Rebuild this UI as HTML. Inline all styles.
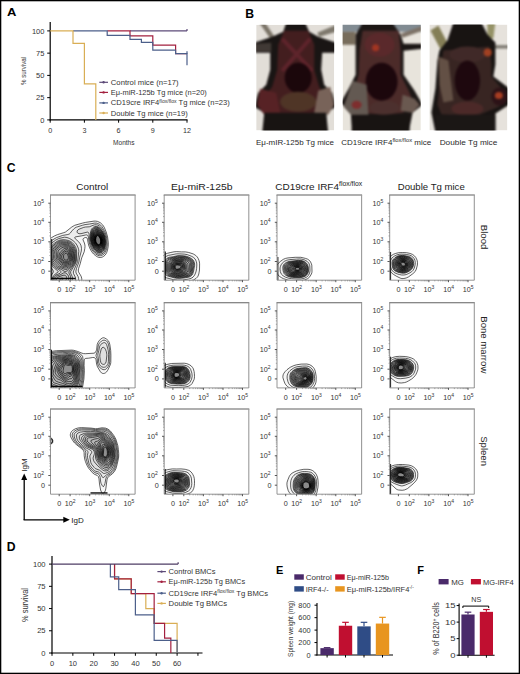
<!DOCTYPE html>
<html><head><meta charset="utf-8"><style>
html,body{margin:0;padding:0;background:#fff;overflow:hidden;}
svg{display:block;}
text{font-family:"Liberation Sans", sans-serif;}
</style></head><body>
<svg width="520" height="674" viewBox="0 0 520 674">
<rect x="0" y="0" width="520" height="674" fill="#fff"/>
<text x="6.90" y="16.00" font-size="11.4" text-anchor="start" fill="#000" font-weight="bold" textLength="9.4" lengthAdjust="spacingAndGlyphs" >A</text>
<line x1="50.20" y1="22.00" x2="50.20" y2="120.50" stroke="#000" stroke-width="1.2"/>
<line x1="49.60" y1="119.90" x2="187.50" y2="119.90" stroke="#000" stroke-width="1.2"/>
<line x1="47.20" y1="119.90" x2="50.20" y2="119.90" stroke="#000" stroke-width="1"/>
<text x="44.40" y="122.60" font-size="7.5" text-anchor="end" fill="#333" >0</text>
<line x1="47.20" y1="97.65" x2="50.20" y2="97.65" stroke="#000" stroke-width="1"/>
<text x="44.40" y="100.35" font-size="7.5" text-anchor="end" fill="#333" >25</text>
<line x1="47.20" y1="75.40" x2="50.20" y2="75.40" stroke="#000" stroke-width="1"/>
<text x="44.40" y="78.10" font-size="7.5" text-anchor="end" fill="#333" >50</text>
<line x1="47.20" y1="53.15" x2="50.20" y2="53.15" stroke="#000" stroke-width="1"/>
<text x="44.40" y="55.85" font-size="7.5" text-anchor="end" fill="#333" >75</text>
<line x1="47.20" y1="30.90" x2="50.20" y2="30.90" stroke="#000" stroke-width="1"/>
<text x="44.40" y="33.60" font-size="7.5" text-anchor="end" fill="#333" >100</text>
<line x1="50.20" y1="119.90" x2="50.20" y2="122.70" stroke="#000" stroke-width="1"/>
<text x="50.20" y="132.60" font-size="7.2" text-anchor="middle" fill="#333" >0</text>
<line x1="84.40" y1="119.90" x2="84.40" y2="122.70" stroke="#000" stroke-width="1"/>
<text x="84.40" y="132.60" font-size="7.2" text-anchor="middle" fill="#333" >3</text>
<line x1="118.60" y1="119.90" x2="118.60" y2="122.70" stroke="#000" stroke-width="1"/>
<text x="118.60" y="132.60" font-size="7.2" text-anchor="middle" fill="#333" >6</text>
<line x1="152.80" y1="119.90" x2="152.80" y2="122.70" stroke="#000" stroke-width="1"/>
<text x="152.80" y="132.60" font-size="7.2" text-anchor="middle" fill="#333" >9</text>
<line x1="187.00" y1="119.90" x2="187.00" y2="122.70" stroke="#000" stroke-width="1"/>
<text x="187.00" y="132.60" font-size="7.2" text-anchor="middle" fill="#333" >12</text>
<text x="123.80" y="145.00" font-size="6.6" text-anchor="middle" fill="#333" textLength="21.5" lengthAdjust="spacingAndGlyphs" >Months</text>
<text x="26.00" y="71.00" font-size="6.8" text-anchor="middle" fill="#333" textLength="28" lengthAdjust="spacingAndGlyphs" transform="rotate(-90 26.00 71.00)" >% survival</text>
<polyline points="130.00,30.90 187.00,30.90 187.00,30.90" stroke="#5d4a78" stroke-width="1.2" fill="none" />
<polyline points="107.20,30.90 130.00,30.90 130.00,35.88 152.80,35.88 152.80,45.14 175.60,45.14 175.60,53.68 187.00,53.68 187.00,53.68" stroke="#a3203f" stroke-width="1.2" fill="none" />
<polyline points="73.00,30.90 107.20,30.90 107.20,35.35 130.00,35.35 130.00,39.36 141.40,39.36 141.40,42.47 152.80,42.47 152.80,50.04 175.60,50.04 175.60,53.68 187.00,53.68 187.00,53.68 187.00,53.68 187.00,65.17" stroke="#4c5f8a" stroke-width="1.2" fill="none" />
<polyline points="50.20,30.90 73.00,30.90 73.00,43.36 84.40,43.36 84.40,83.86 95.80,83.86 95.80,83.86 95.80,83.86 95.80,119.90" stroke="#d9ae55" stroke-width="1.2" fill="none" />
<line x1="187.00" y1="30.90" x2="187.00" y2="29.12" stroke="#5d4a78" stroke-width="1.2"/>
<line x1="187.00" y1="53.68" x2="187.00" y2="51.37" stroke="#4c5f8a" stroke-width="1.2"/>
<line x1="99.30" y1="82.30" x2="108.00" y2="82.30" stroke="#5d4a78" stroke-width="1.2"/>
<circle cx="103.6" cy="82.3" r="1.2" fill="#5d4a78"/>
<text x="110.80" y="84.80" font-size="7.2" text-anchor="start" fill="#333" textLength="67.8" lengthAdjust="spacingAndGlyphs" >Control mice (n=17)</text>
<line x1="99.30" y1="92.40" x2="108.00" y2="92.40" stroke="#a3203f" stroke-width="1.2"/>
<circle cx="103.6" cy="92.4" r="1.2" fill="#a3203f"/>
<text x="110.80" y="94.90" font-size="7.2" text-anchor="start" fill="#333" textLength="96" lengthAdjust="spacingAndGlyphs" >E&#956;-miR-125b Tg mice (n=20)</text>
<line x1="99.30" y1="102.90" x2="108.00" y2="102.90" stroke="#4c5f8a" stroke-width="1.2"/>
<circle cx="103.6" cy="102.9" r="1.2" fill="#4c5f8a"/>
<text x="110.80" y="105.40" font-size="7.2" text-anchor="start" fill="#333" textLength="119" lengthAdjust="spacingAndGlyphs" >CD19cre IRF4<tspan font-size="4.8" dy="-2.8">flox/flox</tspan><tspan dy="2.8"> Tg mice (n=23)</tspan></text>
<line x1="99.30" y1="113.00" x2="108.00" y2="113.00" stroke="#d9ae55" stroke-width="1.2"/>
<circle cx="103.6" cy="113.0" r="1.2" fill="#d9ae55"/>
<text x="110.80" y="115.50" font-size="7.2" text-anchor="start" fill="#333" textLength="77" lengthAdjust="spacingAndGlyphs" >Double Tg mice (n=19)</text>
<text x="245.20" y="18.30" font-size="12.2" text-anchor="start" fill="#000" font-weight="bold" >B</text>
<defs><filter id="bl" x="-10%" y="-10%" width="120%" height="120%" color-interpolation-filters="sRGB"><feGaussianBlur stdDeviation="0.9"/><feComponentTransfer><feFuncR type="linear" slope="0.72"/><feFuncG type="linear" slope="0.72"/><feFuncB type="linear" slope="0.72"/></feComponentTransfer></filter><filter id="bl2" x="-20%" y="-20%" width="140%" height="140%"><feGaussianBlur stdDeviation="2.2"/></filter><clipPath id="ph1"><rect x="256.2" y="24.8" width="78" height="105.6"/></clipPath><clipPath id="ph2"><rect x="342.6" y="24.8" width="78.2" height="105.6"/></clipPath><clipPath id="ph3"><rect x="429.4" y="24.6" width="78" height="105.8"/></clipPath></defs>
<g clip-path="url(#ph1)">
<rect x="256.20" y="24.80" width="78.00" height="105.60" fill="#e2ded8" stroke="none" stroke-width="0" />
<g filter="url(#bl)" transform="translate(256.2 24.8)">
<polygon points="3,-2 9,-2 19,13 15,15" fill="#aaa090"/>
<polygon points="80,0 80,7 63,12 61,8" fill="#b0a898"/>
<polygon points="30,-2 49,-2 53,7 62,12 80,18 80,28 66,28 65,45 68,60 76,68 80,82 70,88 72,108 6,108 8,88 -2,82 2,68 10,60 14,45 14,28 -2,28 -2,18 16,12 27,7" fill="#241e1c"/>
<polygon points="-2,19 15,18 15,27 -2,27" fill="#5a504a"/>
<polygon points="28,6 52,6 58,20 58,45 63,62 70,72 70,86 50,89 28,89 8,86 8,72 16,62 21,45 22,20" fill="#5e2a2c"/>
<path d="M26 14 L56 46 M54 14 L26 46" stroke="#8a3440" stroke-width="4" stroke-opacity="0.85" fill="none"/>
<ellipse cx="42" cy="53" rx="13.5" ry="15" fill="#260a10"/>
<ellipse cx="42" cy="77" rx="18" ry="10" fill="#6e4a36"/>
<polygon points="4,64 20,68 24,88 8,90 1,80" fill="#7a3034"/>
<polygon points="74,62 62,66 58,88 72,90 78,80" fill="#a88a7c"/>
<rect x="8" y="88" width="62" height="20" fill="#221c1a"/>
</g></g>
<g clip-path="url(#ph2)">
<rect x="342.60" y="24.80" width="78.20" height="105.60" fill="#e8e4dc" stroke="none" stroke-width="0" />
<g filter="url(#bl)" transform="translate(342.6 24.8)">
<rect x="-2" y="-2" width="82" height="9" fill="#b4c2cc"/>
<rect x="-2" y="7" width="15" height="13" fill="#a89880"/>
<polygon points="80,1 80,6 60,13 58,9" fill="#b0a090"/>
<polygon points="20,-2 50,-2 58,10 61,19 80,19 80,24 61,26 61,50 72,66 80,80 70,88 66,108 10,108 8,88 -2,78 6,64 13,50 13,26 13,10" fill="#28201e"/>
<polygon points="20,6 56,6 58,25 58,50 66,66 72,80 60,88 40,90 20,88 6,78 12,64 16,50 17,25" fill="#6a3c3a"/>
<ellipse cx="37" cy="20" rx="15" ry="12" fill="#7e3a3c"/>
<ellipse cx="33" cy="23" rx="3.5" ry="3.5" fill="#e04a30"/>
<ellipse cx="39" cy="57" rx="16" ry="19" fill="#280a12"/>
<polygon points="1,82 10,56 24,60 26,92 10,92" fill="#8a7c72"/>
<ellipse cx="14" cy="80" rx="5" ry="4" fill="#b04040"/>
<polygon points="60,70 72,74 77,80 70,88 58,86" fill="#947c70"/>
<ellipse cx="42" cy="83" rx="15" ry="7" fill="#6a4440"/>
<rect x="9" y="90" width="58" height="18" fill="#221c1a"/>
</g></g>
<g clip-path="url(#ph3)">
<rect x="429.40" y="24.60" width="78.00" height="105.80" fill="#e6e2dc" stroke="none" stroke-width="0" />
<g filter="url(#bl)" transform="translate(429.4 24.6)">
<polygon points="1,6 9,1 20,22 15,32" fill="#b8b078"/>
<polygon points="58,-2 66,-2 64,14 58,14" fill="#d0cc90"/>
<rect x="64" y="20.5" width="16" height="3.5" fill="#b2aea2"/>
<polygon points="24,-2 52,-2 58,10 66,18 66,40 64,52 80,64 80,80 66,89 66,108 6,108 2,88 6,64 8,36 10,26 18,16" fill="#221c1a"/>
<polygon points="14,26 60,22 62,40 62,52 74,66 70,82 46,92 12,90 8,80 10,60 12,40" fill="#4e3430"/>
<ellipse cx="38" cy="30" rx="18" ry="8" fill="#5a3a38"/>
<polygon points="9,32 19,36 24,76 14,78 10,60" fill="#8a7060"/>
<ellipse cx="38" cy="56" rx="12.7" ry="20" fill="#2a0c14"/>
<ellipse cx="38" cy="84" rx="16" ry="7" fill="#6a3a38"/>
<ellipse cx="58.3" cy="27.8" rx="4" ry="4" fill="#e05a30"/>
<ellipse cx="70" cy="72" rx="8" ry="9" fill="#3e1a20"/>
<ellipse cx="69.4" cy="71" rx="4" ry="3.5" fill="#e85530"/>
<rect x="6" y="90" width="60" height="18" fill="#26201e"/>
</g></g>
<text x="295.00" y="145.20" font-size="8.0" text-anchor="middle" fill="#2a2a2a" textLength="78" lengthAdjust="spacingAndGlyphs" >E&#956;-mIR-125b Tg mice</text>
<text x="341.20" y="145.20" font-size="8.0" text-anchor="start" fill="#2a2a2a" textLength="90" lengthAdjust="spacingAndGlyphs" >CD19cre IRF4<tspan font-size="5.8" dy="-3.3">flox/flox</tspan><tspan dy="3.3"> mice</tspan></text>
<text x="468.50" y="145.20" font-size="8.0" text-anchor="middle" fill="#2a2a2a" textLength="57.7" lengthAdjust="spacingAndGlyphs" >Double Tg mice</text>
<text x="6.80" y="172.00" font-size="12.2" text-anchor="start" fill="#000" font-weight="bold" >C</text>
<text x="92.25" y="189.60" font-size="9.6" text-anchor="middle" fill="#222" textLength="32" lengthAdjust="spacingAndGlyphs" >Control</text>
<text x="201.75" y="189.60" font-size="9.6" text-anchor="middle" fill="#222" textLength="61.5" lengthAdjust="spacingAndGlyphs" >E&#956;-miR-125b</text>
<text x="318.75" y="189.60" font-size="9.6" text-anchor="middle" fill="#222" textLength="87" lengthAdjust="spacingAndGlyphs" >CD19cre IRF4<tspan font-size="6.6" dy="-3.6">flox/flox</tspan></text>
<text x="431.25" y="189.60" font-size="9.6" text-anchor="middle" fill="#222" textLength="67" lengthAdjust="spacingAndGlyphs" >Double Tg mice</text>
<clipPath id="cp00"><rect x="50.5" y="195.0" width="84.6" height="85.2"/></clipPath>
<g clip-path="url(#cp00)"><g transform="translate(50.5 195.0)" fill="#000" fill-opacity="0.035" stroke="#000" stroke-width="0.65" stroke-opacity="0.95">
<path d="M48.8 49.6 47.8 49.6 46.8 49.0 45.9 48.0 45.4 46.5 45.2 44.8 45.4 42.8 46.0 41.3 46.8 40.7 47.5 40.7 48.5 41.5 49.5 43.1 50.1 44.8 50.2 46.2 50.0 47.8 49.5 48.9 48.8 49.6Z"/>
<path d="M48.8 49.8 47.8 49.8 46.5 49.0 45.7 47.8 45.2 46.2 45.0 44.5 45.3 42.5 45.9 41.0 46.8 40.4 47.8 40.6 48.8 41.5 49.7 43.2 50.2 44.8 50.4 46.2 50.1 48.0 49.5 49.2 48.8 49.8Z"/>
<path d="M49.0 50.0 48.0 50.2 46.8 49.5 45.7 48.2 45.0 46.5 44.8 44.5 45.1 42.2 45.8 40.7 46.2 40.2 46.8 40.0 47.8 40.2 48.8 41.1 49.7 42.8 50.4 44.5 50.5 46.0 50.3 47.8 49.8 49.2 49.0 50.0Z"/>
<path d="M48.8 50.5 47.5 50.4 46.3 49.5 45.3 48.0 44.7 46.2 44.6 44.0 45.0 41.8 45.8 40.1 46.8 39.6 48.0 40.0 49.0 41.0 50.0 42.8 50.6 44.8 50.7 46.5 50.4 48.5 49.8 49.8 48.8 50.5Z"/>
<path d="M49.0 50.9 47.8 50.8 46.2 49.8 45.2 48.2 44.5 46.2 44.3 44.0 44.7 41.5 45.5 39.8 46.5 39.1 47.8 39.3 49.0 40.5 50.1 42.2 50.8 44.5 51.0 46.5 50.6 48.8 50.0 50.1 49.0 50.9Z"/>
<path d="M49.0 51.3 47.8 51.3 46.2 50.2 45.0 48.5 44.2 46.2 44.0 43.8 44.4 41.2 45.2 39.5 46.2 38.6 47.5 38.8 49.0 39.9 50.2 41.8 51.1 44.2 51.3 46.5 50.9 49.0 50.2 50.5 49.0 51.3Z"/>
<path d="M16.2 65.0 15.0 65.0 14.0 64.5 13.3 63.5 13.0 62.0 13.0 60.8 13.5 59.5 14.5 58.5 15.8 58.0 16.4 58.2 16.9 59.0 17.7 61.0 17.9 62.2 17.8 63.2 17.5 64.0 17.0 64.6 16.2 65.0Z"/>
<path d="M49.0 51.8 48.2 51.8 47.5 51.6 46.0 50.5 44.6 48.5 43.9 46.2 43.7 43.5 44.2 40.8 45.0 38.9 45.5 38.4 46.2 38.1 47.0 38.1 47.8 38.4 49.2 39.6 50.5 41.8 51.3 44.2 51.5 46.8 51.1 49.5 50.2 51.0 49.0 51.8Z"/>
<path d="M16.5 66.3 15.8 66.4 14.8 66.3 13.8 66.0 13.0 65.5 11.6 63.8 11.1 62.0 11.4 60.2 12.5 58.5 14.2 56.9 16.0 56.1 16.8 56.3 17.5 57.2 18.6 60.5 18.9 62.2 18.8 63.5 18.4 64.8 17.5 65.7 16.5 66.3Z"/>
<path d="M49.2 52.3 47.8 52.2 46.8 51.7 46.0 51.0 44.5 49.0 43.6 46.5 43.3 43.5 43.8 40.5 44.8 38.4 45.2 37.9 46.0 37.6 46.8 37.5 47.5 37.7 49.2 39.1 50.7 41.2 51.6 44.0 51.8 46.8 51.5 49.5 50.5 51.4 49.2 52.3Z"/>
<path d="M16.5 67.3 15.5 67.4 14.2 67.3 13.2 66.9 12.3 66.2 10.4 64.0 9.8 62.8 9.6 61.8 10.0 59.8 11.2 57.9 14.0 55.5 15.0 54.8 16.0 54.5 17.2 54.9 18.3 56.2 19.4 60.2 19.8 62.5 19.6 64.2 19.0 65.5 18.0 66.6 16.5 67.3Z"/>
<path d="M49.2 52.8 48.5 52.9 47.5 52.6 45.8 51.3 44.2 49.0 43.2 46.2 43.0 43.2 43.5 40.0 44.5 37.9 45.2 37.2 46.0 37.0 46.8 36.9 47.8 37.3 49.5 38.8 51.0 41.0 51.9 43.8 52.2 46.8 51.7 50.0 50.8 51.9 50.0 52.5 49.2 52.8Z"/>
<path d="M16.2 68.3 15.0 68.4 13.8 68.1 11.8 67.0 10.2 65.5 9.1 64.0 8.6 63.0 8.4 61.8 8.5 60.5 8.9 59.0 9.4 57.8 10.1 56.8 13.2 54.0 14.5 53.4 15.8 53.1 16.8 53.3 17.5 53.7 18.2 54.4 19.0 55.5 19.8 58.0 20.6 62.5 20.3 64.8 19.6 66.2 18.2 67.5 16.2 68.3Z"/>
<path d="M49.5 53.3 48.5 53.4 47.5 53.2 45.8 51.8 43.9 49.2 42.9 46.5 42.6 43.2 43.1 39.8 43.7 38.2 44.2 37.4 45.0 36.7 45.8 36.4 46.5 36.3 47.5 36.6 48.5 37.2 49.5 38.1 51.1 40.5 52.2 43.5 52.5 46.8 52.1 50.0 51.7 51.2 51.0 52.2 50.2 53.0 49.5 53.3Z"/>
<path d="M16.2 69.3 15.0 69.4 13.8 69.2 12.5 68.7 11.5 68.0 8.1 64.5 7.3 63.2 7.1 62.0 7.5 56.8 7.6 56.0 8.1 55.2 9.9 53.8 11.5 52.7 13.0 52.2 15.5 51.9 16.8 52.1 17.8 52.6 18.8 53.6 19.7 55.0 20.7 57.8 21.3 62.5 21.1 65.0 20.3 66.8 18.5 68.3 16.2 69.3Z"/>
<path d="M49.0 54.0 48.0 53.9 47.2 53.6 46.2 52.9 45.2 51.9 43.4 49.0 42.4 46.0 42.2 42.5 42.9 39.0 43.4 37.8 44.0 36.8 44.8 36.1 45.8 35.8 46.8 35.8 47.8 36.1 48.8 36.8 50.0 38.1 51.7 40.8 52.6 44.0 52.8 47.8 52.2 51.0 51.6 52.2 51.0 53.1 50.0 53.8 49.0 54.0Z"/>
<path d="M15.5 70.5 13.2 70.2 11.2 69.2 6.8 65.0 6.1 64.0 5.7 63.0 5.9 59.2 5.6 56.8 5.8 55.5 6.8 54.2 9.0 52.3 10.2 51.5 11.5 51.0 15.8 50.8 16.8 51.0 17.8 51.4 18.9 52.5 20.0 54.0 20.9 55.8 21.5 57.8 22.0 63.5 21.9 65.0 21.5 66.3 20.5 67.7 19.0 69.0 17.0 70.1 15.5 70.5Z"/>
<path d="M49.8 54.5 48.8 54.7 47.5 54.4 46.5 53.8 45.5 52.9 43.4 49.8 42.1 46.5 41.9 44.8 41.8 42.8 42.5 38.8 43.0 37.2 43.7 36.2 44.5 35.6 45.5 35.1 46.5 35.1 47.5 35.4 48.8 36.2 49.8 37.1 50.8 38.5 51.7 40.0 52.8 43.2 53.2 47.0 53.1 49.0 52.7 50.8 52.2 52.2 51.5 53.3 50.8 54.0 49.8 54.5Z"/>
<path d="M16.5 71.5 15.5 71.7 14.0 71.6 12.2 71.1 10.8 70.3 5.7 65.8 4.9 64.8 4.4 63.5 4.2 62.2 4.4 59.5 4.1 56.8 4.5 55.2 5.6 53.8 8.2 51.4 9.5 50.4 10.8 49.9 12.2 49.7 15.8 49.8 17.0 50.1 18.0 50.5 19.2 51.6 20.4 53.0 21.5 55.0 22.2 57.0 22.5 59.0 22.7 63.8 22.6 65.2 22.2 66.5 21.5 67.7 20.5 68.8 18.0 70.7 16.5 71.5Z"/>
<path d="M49.5 55.3 48.5 55.3 47.2 54.9 46.2 54.3 45.2 53.2 44.1 51.8 42.9 49.8 42.2 48.0 41.7 46.2 41.5 44.2 41.4 42.2 42.1 38.2 42.7 36.8 43.4 35.8 44.2 35.0 45.2 34.5 46.2 34.5 47.5 34.8 48.5 35.3 49.8 36.5 51.0 38.0 51.9 39.5 52.7 41.2 53.1 43.0 53.5 45.0 53.5 47.5 53.4 49.5 52.9 51.5 52.3 53.0 51.5 54.1 50.5 54.9 49.5 55.3Z"/>
<path d="M16.0 73.0 14.5 73.0 12.5 72.4 10.5 71.7 9.0 70.8 4.5 66.4 3.5 65.0 2.9 63.5 2.9 59.8 2.7 56.8 3.2 55.0 4.5 53.3 7.8 50.4 9.2 49.3 10.5 48.8 12.2 48.7 16.0 49.0 17.2 49.2 18.5 49.8 19.8 50.8 21.0 52.5 22.3 55.0 23.0 57.0 23.2 59.0 23.3 64.5 23.2 65.8 22.8 67.0 22.0 68.3 20.5 69.8 17.5 72.3 16.0 73.0Z"/>
<path d="M11.2 85.1 10.5 85.2 9.8 85.1 9.4 84.8 9.4 84.2 9.9 83.8 11.0 83.2 11.8 83.1 12.4 83.2 12.6 83.8 12.5 84.2 11.9 84.8 11.2 85.1Z"/>
<path d="M49.5 56.0 48.5 56.0 47.2 55.6 46.0 54.8 44.8 53.5 42.6 50.0 41.9 48.2 41.3 46.2 41.1 44.2 41.1 41.8 41.3 39.5 41.8 37.5 42.5 36.0 43.2 35.0 44.2 34.2 45.2 33.8 46.5 33.8 47.8 34.2 48.8 34.8 50.0 36.0 51.3 37.8 52.4 39.5 53.1 41.2 53.6 43.2 53.9 45.5 53.9 48.0 53.7 50.2 53.2 52.0 52.6 53.5 51.8 54.7 50.8 55.6 49.5 56.0Z"/>
<path d="M16.5 74.3 15.2 74.5 13.5 74.1 9.8 72.6 7.5 71.4 5.6 69.8 3.8 67.6 2.3 65.5 1.6 63.8 1.3 57.2 1.5 56.0 2.0 54.8 3.3 53.0 6.9 49.8 8.5 48.5 10.0 47.9 12.2 47.7 16.0 48.0 17.8 48.4 19.0 49.0 20.4 50.2 21.6 51.8 22.9 54.2 23.6 56.2 23.9 58.5 24.0 64.5 23.9 65.8 23.5 67.0 22.7 68.5 21.2 70.2 18.2 73.1 16.5 74.3Z"/>
<path d="M10.5 87.3 8.5 87.1 7.0 86.2 6.4 85.5 5.9 84.5 5.9 83.8 6.2 83.0 7.2 82.2 12.5 80.3 13.8 80.2 15.0 80.6 15.8 81.4 16.1 82.5 16.0 84.0 15.5 85.2 14.8 86.0 13.9 86.5 10.5 87.3Z"/>
<path d="M49.2 56.8 48.0 56.6 46.8 56.0 45.5 55.1 44.3 53.8 42.2 50.0 41.4 48.0 40.9 46.0 40.6 43.8 40.7 41.2 40.9 39.0 41.4 37.0 42.0 35.5 43.0 34.2 44.0 33.5 45.2 33.1 46.5 33.1 47.8 33.5 49.0 34.3 50.2 35.6 51.7 37.5 52.7 39.2 53.4 41.0 53.9 43.2 54.3 46.0 54.3 48.5 54.0 50.5 53.4 52.8 52.6 54.5 51.8 55.6 50.5 56.4 49.2 56.8Z"/>
<path d="M15.2 76.5 14.0 76.4 10.9 74.5 7.0 72.5 5.2 71.2 3.7 69.8 2.3 67.8 0.9 65.2 0.3 63.5 0.1 61.2 0.1 57.2 0.5 55.5 1.1 54.0 3.0 51.8 6.5 48.7 8.5 47.4 10.2 46.9 12.8 46.8 16.2 47.2 18.2 47.7 19.8 48.4 21.2 49.8 22.5 51.5 23.8 54.2 24.5 56.5 24.6 58.5 24.6 65.0 24.5 66.2 24.0 67.5 22.5 69.9 19.0 73.9 17.0 75.7 15.2 76.5Z"/>
<path d="M13.5 88.0 7.4 88.0 6.8 87.7 5.4 86.5 4.5 85.0 4.3 83.5 4.8 82.2 5.4 81.5 6.1 81.0 9.5 79.9 13.2 77.9 14.5 77.7 15.5 78.2 17.0 79.5 18.0 81.0 18.3 82.5 18.1 84.2 17.6 85.8 16.8 86.8 15.5 87.5 13.5 88.0Z"/>
<path d="M50.2 57.3 49.0 57.4 47.5 57.1 46.2 56.4 44.8 55.1 43.6 53.5 42.4 51.5 41.3 49.0 40.6 46.8 40.3 44.5 40.2 41.5 40.4 39.0 40.8 36.8 41.4 35.2 42.2 34.0 43.5 32.9 44.8 32.4 46.2 32.3 47.5 32.6 48.8 33.3 49.8 34.2 51.4 36.2 52.6 38.2 53.6 40.5 54.2 42.5 54.6 45.0 54.7 47.8 54.6 49.8 54.1 52.0 53.5 54.0 52.6 55.5 51.5 56.6 50.2 57.3Z"/>
<path d="M17.2 88.0 5.5 88.0 3.7 86.2 3.2 85.2 3.0 84.0 3.2 82.8 3.8 81.5 4.7 80.5 5.5 79.9 8.5 78.8 9.5 78.2 10.2 77.5 10.3 76.5 9.3 75.2 5.2 72.8 3.0 70.8 2.0 69.4 -0.0 66.0 -0.9 63.5 -1.1 60.2 -0.9 57.0 -0.5 55.0 0.4 53.2 2.5 50.8 6.0 47.8 8.0 46.6 10.2 45.9 13.0 45.8 16.0 46.1 18.5 46.8 20.2 47.6 21.8 49.0 23.1 50.8 24.6 53.8 25.2 56.0 25.4 58.8 25.3 65.0 25.1 66.5 24.6 67.8 23.8 69.2 19.0 75.8 18.5 76.8 18.4 78.0 20.0 81.2 20.2 83.2 19.9 84.8 19.2 86.2 18.4 87.2 17.2 88.0Z"/>
<path d="M50.0 58.0 48.5 58.1 47.0 57.6 45.5 56.6 44.2 55.3 43.1 53.8 41.9 51.5 40.9 49.0 40.2 46.5 39.9 44.0 39.8 40.8 39.9 38.0 40.4 35.8 41.0 34.2 42.0 33.0 43.2 32.1 44.5 31.6 46.0 31.5 47.5 31.8 48.8 32.5 50.0 33.6 51.6 35.8 52.9 37.8 53.9 40.0 54.6 42.5 54.9 45.0 55.1 48.2 54.9 50.5 54.3 53.0 53.6 55.0 52.6 56.5 51.5 57.4 50.0 58.0Z"/>
<path d="M19.2 88.0 9.8 88.1 3.9 88.0 2.5 86.5 1.8 85.0 1.8 84.0 1.9 83.0 3.1 80.8 4.8 78.9 7.4 77.2 7.7 76.5 7.2 75.8 4.0 73.3 2.0 71.3 1.1 70.0 -1.3 65.8 -1.9 64.2 -2.1 62.0 -2.1 59.0 -1.8 56.2 -1.4 54.8 -0.7 53.2 0.5 51.5 1.8 50.0 3.8 48.3 6.5 46.4 8.0 45.6 9.5 45.1 12.5 44.7 14.8 44.8 18.0 45.5 20.2 46.5 22.0 47.8 23.5 49.5 25.1 52.2 26.0 54.8 26.2 58.0 25.8 66.2 24.9 68.8 20.2 76.5 20.1 78.0 21.7 81.5 22.0 82.8 22.0 83.8 21.7 85.0 21.2 86.0 20.2 87.2 19.2 88.0Z"/>
<path d="M50.2 59.3 48.2 59.3 46.0 58.3 43.9 56.5 42.1 54.0 40.8 51.2 39.6 47.5 39.2 45.0 38.6 39.5 38.3 38.2 37.9 37.5 37.5 37.2 36.8 37.1 30.5 38.7 28.5 38.7 27.2 38.1 26.6 37.2 26.6 36.0 27.3 35.0 28.5 34.2 33.2 32.4 35.0 32.0 38.8 31.8 42.5 30.3 44.2 29.8 45.8 29.8 47.2 30.1 48.8 30.9 50.1 32.0 52.6 35.5 54.4 39.2 55.4 43.0 55.9 48.2 55.4 52.2 54.9 54.2 54.2 56.0 53.4 57.2 52.5 58.2 51.5 58.8 50.2 59.3Z"/>
<path d="M22.8 88.0 9.5 88.2 0.8 88.0 -0.2 87.0 -0.8 86.0 -0.9 84.2 -0.5 82.2 0.2 81.0 2.3 78.0 2.8 77.0 2.8 76.2 2.3 75.0 -0.4 71.5 -3.0 66.8 -3.0 53.5 -0.9 50.2 0.9 48.2 5.2 45.1 8.2 43.6 12.5 42.5 14.2 42.2 16.5 42.5 19.2 43.5 22.5 45.6 24.9 47.8 26.4 50.0 27.8 53.2 28.2 54.8 28.3 56.5 27.1 66.5 26.5 68.2 23.3 75.5 22.8 77.0 23.0 78.5 25.0 82.5 25.1 84.8 24.8 85.8 24.3 86.8 23.3 87.8 22.8 88.0Z"/>
<path d="M26.5 88.0 19.0 88.2 5.2 88.2 -2.2 88.0 -2.7 88.0 -2.9 87.8 -3.0 86.2 -3.0 80.8 -2.4 79.8 -0.7 77.5 -0.4 76.2 -0.8 75.0 -3.0 71.4 -3.2 60.5 -3.0 49.7 -1.5 47.9 0.2 46.3 3.5 44.0 6.0 42.6 12.2 40.4 17.4 39.5 18.8 39.0 19.7 38.2 21.3 36.0 23.2 34.0 24.5 32.9 25.8 32.2 32.2 30.2 34.5 29.6 39.2 29.0 44.0 28.1 45.8 28.1 47.2 28.5 48.8 29.2 50.2 30.2 51.4 31.5 52.4 33.0 53.9 35.8 54.9 38.0 55.8 41.0 56.3 43.5 56.7 49.0 56.6 51.0 56.1 53.8 55.4 56.0 54.6 57.5 53.5 59.0 52.2 59.9 50.0 60.7 48.8 60.7 47.5 60.4 45.0 58.9 42.6 56.5 41.1 54.2 39.8 51.2 38.6 47.0 37.8 41.8 37.5 40.8 37.0 40.2 36.2 39.9 35.0 40.0 30.8 40.9 25.0 41.9 24.5 42.1 24.2 42.5 24.3 43.0 24.8 43.8 27.9 46.5 29.7 48.8 30.6 50.8 31.0 53.5 30.8 56.0 29.2 62.2 28.4 67.0 26.0 73.5 25.4 76.0 25.4 77.0 25.6 78.0 27.6 81.5 28.1 83.5 28.1 84.8 27.8 86.0 27.2 87.2 26.5 88.0Z"/>
<path d="M30.0 88.0 24.5 88.2 8.8 88.2 -2.2 88.2 -3.0 88.2 -3.2 88.0 -3.2 54.8 -3.0 45.9 0.8 42.8 4.0 40.9 7.0 39.6 13.2 37.7 15.0 37.0 21.3 32.0 24.2 30.3 32.0 28.1 35.0 27.4 43.5 26.1 45.2 26.1 47.0 26.4 49.8 27.7 52.1 29.8 53.7 32.2 55.7 37.0 57.1 42.0 57.8 47.8 57.7 51.5 57.0 55.2 56.2 57.5 55.4 59.0 54.5 60.2 53.2 61.3 51.8 62.1 50.0 62.5 48.5 62.4 47.0 61.9 45.0 60.6 43.1 59.0 41.6 57.2 40.2 55.0 39.1 52.8 38.1 50.0 37.6 47.8 37.0 44.3 36.5 43.0 35.8 42.5 35.0 42.5 34.0 42.8 32.9 43.5 32.5 44.2 32.6 45.0 33.9 48.0 34.4 50.0 34.5 51.5 34.3 53.5 33.7 56.8 31.2 62.9 29.7 68.8 28.2 73.2 27.8 75.0 27.9 76.2 28.2 77.2 30.6 81.2 31.2 83.2 31.3 84.5 31.1 86.0 30.5 87.5 30.0 88.0Z"/>
<line x1="1.2" y1="44" x2="1.2" y2="85" stroke-width="1.0"/>
<line x1="0" y1="83.5" x2="25" y2="83.5" stroke-width="1.3"/>
</g></g>
<line x1="50.00" y1="195.00" x2="135.60" y2="195.00" stroke="#606060" stroke-width="1.1"/>
<line x1="135.10" y1="195.00" x2="135.10" y2="280.20" stroke="#9a9a9a" stroke-width="1.1"/>
<line x1="50.50" y1="195.00" x2="50.50" y2="280.20" stroke="#8a8a8a" stroke-width="0.9"/>
<line x1="50.50" y1="280.20" x2="135.10" y2="280.20" stroke="#8a8a8a" stroke-width="0.9"/>
<line x1="49.30" y1="216.55" x2="50.50" y2="216.55" stroke="#777" stroke-width="0.6"/>
<line x1="49.30" y1="213.19" x2="50.50" y2="213.19" stroke="#777" stroke-width="0.6"/>
<line x1="49.30" y1="210.80" x2="50.50" y2="210.80" stroke="#777" stroke-width="0.6"/>
<line x1="49.30" y1="208.95" x2="50.50" y2="208.95" stroke="#777" stroke-width="0.6"/>
<line x1="49.30" y1="207.44" x2="50.50" y2="207.44" stroke="#777" stroke-width="0.6"/>
<line x1="49.30" y1="206.16" x2="50.50" y2="206.16" stroke="#777" stroke-width="0.6"/>
<line x1="49.30" y1="205.05" x2="50.50" y2="205.05" stroke="#777" stroke-width="0.6"/>
<line x1="49.30" y1="204.07" x2="50.50" y2="204.07" stroke="#777" stroke-width="0.6"/>
<line x1="49.30" y1="235.93" x2="50.50" y2="235.93" stroke="#777" stroke-width="0.6"/>
<line x1="49.30" y1="232.50" x2="50.50" y2="232.50" stroke="#777" stroke-width="0.6"/>
<line x1="49.30" y1="230.06" x2="50.50" y2="230.06" stroke="#777" stroke-width="0.6"/>
<line x1="49.30" y1="228.17" x2="50.50" y2="228.17" stroke="#777" stroke-width="0.6"/>
<line x1="49.30" y1="226.63" x2="50.50" y2="226.63" stroke="#777" stroke-width="0.6"/>
<line x1="49.30" y1="225.32" x2="50.50" y2="225.32" stroke="#777" stroke-width="0.6"/>
<line x1="49.30" y1="224.19" x2="50.50" y2="224.19" stroke="#777" stroke-width="0.6"/>
<line x1="49.30" y1="223.19" x2="50.50" y2="223.19" stroke="#777" stroke-width="0.6"/>
<line x1="49.30" y1="255.57" x2="50.50" y2="255.57" stroke="#777" stroke-width="0.6"/>
<line x1="49.30" y1="252.10" x2="50.50" y2="252.10" stroke="#777" stroke-width="0.6"/>
<line x1="49.30" y1="249.64" x2="50.50" y2="249.64" stroke="#777" stroke-width="0.6"/>
<line x1="49.30" y1="247.73" x2="50.50" y2="247.73" stroke="#777" stroke-width="0.6"/>
<line x1="49.30" y1="246.17" x2="50.50" y2="246.17" stroke="#777" stroke-width="0.6"/>
<line x1="49.30" y1="244.85" x2="50.50" y2="244.85" stroke="#777" stroke-width="0.6"/>
<line x1="49.30" y1="243.71" x2="50.50" y2="243.71" stroke="#777" stroke-width="0.6"/>
<line x1="49.30" y1="242.70" x2="50.50" y2="242.70" stroke="#777" stroke-width="0.6"/>
<line x1="76.00" y1="280.20" x2="76.00" y2="281.40" stroke="#777" stroke-width="0.6"/>
<line x1="79.45" y1="280.20" x2="79.45" y2="281.40" stroke="#777" stroke-width="0.6"/>
<line x1="81.90" y1="280.20" x2="81.90" y2="281.40" stroke="#777" stroke-width="0.6"/>
<line x1="83.80" y1="280.20" x2="83.80" y2="281.40" stroke="#777" stroke-width="0.6"/>
<line x1="85.35" y1="280.20" x2="85.35" y2="281.40" stroke="#777" stroke-width="0.6"/>
<line x1="86.66" y1="280.20" x2="86.66" y2="281.40" stroke="#777" stroke-width="0.6"/>
<line x1="87.80" y1="280.20" x2="87.80" y2="281.40" stroke="#777" stroke-width="0.6"/>
<line x1="88.80" y1="280.20" x2="88.80" y2="281.40" stroke="#777" stroke-width="0.6"/>
<line x1="95.60" y1="280.20" x2="95.60" y2="281.40" stroke="#777" stroke-width="0.6"/>
<line x1="99.05" y1="280.20" x2="99.05" y2="281.40" stroke="#777" stroke-width="0.6"/>
<line x1="101.50" y1="280.20" x2="101.50" y2="281.40" stroke="#777" stroke-width="0.6"/>
<line x1="103.40" y1="280.20" x2="103.40" y2="281.40" stroke="#777" stroke-width="0.6"/>
<line x1="104.95" y1="280.20" x2="104.95" y2="281.40" stroke="#777" stroke-width="0.6"/>
<line x1="106.26" y1="280.20" x2="106.26" y2="281.40" stroke="#777" stroke-width="0.6"/>
<line x1="107.40" y1="280.20" x2="107.40" y2="281.40" stroke="#777" stroke-width="0.6"/>
<line x1="108.40" y1="280.20" x2="108.40" y2="281.40" stroke="#777" stroke-width="0.6"/>
<line x1="115.17" y1="280.20" x2="115.17" y2="281.40" stroke="#777" stroke-width="0.6"/>
<line x1="118.60" y1="280.20" x2="118.60" y2="281.40" stroke="#777" stroke-width="0.6"/>
<line x1="121.04" y1="280.20" x2="121.04" y2="281.40" stroke="#777" stroke-width="0.6"/>
<line x1="122.93" y1="280.20" x2="122.93" y2="281.40" stroke="#777" stroke-width="0.6"/>
<line x1="124.47" y1="280.20" x2="124.47" y2="281.40" stroke="#777" stroke-width="0.6"/>
<line x1="125.78" y1="280.20" x2="125.78" y2="281.40" stroke="#777" stroke-width="0.6"/>
<line x1="126.91" y1="280.20" x2="126.91" y2="281.40" stroke="#777" stroke-width="0.6"/>
<line x1="127.91" y1="280.20" x2="127.91" y2="281.40" stroke="#777" stroke-width="0.6"/>
<line x1="48.30" y1="203.20" x2="50.50" y2="203.20" stroke="#444" stroke-width="0.9"/>
<text x="33.30" y="205.70" font-size="7.2" fill="#333">10<tspan font-size="5" dy="-3.2">5</tspan></text>
<line x1="48.30" y1="222.30" x2="50.50" y2="222.30" stroke="#444" stroke-width="0.9"/>
<text x="33.30" y="224.80" font-size="7.2" fill="#333">10<tspan font-size="5" dy="-3.2">4</tspan></text>
<line x1="48.30" y1="241.80" x2="50.50" y2="241.80" stroke="#444" stroke-width="0.9"/>
<text x="33.30" y="244.30" font-size="7.2" fill="#333">10<tspan font-size="5" dy="-3.2">3</tspan></text>
<line x1="48.30" y1="261.50" x2="50.50" y2="261.50" stroke="#444" stroke-width="0.9"/>
<text x="33.30" y="264.00" font-size="7.2" fill="#333">10<tspan font-size="5" dy="-3.2">2</tspan></text>
<line x1="48.30" y1="271.20" x2="50.50" y2="271.20" stroke="#444" stroke-width="0.9"/>
<text x="43.00" y="273.70" font-size="7.2" text-anchor="middle" fill="#333" >0</text>
<line x1="59.20" y1="280.20" x2="59.20" y2="282.20" stroke="#444" stroke-width="0.9"/>
<text x="59.20" y="292.40" font-size="7.2" text-anchor="middle" fill="#333" >0</text>
<line x1="70.10" y1="280.20" x2="70.10" y2="282.20" stroke="#444" stroke-width="0.9"/>
<text x="64.80" y="292.40" font-size="7.2" fill="#333">10<tspan font-size="5" dy="-3.2">2</tspan></text>
<line x1="89.70" y1="280.20" x2="89.70" y2="282.20" stroke="#444" stroke-width="0.9"/>
<text x="84.40" y="292.40" font-size="7.2" fill="#333">10<tspan font-size="5" dy="-3.2">3</tspan></text>
<line x1="109.30" y1="280.20" x2="109.30" y2="282.20" stroke="#444" stroke-width="0.9"/>
<text x="104.00" y="292.40" font-size="7.2" fill="#333">10<tspan font-size="5" dy="-3.2">4</tspan></text>
<line x1="128.80" y1="280.20" x2="128.80" y2="282.20" stroke="#444" stroke-width="0.9"/>
<text x="123.50" y="292.40" font-size="7.2" fill="#333">10<tspan font-size="5" dy="-3.2">5</tspan></text>
<clipPath id="cp01"><rect x="164.2" y="195.0" width="84.6" height="85.2"/></clipPath>
<g clip-path="url(#cp01)"><g transform="translate(164.2 195.0)" fill="#000" fill-opacity="0.03" stroke="#000" stroke-width="0.65" stroke-opacity="0.95">
<path d="M14.0 74.0 13.0 74.2 12.2 74.1 11.6 73.8 11.2 73.3 11.0 72.5 11.0 71.5 11.3 70.8 11.8 70.2 12.5 70.0 13.4 70.0 16.2 70.5 16.8 70.9 16.7 71.8 16.2 73.0 15.4 73.5 14.0 74.0Z"/>
<path d="M13.8 74.5 12.0 74.5 11.0 73.8 10.7 73.0 10.6 72.0 10.7 71.0 11.0 70.2 11.5 69.8 12.5 69.5 16.5 69.7 17.2 70.0 17.6 70.5 17.6 71.0 17.3 72.5 17.0 73.2 16.0 73.9 13.8 74.5Z"/>
<path d="M13.8 75.0 11.8 75.0 11.0 74.6 10.5 74.0 10.2 73.2 10.1 72.0 10.2 70.8 10.5 70.0 11.2 69.3 12.2 69.0 14.8 69.1 16.8 69.0 17.6 69.2 18.1 69.8 18.3 70.8 18.1 72.8 17.8 73.6 16.8 74.3 13.8 75.0Z"/>
<path d="M14.2 75.5 12.8 75.7 11.8 75.6 11.0 75.4 10.2 74.7 9.8 73.8 9.6 72.8 9.6 71.0 10.0 69.8 10.8 68.9 11.8 68.5 14.8 68.5 16.8 68.3 17.8 68.5 18.6 69.2 18.9 70.2 18.8 73.0 18.5 74.1 18.2 74.5 17.5 74.9 14.2 75.5Z"/>
<path d="M13.8 76.3 12.2 76.4 11.2 76.2 10.4 75.8 9.6 75.0 9.2 74.0 9.1 72.5 9.2 70.5 9.6 69.2 10.5 68.3 11.8 67.9 14.5 67.9 17.0 67.7 18.2 68.0 19.0 68.8 19.6 70.0 19.5 73.8 19.2 74.8 18.8 75.3 18.0 75.7 13.8 76.3Z"/>
<path d="M13.8 77.0 12.2 77.1 11.0 76.8 9.8 76.1 9.0 75.2 8.6 74.2 8.5 72.8 8.6 70.5 9.0 69.0 10.0 67.9 11.5 67.3 17.0 67.0 18.5 67.4 19.7 68.5 20.2 69.8 20.4 74.2 20.2 75.2 19.5 76.0 18.5 76.5 13.8 77.0Z"/>
<path d="M14.2 77.8 12.5 77.9 11.0 77.6 9.4 76.8 8.4 75.8 8.0 75.0 7.9 73.8 8.0 70.5 8.4 69.0 9.5 67.5 11.0 66.8 16.8 66.4 18.5 66.6 20.0 67.7 20.9 69.2 21.4 74.5 21.3 75.5 20.5 76.5 19.2 77.1 14.2 77.8Z"/>
<path d="M14.8 78.5 13.0 78.6 11.2 78.3 9.2 77.4 7.8 76.2 7.3 75.5 7.2 74.5 7.6 69.2 8.0 68.2 8.8 67.3 10.5 66.3 11.8 66.0 16.8 65.7 18.5 65.9 19.5 66.3 20.4 67.0 21.3 68.0 21.9 69.0 22.1 70.0 22.2 72.2 22.6 74.2 22.5 75.5 21.7 76.8 20.2 77.6 18.5 78.0 14.8 78.5Z"/>
<path d="M14.8 79.3 12.8 79.3 11.0 78.9 8.2 77.6 6.9 76.5 6.5 75.8 6.3 74.8 6.9 69.0 7.4 68.0 8.2 66.9 9.2 66.2 10.5 65.7 16.8 65.1 19.2 65.4 20.5 66.0 21.6 66.8 22.9 68.0 23.5 68.8 23.7 69.8 23.7 72.0 23.9 74.2 23.7 75.8 23.0 77.0 21.2 78.0 19.0 78.7 14.8 79.3Z"/>
<path d="M16.2 79.8 13.5 80.0 11.2 79.6 7.2 77.8 6.5 77.2 5.9 76.5 5.6 75.8 5.5 74.8 6.1 69.0 7.0 67.2 8.8 65.8 10.2 65.2 12.0 64.8 16.5 64.4 18.8 64.5 20.2 64.9 21.8 65.6 24.0 67.0 24.9 68.0 25.2 69.2 25.0 72.0 24.9 75.0 24.7 76.2 24.2 77.2 23.2 78.1 21.8 78.7 16.2 79.8Z"/>
<path d="M15.0 80.5 13.0 80.5 11.0 80.1 6.5 78.2 5.2 77.2 4.8 76.0 4.7 74.5 5.1 69.2 5.4 68.2 5.9 67.2 7.2 65.9 9.2 64.9 12.0 64.2 15.2 63.8 18.2 63.8 20.2 64.1 22.2 64.8 24.8 66.2 26.0 67.5 26.3 69.0 25.9 72.0 25.8 75.5 25.5 76.8 25.0 77.7 24.0 78.7 22.2 79.3 19.2 80.0 15.0 80.5Z"/>
<path d="M16.0 81.0 13.2 81.1 11.2 80.8 5.8 78.7 5.0 78.2 4.4 77.5 4.1 76.8 3.9 75.5 4.1 68.8 4.4 67.8 5.0 66.8 6.5 65.4 9.0 64.3 12.8 63.4 15.2 63.2 19.0 63.2 21.2 63.6 23.2 64.4 25.5 65.8 26.7 67.0 27.2 68.2 27.2 69.8 26.5 76.0 26.1 77.2 25.5 78.4 24.5 79.3 23.0 79.9 16.0 81.0Z"/>
<path d="M16.8 81.5 13.5 81.7 11.2 81.4 5.2 79.3 4.4 78.8 3.8 78.1 3.3 77.2 3.1 76.0 3.2 68.5 3.7 66.5 5.0 65.1 7.0 64.2 13.0 62.7 15.0 62.5 18.8 62.6 21.2 62.9 23.2 63.6 25.8 65.0 27.2 66.4 28.0 68.0 28.0 69.8 27.2 76.2 26.7 77.8 26.2 78.8 25.2 79.7 23.8 80.4 21.2 80.9 16.8 81.5Z"/>
<path d="M17.5 82.0 13.8 82.2 11.2 82.0 4.8 79.9 3.8 79.4 3.1 78.8 2.5 77.8 2.3 76.8 2.2 68.2 2.6 66.2 3.8 64.8 5.8 63.7 13.0 62.0 14.8 61.9 18.5 62.0 21.0 62.2 23.2 62.9 26.0 64.3 27.7 65.8 28.6 67.5 28.9 69.8 28.0 76.0 27.5 77.8 26.9 79.0 25.8 80.2 24.2 80.9 21.8 81.5 17.5 82.0Z"/>
<path d="M15.2 82.8 12.2 82.7 10.2 82.3 4.0 80.4 2.8 79.7 1.9 78.8 1.5 77.8 1.4 76.8 1.4 67.0 2.0 65.2 2.8 64.4 3.8 63.7 5.5 63.0 9.2 62.3 13.2 61.3 15.0 61.2 19.8 61.4 22.2 61.9 25.2 63.2 27.4 64.5 28.7 66.0 29.5 68.0 29.6 70.5 28.6 76.2 27.9 78.5 27.2 79.8 26.0 80.8 24.0 81.6 19.8 82.4 15.2 82.8Z"/>
<path d="M17.2 83.3 13.0 83.3 10.2 82.9 3.5 81.0 2.2 80.4 1.2 79.4 0.6 78.2 0.4 77.0 0.6 72.2 0.5 67.0 0.7 66.0 1.1 65.0 2.5 63.5 3.8 62.8 5.0 62.3 9.0 61.7 13.0 60.7 14.8 60.6 19.5 60.8 22.0 61.2 24.8 62.2 27.5 63.7 29.1 65.2 30.2 67.5 30.4 69.0 30.4 70.5 29.4 76.2 28.7 78.5 27.9 80.0 26.5 81.3 24.8 82.1 21.0 82.8 17.2 83.3Z"/>
<path d="M18.5 85.0 13.5 85.0 9.0 84.6 2.0 82.8 0.2 81.9 -0.9 80.8 -1.9 79.0 -2.3 76.8 -2.3 74.5 -1.9 70.5 -2.0 66.5 -1.9 65.5 -1.4 64.5 -0.6 63.5 0.8 62.3 2.5 61.1 4.2 60.4 11.8 58.9 13.8 58.8 20.0 59.1 23.0 59.6 27.0 61.1 29.2 62.3 30.8 63.8 31.5 65.0 32.1 66.5 32.5 68.0 32.6 70.0 32.4 73.5 32.0 76.0 31.3 78.2 30.4 80.2 28.8 82.2 26.8 83.4 24.2 84.1 18.5 85.0Z"/>
<path d="M18.8 87.3 11.8 87.1 4.2 86.1 0.2 84.9 -1.5 83.9 -3.0 82.7 -3.2 75.5 -3.0 62.3 -0.5 60.1 1.2 59.1 3.2 58.3 6.0 57.6 9.8 56.8 12.5 56.6 17.2 56.9 21.2 56.9 24.2 57.4 29.0 58.9 31.5 60.4 33.1 62.0 34.0 63.5 34.8 65.5 35.2 67.0 35.4 68.8 35.3 75.0 34.6 79.0 33.8 81.2 33.1 82.2 32.0 83.3 29.5 84.9 25.2 86.1 18.8 87.3Z"/>
<line x1="0.9" y1="56.5" x2="0.9" y2="85" stroke-width="1.4"/>
</g></g>
<line x1="163.70" y1="195.00" x2="249.30" y2="195.00" stroke="#606060" stroke-width="1.1"/>
<line x1="248.80" y1="195.00" x2="248.80" y2="280.20" stroke="#9a9a9a" stroke-width="1.1"/>
<line x1="164.20" y1="195.00" x2="164.20" y2="280.20" stroke="#8a8a8a" stroke-width="0.9"/>
<line x1="164.20" y1="280.20" x2="248.80" y2="280.20" stroke="#8a8a8a" stroke-width="0.9"/>
<line x1="163.00" y1="216.55" x2="164.20" y2="216.55" stroke="#777" stroke-width="0.6"/>
<line x1="163.00" y1="213.19" x2="164.20" y2="213.19" stroke="#777" stroke-width="0.6"/>
<line x1="163.00" y1="210.80" x2="164.20" y2="210.80" stroke="#777" stroke-width="0.6"/>
<line x1="163.00" y1="208.95" x2="164.20" y2="208.95" stroke="#777" stroke-width="0.6"/>
<line x1="163.00" y1="207.44" x2="164.20" y2="207.44" stroke="#777" stroke-width="0.6"/>
<line x1="163.00" y1="206.16" x2="164.20" y2="206.16" stroke="#777" stroke-width="0.6"/>
<line x1="163.00" y1="205.05" x2="164.20" y2="205.05" stroke="#777" stroke-width="0.6"/>
<line x1="163.00" y1="204.07" x2="164.20" y2="204.07" stroke="#777" stroke-width="0.6"/>
<line x1="163.00" y1="235.93" x2="164.20" y2="235.93" stroke="#777" stroke-width="0.6"/>
<line x1="163.00" y1="232.50" x2="164.20" y2="232.50" stroke="#777" stroke-width="0.6"/>
<line x1="163.00" y1="230.06" x2="164.20" y2="230.06" stroke="#777" stroke-width="0.6"/>
<line x1="163.00" y1="228.17" x2="164.20" y2="228.17" stroke="#777" stroke-width="0.6"/>
<line x1="163.00" y1="226.63" x2="164.20" y2="226.63" stroke="#777" stroke-width="0.6"/>
<line x1="163.00" y1="225.32" x2="164.20" y2="225.32" stroke="#777" stroke-width="0.6"/>
<line x1="163.00" y1="224.19" x2="164.20" y2="224.19" stroke="#777" stroke-width="0.6"/>
<line x1="163.00" y1="223.19" x2="164.20" y2="223.19" stroke="#777" stroke-width="0.6"/>
<line x1="163.00" y1="255.57" x2="164.20" y2="255.57" stroke="#777" stroke-width="0.6"/>
<line x1="163.00" y1="252.10" x2="164.20" y2="252.10" stroke="#777" stroke-width="0.6"/>
<line x1="163.00" y1="249.64" x2="164.20" y2="249.64" stroke="#777" stroke-width="0.6"/>
<line x1="163.00" y1="247.73" x2="164.20" y2="247.73" stroke="#777" stroke-width="0.6"/>
<line x1="163.00" y1="246.17" x2="164.20" y2="246.17" stroke="#777" stroke-width="0.6"/>
<line x1="163.00" y1="244.85" x2="164.20" y2="244.85" stroke="#777" stroke-width="0.6"/>
<line x1="163.00" y1="243.71" x2="164.20" y2="243.71" stroke="#777" stroke-width="0.6"/>
<line x1="163.00" y1="242.70" x2="164.20" y2="242.70" stroke="#777" stroke-width="0.6"/>
<line x1="189.70" y1="280.20" x2="189.70" y2="281.40" stroke="#777" stroke-width="0.6"/>
<line x1="193.15" y1="280.20" x2="193.15" y2="281.40" stroke="#777" stroke-width="0.6"/>
<line x1="195.60" y1="280.20" x2="195.60" y2="281.40" stroke="#777" stroke-width="0.6"/>
<line x1="197.50" y1="280.20" x2="197.50" y2="281.40" stroke="#777" stroke-width="0.6"/>
<line x1="199.05" y1="280.20" x2="199.05" y2="281.40" stroke="#777" stroke-width="0.6"/>
<line x1="200.36" y1="280.20" x2="200.36" y2="281.40" stroke="#777" stroke-width="0.6"/>
<line x1="201.50" y1="280.20" x2="201.50" y2="281.40" stroke="#777" stroke-width="0.6"/>
<line x1="202.50" y1="280.20" x2="202.50" y2="281.40" stroke="#777" stroke-width="0.6"/>
<line x1="209.30" y1="280.20" x2="209.30" y2="281.40" stroke="#777" stroke-width="0.6"/>
<line x1="212.75" y1="280.20" x2="212.75" y2="281.40" stroke="#777" stroke-width="0.6"/>
<line x1="215.20" y1="280.20" x2="215.20" y2="281.40" stroke="#777" stroke-width="0.6"/>
<line x1="217.10" y1="280.20" x2="217.10" y2="281.40" stroke="#777" stroke-width="0.6"/>
<line x1="218.65" y1="280.20" x2="218.65" y2="281.40" stroke="#777" stroke-width="0.6"/>
<line x1="219.96" y1="280.20" x2="219.96" y2="281.40" stroke="#777" stroke-width="0.6"/>
<line x1="221.10" y1="280.20" x2="221.10" y2="281.40" stroke="#777" stroke-width="0.6"/>
<line x1="222.10" y1="280.20" x2="222.10" y2="281.40" stroke="#777" stroke-width="0.6"/>
<line x1="228.87" y1="280.20" x2="228.87" y2="281.40" stroke="#777" stroke-width="0.6"/>
<line x1="232.30" y1="280.20" x2="232.30" y2="281.40" stroke="#777" stroke-width="0.6"/>
<line x1="234.74" y1="280.20" x2="234.74" y2="281.40" stroke="#777" stroke-width="0.6"/>
<line x1="236.63" y1="280.20" x2="236.63" y2="281.40" stroke="#777" stroke-width="0.6"/>
<line x1="238.17" y1="280.20" x2="238.17" y2="281.40" stroke="#777" stroke-width="0.6"/>
<line x1="239.48" y1="280.20" x2="239.48" y2="281.40" stroke="#777" stroke-width="0.6"/>
<line x1="240.61" y1="280.20" x2="240.61" y2="281.40" stroke="#777" stroke-width="0.6"/>
<line x1="241.61" y1="280.20" x2="241.61" y2="281.40" stroke="#777" stroke-width="0.6"/>
<line x1="162.00" y1="203.20" x2="164.20" y2="203.20" stroke="#444" stroke-width="0.9"/>
<text x="147.00" y="205.70" font-size="7.2" fill="#333">10<tspan font-size="5" dy="-3.2">5</tspan></text>
<line x1="162.00" y1="222.30" x2="164.20" y2="222.30" stroke="#444" stroke-width="0.9"/>
<text x="147.00" y="224.80" font-size="7.2" fill="#333">10<tspan font-size="5" dy="-3.2">4</tspan></text>
<line x1="162.00" y1="241.80" x2="164.20" y2="241.80" stroke="#444" stroke-width="0.9"/>
<text x="147.00" y="244.30" font-size="7.2" fill="#333">10<tspan font-size="5" dy="-3.2">3</tspan></text>
<line x1="162.00" y1="261.50" x2="164.20" y2="261.50" stroke="#444" stroke-width="0.9"/>
<text x="147.00" y="264.00" font-size="7.2" fill="#333">10<tspan font-size="5" dy="-3.2">2</tspan></text>
<line x1="162.00" y1="271.20" x2="164.20" y2="271.20" stroke="#444" stroke-width="0.9"/>
<text x="156.70" y="273.70" font-size="7.2" text-anchor="middle" fill="#333" >0</text>
<line x1="172.90" y1="280.20" x2="172.90" y2="282.20" stroke="#444" stroke-width="0.9"/>
<text x="172.90" y="292.40" font-size="7.2" text-anchor="middle" fill="#333" >0</text>
<line x1="183.80" y1="280.20" x2="183.80" y2="282.20" stroke="#444" stroke-width="0.9"/>
<text x="178.50" y="292.40" font-size="7.2" fill="#333">10<tspan font-size="5" dy="-3.2">2</tspan></text>
<line x1="203.40" y1="280.20" x2="203.40" y2="282.20" stroke="#444" stroke-width="0.9"/>
<text x="198.10" y="292.40" font-size="7.2" fill="#333">10<tspan font-size="5" dy="-3.2">3</tspan></text>
<line x1="223.00" y1="280.20" x2="223.00" y2="282.20" stroke="#444" stroke-width="0.9"/>
<text x="217.70" y="292.40" font-size="7.2" fill="#333">10<tspan font-size="5" dy="-3.2">4</tspan></text>
<line x1="242.50" y1="280.20" x2="242.50" y2="282.20" stroke="#444" stroke-width="0.9"/>
<text x="237.20" y="292.40" font-size="7.2" fill="#333">10<tspan font-size="5" dy="-3.2">5</tspan></text>
<clipPath id="cp02"><rect x="277.0" y="195.0" width="84.6" height="85.2"/></clipPath>
<g clip-path="url(#cp02)"><g transform="translate(277.0 195.0)" fill="#000" fill-opacity="0.03" stroke="#000" stroke-width="0.65" stroke-opacity="0.95">
<path d="M21.5 75.0 20.0 75.1 18.8 74.8 18.4 74.0 18.6 73.2 19.1 72.8 19.8 72.5 21.0 72.4 21.8 72.5 22.3 73.0 22.4 73.8 22.2 74.5 21.5 75.0Z"/>
<path d="M21.2 75.5 19.2 75.5 18.0 75.0 17.6 74.2 17.8 73.5 18.1 73.0 18.8 72.5 20.0 72.1 21.4 72.0 22.2 72.3 22.8 73.2 22.7 74.5 22.2 75.2 21.2 75.5Z"/>
<path d="M22.2 75.8 20.0 76.0 17.5 75.6 16.7 75.0 16.7 74.5 17.0 73.5 17.8 72.5 18.8 72.0 20.8 71.6 22.2 71.7 23.1 72.5 23.4 73.8 23.1 75.0 22.2 75.8Z"/>
<path d="M22.2 76.3 19.5 76.4 16.8 76.2 15.8 75.7 15.6 75.2 15.6 74.5 16.3 73.0 17.5 72.0 19.8 71.3 22.2 71.2 23.0 71.5 23.6 72.2 23.8 73.0 23.9 74.2 23.8 75.0 23.5 75.6 23.0 76.0 22.2 76.3Z"/>
<path d="M22.5 76.8 17.2 76.9 15.8 76.8 14.7 76.0 14.5 75.2 14.6 74.5 15.5 72.8 17.0 71.7 20.0 70.8 21.8 70.7 22.8 70.8 23.5 71.2 24.1 72.0 24.4 73.0 24.5 74.8 24.4 75.5 24.0 76.0 23.3 76.5 22.5 76.8Z"/>
<path d="M17.2 77.5 16.0 77.5 15.0 77.2 14.3 76.8 13.8 76.0 13.6 75.2 13.7 74.2 14.2 73.0 14.8 72.2 16.8 71.1 20.2 70.4 22.5 70.2 23.2 70.4 24.0 70.9 24.8 72.2 25.2 74.2 25.2 75.5 24.8 76.3 23.8 77.0 22.5 77.3 17.2 77.5Z"/>
<path d="M18.0 78.0 16.2 78.0 15.0 77.8 14.0 77.3 13.4 76.8 12.9 75.8 12.8 74.8 13.1 73.2 13.6 72.2 14.5 71.5 15.4 71.0 18.5 70.2 22.2 69.7 23.2 69.8 24.2 70.3 25.1 71.5 25.8 73.8 26.0 75.5 25.6 76.5 24.6 77.2 23.0 77.8 18.0 78.0Z"/>
<path d="M18.5 78.5 16.2 78.6 15.0 78.4 13.9 78.0 13.0 77.2 12.3 76.0 12.1 74.8 12.3 73.2 12.8 72.0 13.5 71.3 14.3 70.8 16.8 70.0 22.2 69.2 23.5 69.3 24.4 69.8 25.5 71.0 26.4 73.2 26.8 75.2 26.7 76.0 26.4 76.8 25.2 77.6 23.5 78.2 22.0 78.4 18.5 78.5Z"/>
<path d="M21.8 79.0 15.5 79.0 14.0 78.6 13.0 78.0 11.9 76.8 11.4 75.0 11.5 73.0 12.3 71.5 13.0 70.8 14.0 70.2 17.0 69.4 22.5 68.7 24.0 68.9 25.1 69.5 26.1 70.8 26.9 72.5 27.5 74.8 27.4 76.2 26.9 77.2 25.8 78.1 23.8 78.7 21.8 79.0Z"/>
<path d="M22.5 79.5 15.5 79.5 14.0 79.2 12.7 78.5 11.4 77.0 10.8 75.2 10.7 73.0 11.5 71.2 12.2 70.5 13.2 69.8 15.8 69.1 22.5 68.2 24.0 68.4 25.5 69.1 26.7 70.5 27.6 72.5 28.1 74.8 28.0 76.5 27.5 77.5 26.5 78.4 24.8 79.1 22.5 79.5Z"/>
<path d="M23.0 80.0 20.8 80.2 15.5 80.0 13.8 79.6 12.2 78.9 10.9 77.5 10.1 75.5 10.0 73.0 10.6 71.2 11.5 70.2 12.5 69.5 13.8 68.9 15.0 68.7 22.5 67.7 24.2 67.9 25.8 68.6 27.1 70.0 28.1 72.0 28.8 74.8 28.7 76.5 28.1 77.8 27.0 78.8 25.5 79.4 23.0 80.0Z"/>
<path d="M23.2 80.5 20.8 80.7 15.2 80.4 13.2 80.0 11.8 79.2 10.2 77.5 9.4 75.5 9.2 72.8 9.4 71.8 9.8 71.0 10.7 70.0 12.0 69.0 13.2 68.5 14.5 68.2 22.8 67.2 24.5 67.5 26.2 68.3 27.7 69.8 28.7 71.8 29.3 74.5 29.3 76.5 28.6 78.0 27.5 79.2 26.0 79.9 23.2 80.5Z"/>
<path d="M21.5 81.3 16.5 81.0 14.0 80.7 12.2 80.1 10.5 79.0 9.6 78.0 9.1 77.0 8.4 74.2 8.4 72.0 8.8 71.0 9.3 70.2 11.2 68.8 13.2 67.9 21.5 66.8 23.2 66.8 24.8 67.0 26.2 67.7 27.4 68.5 28.9 70.5 29.7 72.8 29.9 75.5 29.4 77.8 28.5 79.1 27.0 80.1 24.0 81.0 21.5 81.3Z"/>
<path d="M22.0 81.8 18.0 81.6 13.8 81.2 11.5 80.4 9.8 79.2 8.9 78.2 8.3 77.2 7.6 74.2 7.6 71.8 7.9 70.8 8.5 70.0 10.5 68.4 12.8 67.4 21.2 66.3 23.2 66.3 24.8 66.5 26.2 67.1 27.8 68.1 29.3 70.0 30.2 72.2 30.5 75.5 30.0 77.8 29.0 79.3 27.5 80.5 24.8 81.3 22.0 81.8Z"/>
<path d="M22.2 82.3 18.5 82.1 13.5 81.6 11.0 80.8 9.0 79.5 8.1 78.5 7.5 77.5 7.1 76.0 6.7 73.8 6.7 72.5 6.9 71.2 7.8 69.5 9.8 68.0 12.2 67.0 21.2 65.8 23.2 65.8 25.0 66.1 27.0 66.9 28.3 67.8 29.9 69.8 30.7 72.0 31.0 75.5 30.9 76.8 30.5 78.0 29.3 79.8 27.8 80.9 25.0 81.8 22.2 82.3Z"/>
<path d="M22.0 82.8 15.5 82.4 13.0 82.1 10.2 81.1 8.0 79.7 7.2 78.8 6.6 77.5 6.1 75.8 5.8 73.5 5.8 72.2 6.1 71.0 6.5 70.0 7.2 69.0 9.2 67.5 12.0 66.4 21.5 65.3 23.5 65.4 25.5 65.8 27.5 66.6 29.0 67.6 30.6 69.8 31.3 72.0 31.5 76.0 30.8 78.5 29.6 80.2 28.0 81.4 25.0 82.4 22.0 82.8Z"/>
<path d="M24.0 84.0 21.2 84.1 14.5 83.7 12.2 83.4 8.5 82.2 5.8 80.6 4.7 79.5 3.8 78.0 3.3 76.5 3.0 74.2 3.1 72.8 3.4 71.5 4.1 69.8 5.2 68.2 7.2 66.4 9.8 65.2 12.8 64.6 19.5 64.1 22.8 63.9 25.0 64.2 28.0 65.1 30.2 66.4 31.8 68.2 32.8 70.8 33.0 75.8 32.6 78.2 31.4 80.5 29.8 82.0 27.5 83.2 24.0 84.0Z"/>
<path d="M23.2 85.8 14.5 85.5 11.2 85.2 6.5 83.7 4.5 82.7 2.8 81.6 1.5 80.5 0.6 79.2 0.1 78.0 -0.4 76.0 -0.6 73.8 -0.5 72.0 -0.1 70.2 0.7 69.0 3.3 66.5 6.2 64.4 8.5 63.4 11.0 62.9 18.2 62.3 23.8 62.3 28.5 63.4 30.5 64.1 31.8 64.9 32.7 65.8 33.6 67.0 34.4 68.8 34.8 70.2 35.0 76.2 34.9 77.5 34.4 79.0 32.8 81.8 30.8 83.6 27.8 84.9 23.2 85.8Z"/>
<line x1="0.9" y1="62" x2="0.9" y2="85" stroke-width="1.0"/>
</g></g>
<line x1="276.50" y1="195.00" x2="362.10" y2="195.00" stroke="#606060" stroke-width="1.1"/>
<line x1="361.60" y1="195.00" x2="361.60" y2="280.20" stroke="#9a9a9a" stroke-width="1.1"/>
<line x1="277.00" y1="195.00" x2="277.00" y2="280.20" stroke="#8a8a8a" stroke-width="0.9"/>
<line x1="277.00" y1="280.20" x2="361.60" y2="280.20" stroke="#8a8a8a" stroke-width="0.9"/>
<line x1="275.80" y1="216.55" x2="277.00" y2="216.55" stroke="#777" stroke-width="0.6"/>
<line x1="275.80" y1="213.19" x2="277.00" y2="213.19" stroke="#777" stroke-width="0.6"/>
<line x1="275.80" y1="210.80" x2="277.00" y2="210.80" stroke="#777" stroke-width="0.6"/>
<line x1="275.80" y1="208.95" x2="277.00" y2="208.95" stroke="#777" stroke-width="0.6"/>
<line x1="275.80" y1="207.44" x2="277.00" y2="207.44" stroke="#777" stroke-width="0.6"/>
<line x1="275.80" y1="206.16" x2="277.00" y2="206.16" stroke="#777" stroke-width="0.6"/>
<line x1="275.80" y1="205.05" x2="277.00" y2="205.05" stroke="#777" stroke-width="0.6"/>
<line x1="275.80" y1="204.07" x2="277.00" y2="204.07" stroke="#777" stroke-width="0.6"/>
<line x1="275.80" y1="235.93" x2="277.00" y2="235.93" stroke="#777" stroke-width="0.6"/>
<line x1="275.80" y1="232.50" x2="277.00" y2="232.50" stroke="#777" stroke-width="0.6"/>
<line x1="275.80" y1="230.06" x2="277.00" y2="230.06" stroke="#777" stroke-width="0.6"/>
<line x1="275.80" y1="228.17" x2="277.00" y2="228.17" stroke="#777" stroke-width="0.6"/>
<line x1="275.80" y1="226.63" x2="277.00" y2="226.63" stroke="#777" stroke-width="0.6"/>
<line x1="275.80" y1="225.32" x2="277.00" y2="225.32" stroke="#777" stroke-width="0.6"/>
<line x1="275.80" y1="224.19" x2="277.00" y2="224.19" stroke="#777" stroke-width="0.6"/>
<line x1="275.80" y1="223.19" x2="277.00" y2="223.19" stroke="#777" stroke-width="0.6"/>
<line x1="275.80" y1="255.57" x2="277.00" y2="255.57" stroke="#777" stroke-width="0.6"/>
<line x1="275.80" y1="252.10" x2="277.00" y2="252.10" stroke="#777" stroke-width="0.6"/>
<line x1="275.80" y1="249.64" x2="277.00" y2="249.64" stroke="#777" stroke-width="0.6"/>
<line x1="275.80" y1="247.73" x2="277.00" y2="247.73" stroke="#777" stroke-width="0.6"/>
<line x1="275.80" y1="246.17" x2="277.00" y2="246.17" stroke="#777" stroke-width="0.6"/>
<line x1="275.80" y1="244.85" x2="277.00" y2="244.85" stroke="#777" stroke-width="0.6"/>
<line x1="275.80" y1="243.71" x2="277.00" y2="243.71" stroke="#777" stroke-width="0.6"/>
<line x1="275.80" y1="242.70" x2="277.00" y2="242.70" stroke="#777" stroke-width="0.6"/>
<line x1="302.50" y1="280.20" x2="302.50" y2="281.40" stroke="#777" stroke-width="0.6"/>
<line x1="305.95" y1="280.20" x2="305.95" y2="281.40" stroke="#777" stroke-width="0.6"/>
<line x1="308.40" y1="280.20" x2="308.40" y2="281.40" stroke="#777" stroke-width="0.6"/>
<line x1="310.30" y1="280.20" x2="310.30" y2="281.40" stroke="#777" stroke-width="0.6"/>
<line x1="311.85" y1="280.20" x2="311.85" y2="281.40" stroke="#777" stroke-width="0.6"/>
<line x1="313.16" y1="280.20" x2="313.16" y2="281.40" stroke="#777" stroke-width="0.6"/>
<line x1="314.30" y1="280.20" x2="314.30" y2="281.40" stroke="#777" stroke-width="0.6"/>
<line x1="315.30" y1="280.20" x2="315.30" y2="281.40" stroke="#777" stroke-width="0.6"/>
<line x1="322.10" y1="280.20" x2="322.10" y2="281.40" stroke="#777" stroke-width="0.6"/>
<line x1="325.55" y1="280.20" x2="325.55" y2="281.40" stroke="#777" stroke-width="0.6"/>
<line x1="328.00" y1="280.20" x2="328.00" y2="281.40" stroke="#777" stroke-width="0.6"/>
<line x1="329.90" y1="280.20" x2="329.90" y2="281.40" stroke="#777" stroke-width="0.6"/>
<line x1="331.45" y1="280.20" x2="331.45" y2="281.40" stroke="#777" stroke-width="0.6"/>
<line x1="332.76" y1="280.20" x2="332.76" y2="281.40" stroke="#777" stroke-width="0.6"/>
<line x1="333.90" y1="280.20" x2="333.90" y2="281.40" stroke="#777" stroke-width="0.6"/>
<line x1="334.90" y1="280.20" x2="334.90" y2="281.40" stroke="#777" stroke-width="0.6"/>
<line x1="341.67" y1="280.20" x2="341.67" y2="281.40" stroke="#777" stroke-width="0.6"/>
<line x1="345.10" y1="280.20" x2="345.10" y2="281.40" stroke="#777" stroke-width="0.6"/>
<line x1="347.54" y1="280.20" x2="347.54" y2="281.40" stroke="#777" stroke-width="0.6"/>
<line x1="349.43" y1="280.20" x2="349.43" y2="281.40" stroke="#777" stroke-width="0.6"/>
<line x1="350.97" y1="280.20" x2="350.97" y2="281.40" stroke="#777" stroke-width="0.6"/>
<line x1="352.28" y1="280.20" x2="352.28" y2="281.40" stroke="#777" stroke-width="0.6"/>
<line x1="353.41" y1="280.20" x2="353.41" y2="281.40" stroke="#777" stroke-width="0.6"/>
<line x1="354.41" y1="280.20" x2="354.41" y2="281.40" stroke="#777" stroke-width="0.6"/>
<line x1="274.80" y1="203.20" x2="277.00" y2="203.20" stroke="#444" stroke-width="0.9"/>
<text x="259.80" y="205.70" font-size="7.2" fill="#333">10<tspan font-size="5" dy="-3.2">5</tspan></text>
<line x1="274.80" y1="222.30" x2="277.00" y2="222.30" stroke="#444" stroke-width="0.9"/>
<text x="259.80" y="224.80" font-size="7.2" fill="#333">10<tspan font-size="5" dy="-3.2">4</tspan></text>
<line x1="274.80" y1="241.80" x2="277.00" y2="241.80" stroke="#444" stroke-width="0.9"/>
<text x="259.80" y="244.30" font-size="7.2" fill="#333">10<tspan font-size="5" dy="-3.2">3</tspan></text>
<line x1="274.80" y1="261.50" x2="277.00" y2="261.50" stroke="#444" stroke-width="0.9"/>
<text x="259.80" y="264.00" font-size="7.2" fill="#333">10<tspan font-size="5" dy="-3.2">2</tspan></text>
<line x1="274.80" y1="271.20" x2="277.00" y2="271.20" stroke="#444" stroke-width="0.9"/>
<text x="269.50" y="273.70" font-size="7.2" text-anchor="middle" fill="#333" >0</text>
<line x1="285.70" y1="280.20" x2="285.70" y2="282.20" stroke="#444" stroke-width="0.9"/>
<text x="285.70" y="292.40" font-size="7.2" text-anchor="middle" fill="#333" >0</text>
<line x1="296.60" y1="280.20" x2="296.60" y2="282.20" stroke="#444" stroke-width="0.9"/>
<text x="291.30" y="292.40" font-size="7.2" fill="#333">10<tspan font-size="5" dy="-3.2">2</tspan></text>
<line x1="316.20" y1="280.20" x2="316.20" y2="282.20" stroke="#444" stroke-width="0.9"/>
<text x="310.90" y="292.40" font-size="7.2" fill="#333">10<tspan font-size="5" dy="-3.2">3</tspan></text>
<line x1="335.80" y1="280.20" x2="335.80" y2="282.20" stroke="#444" stroke-width="0.9"/>
<text x="330.50" y="292.40" font-size="7.2" fill="#333">10<tspan font-size="5" dy="-3.2">4</tspan></text>
<line x1="355.30" y1="280.20" x2="355.30" y2="282.20" stroke="#444" stroke-width="0.9"/>
<text x="350.00" y="292.40" font-size="7.2" fill="#333">10<tspan font-size="5" dy="-3.2">5</tspan></text>
<clipPath id="cp03"><rect x="389.7" y="195.0" width="84.6" height="85.2"/></clipPath>
<g clip-path="url(#cp03)"><g transform="translate(389.7 195.0)" fill="#000" fill-opacity="0.03" stroke="#000" stroke-width="0.65" stroke-opacity="0.95">
<path d="M14.5 71.0 13.0 70.9 11.8 70.1 11.3 68.8 11.4 68.2 11.8 67.7 12.5 67.4 13.8 67.4 14.7 67.8 15.2 68.2 15.6 69.2 15.6 70.0 15.2 70.6 14.5 71.0Z"/>
<path d="M15.0 71.3 14.2 71.5 13.2 71.4 12.2 71.1 11.5 70.5 11.0 69.8 10.9 68.8 10.9 68.0 11.2 67.5 12.0 67.0 13.2 66.9 14.5 67.2 15.3 67.8 15.8 68.5 16.1 69.8 15.8 70.7 15.0 71.3Z"/>
<path d="M14.8 71.8 13.8 71.9 12.7 71.8 11.8 71.3 11.0 70.7 10.5 69.8 10.3 68.5 10.5 67.6 11.0 67.0 12.0 66.6 13.5 66.6 15.0 67.0 15.9 67.8 16.5 69.0 16.4 70.2 15.8 71.2 14.8 71.8Z"/>
<path d="M14.8 72.3 13.5 72.4 12.2 72.1 11.2 71.6 10.4 70.8 9.9 69.5 9.8 68.0 10.0 67.2 10.7 66.5 12.0 66.1 14.0 66.2 15.5 66.8 16.5 67.8 17.0 69.2 16.8 70.5 16.0 71.6 14.8 72.3Z"/>
<path d="M14.5 72.8 13.2 72.8 11.8 72.5 10.6 71.8 9.8 70.8 9.4 69.5 9.3 67.8 9.7 66.8 10.5 66.0 12.0 65.6 14.2 65.8 15.9 66.5 17.0 67.6 17.5 69.2 17.2 70.8 16.2 72.0 14.5 72.8Z"/>
<path d="M14.5 73.3 13.0 73.3 11.5 72.9 10.2 72.2 9.3 71.0 8.8 69.5 8.8 67.5 9.2 66.4 10.2 65.5 12.0 65.1 14.5 65.4 16.4 66.2 17.6 67.5 18.0 69.2 17.6 71.0 17.1 71.8 16.3 72.5 14.5 73.3Z"/>
<path d="M14.2 73.8 12.5 73.8 11.0 73.3 9.5 72.2 8.6 71.0 8.2 69.2 8.2 67.2 8.9 66.0 10.0 65.1 12.0 64.6 14.8 65.0 16.9 66.0 17.7 66.8 18.2 67.5 18.5 68.5 18.5 69.8 17.9 71.5 16.3 73.0 14.2 73.8Z"/>
<path d="M14.2 74.3 12.5 74.3 10.8 73.7 9.0 72.5 8.1 71.2 7.6 69.2 7.7 67.0 8.6 65.5 10.0 64.5 11.0 64.2 12.2 64.1 15.2 64.6 17.5 65.8 18.3 66.5 18.7 67.2 19.0 68.2 19.1 69.5 18.9 70.5 18.5 71.5 17.7 72.5 16.8 73.3 15.5 73.9 14.2 74.3Z"/>
<path d="M14.2 74.8 12.2 74.7 10.5 74.1 8.5 72.8 7.5 71.5 7.0 69.0 7.2 66.8 8.2 65.1 9.8 64.1 11.0 63.7 12.2 63.6 15.5 64.2 18.0 65.4 18.8 66.1 19.3 67.0 19.7 68.2 19.7 69.5 19.4 70.8 18.9 71.8 18.1 72.8 17.0 73.6 15.5 74.4 14.2 74.8Z"/>
<path d="M14.0 75.3 12.0 75.2 9.8 74.3 7.7 73.0 6.8 71.5 6.4 68.5 6.7 66.5 7.2 65.5 8.0 64.6 9.0 63.9 10.0 63.4 11.2 63.2 12.8 63.2 16.2 63.9 17.8 64.6 18.8 65.2 19.5 66.0 20.0 67.0 20.3 68.2 20.3 69.8 20.0 71.0 19.4 72.0 18.3 73.2 17.0 74.2 15.5 74.9 14.0 75.3Z"/>
<path d="M13.8 75.8 11.5 75.5 9.0 74.5 7.1 73.2 6.1 71.8 5.9 70.5 5.8 68.2 6.2 66.2 6.9 65.0 7.8 64.1 8.8 63.4 10.0 62.9 11.5 62.7 13.2 62.8 15.2 63.1 17.2 63.7 19.5 65.0 20.2 65.9 20.7 67.0 21.0 68.5 20.9 70.0 20.5 71.2 19.7 72.5 18.4 73.8 16.8 74.8 15.2 75.5 13.8 75.8Z"/>
<path d="M15.0 76.0 12.5 76.2 10.0 75.6 7.0 74.1 6.2 73.4 5.7 72.5 5.3 71.5 5.2 70.0 5.1 68.0 5.3 66.8 5.9 65.5 6.6 64.5 7.5 63.6 8.8 62.9 10.2 62.4 11.8 62.2 13.8 62.3 16.0 62.8 18.0 63.4 19.5 64.2 20.4 65.0 21.1 66.0 21.5 67.5 21.6 69.2 21.4 70.5 20.9 71.8 20.0 73.0 18.5 74.3 16.8 75.4 15.0 76.0Z"/>
<path d="M15.0 76.5 13.8 76.7 12.2 76.7 9.2 75.9 6.5 74.5 5.7 73.8 5.0 72.8 4.7 71.5 4.5 69.8 4.4 67.8 4.7 66.5 5.3 65.2 6.1 64.2 7.2 63.2 8.5 62.4 10.0 61.9 11.8 61.7 13.8 61.9 16.0 62.3 18.2 63.0 19.8 63.6 20.8 64.4 21.6 65.5 22.1 67.2 22.2 69.0 22.0 70.5 21.4 72.0 20.5 73.3 19.0 74.6 16.8 75.9 15.0 76.5Z"/>
<path d="M15.0 77.1 13.8 77.2 12.0 77.1 8.5 76.2 5.8 74.8 5.0 74.0 4.4 73.0 4.0 71.8 3.8 70.0 3.7 68.0 3.9 66.5 4.5 65.2 5.5 64.0 6.8 62.9 8.2 62.0 10.0 61.5 11.8 61.3 14.0 61.4 16.5 61.9 18.8 62.5 20.2 63.2 21.3 64.0 22.1 65.2 22.7 67.0 22.8 69.0 22.5 70.8 21.8 72.5 20.8 73.8 19.2 75.1 17.0 76.3 15.0 77.1Z"/>
<path d="M15.2 77.5 13.8 77.7 12.0 77.6 8.5 76.8 5.5 75.3 4.6 74.5 4.0 73.5 3.4 72.0 3.1 70.2 3.0 68.0 3.2 66.5 3.8 65.2 4.7 64.0 6.0 62.8 7.5 61.8 9.2 61.2 11.2 60.9 13.5 60.9 16.5 61.4 19.0 62.0 20.6 62.8 21.9 63.8 22.7 65.0 23.3 66.8 23.4 68.8 23.1 70.8 22.3 72.8 21.2 74.1 19.8 75.4 17.2 76.8 15.2 77.5Z"/>
<path d="M15.5 78.0 14.0 78.2 12.0 78.1 8.2 77.3 5.2 75.9 4.2 75.0 3.4 73.8 2.8 72.2 2.5 70.2 2.3 67.8 2.6 66.2 3.1 65.0 4.1 63.8 5.2 62.7 6.8 61.7 8.8 60.8 10.8 60.5 13.0 60.4 16.2 60.8 18.8 61.4 20.8 62.2 22.0 63.1 23.1 64.5 23.8 66.5 24.0 68.5 23.7 70.8 22.8 73.0 21.7 74.5 20.2 75.7 17.8 77.2 15.5 78.0Z"/>
<path d="M14.2 80.0 12.0 80.0 10.0 79.6 7.5 78.9 5.2 77.9 4.0 77.1 2.9 76.0 1.8 74.5 1.2 73.0 0.6 70.8 0.5 68.0 0.6 66.2 1.2 64.8 2.1 63.2 3.5 61.9 5.0 60.9 7.2 59.9 9.5 59.3 12.2 59.1 16.5 59.4 19.8 60.1 21.8 60.9 23.2 62.0 24.4 63.5 25.2 65.2 25.6 67.5 25.4 70.0 24.6 73.0 23.5 75.2 22.0 76.7 19.2 78.4 16.5 79.6 14.2 80.0Z"/>
<path d="M14.2 83.5 12.2 83.6 10.5 83.1 6.5 81.1 3.8 79.4 2.0 78.0 0.7 76.5 -0.4 74.8 -1.1 73.0 -1.6 70.5 -1.8 67.5 -1.6 65.8 -0.9 64.0 0.2 62.2 1.8 60.6 3.5 59.4 6.0 58.4 9.0 57.7 12.8 57.5 17.0 57.7 20.2 58.4 22.8 59.4 24.7 60.8 26.1 62.5 27.4 65.2 27.8 67.5 27.7 70.0 26.6 74.2 25.5 76.5 23.2 78.7 18.8 81.9 16.5 83.0 14.2 83.5Z"/>
<line x1="0.9" y1="57" x2="0.9" y2="85" stroke-width="1.0"/>
</g></g>
<line x1="389.20" y1="195.00" x2="474.80" y2="195.00" stroke="#606060" stroke-width="1.1"/>
<line x1="474.30" y1="195.00" x2="474.30" y2="280.20" stroke="#9a9a9a" stroke-width="1.1"/>
<line x1="389.70" y1="195.00" x2="389.70" y2="280.20" stroke="#8a8a8a" stroke-width="0.9"/>
<line x1="389.70" y1="280.20" x2="474.30" y2="280.20" stroke="#8a8a8a" stroke-width="0.9"/>
<line x1="388.50" y1="216.55" x2="389.70" y2="216.55" stroke="#777" stroke-width="0.6"/>
<line x1="388.50" y1="213.19" x2="389.70" y2="213.19" stroke="#777" stroke-width="0.6"/>
<line x1="388.50" y1="210.80" x2="389.70" y2="210.80" stroke="#777" stroke-width="0.6"/>
<line x1="388.50" y1="208.95" x2="389.70" y2="208.95" stroke="#777" stroke-width="0.6"/>
<line x1="388.50" y1="207.44" x2="389.70" y2="207.44" stroke="#777" stroke-width="0.6"/>
<line x1="388.50" y1="206.16" x2="389.70" y2="206.16" stroke="#777" stroke-width="0.6"/>
<line x1="388.50" y1="205.05" x2="389.70" y2="205.05" stroke="#777" stroke-width="0.6"/>
<line x1="388.50" y1="204.07" x2="389.70" y2="204.07" stroke="#777" stroke-width="0.6"/>
<line x1="388.50" y1="235.93" x2="389.70" y2="235.93" stroke="#777" stroke-width="0.6"/>
<line x1="388.50" y1="232.50" x2="389.70" y2="232.50" stroke="#777" stroke-width="0.6"/>
<line x1="388.50" y1="230.06" x2="389.70" y2="230.06" stroke="#777" stroke-width="0.6"/>
<line x1="388.50" y1="228.17" x2="389.70" y2="228.17" stroke="#777" stroke-width="0.6"/>
<line x1="388.50" y1="226.63" x2="389.70" y2="226.63" stroke="#777" stroke-width="0.6"/>
<line x1="388.50" y1="225.32" x2="389.70" y2="225.32" stroke="#777" stroke-width="0.6"/>
<line x1="388.50" y1="224.19" x2="389.70" y2="224.19" stroke="#777" stroke-width="0.6"/>
<line x1="388.50" y1="223.19" x2="389.70" y2="223.19" stroke="#777" stroke-width="0.6"/>
<line x1="388.50" y1="255.57" x2="389.70" y2="255.57" stroke="#777" stroke-width="0.6"/>
<line x1="388.50" y1="252.10" x2="389.70" y2="252.10" stroke="#777" stroke-width="0.6"/>
<line x1="388.50" y1="249.64" x2="389.70" y2="249.64" stroke="#777" stroke-width="0.6"/>
<line x1="388.50" y1="247.73" x2="389.70" y2="247.73" stroke="#777" stroke-width="0.6"/>
<line x1="388.50" y1="246.17" x2="389.70" y2="246.17" stroke="#777" stroke-width="0.6"/>
<line x1="388.50" y1="244.85" x2="389.70" y2="244.85" stroke="#777" stroke-width="0.6"/>
<line x1="388.50" y1="243.71" x2="389.70" y2="243.71" stroke="#777" stroke-width="0.6"/>
<line x1="388.50" y1="242.70" x2="389.70" y2="242.70" stroke="#777" stroke-width="0.6"/>
<line x1="415.20" y1="280.20" x2="415.20" y2="281.40" stroke="#777" stroke-width="0.6"/>
<line x1="418.65" y1="280.20" x2="418.65" y2="281.40" stroke="#777" stroke-width="0.6"/>
<line x1="421.10" y1="280.20" x2="421.10" y2="281.40" stroke="#777" stroke-width="0.6"/>
<line x1="423.00" y1="280.20" x2="423.00" y2="281.40" stroke="#777" stroke-width="0.6"/>
<line x1="424.55" y1="280.20" x2="424.55" y2="281.40" stroke="#777" stroke-width="0.6"/>
<line x1="425.86" y1="280.20" x2="425.86" y2="281.40" stroke="#777" stroke-width="0.6"/>
<line x1="427.00" y1="280.20" x2="427.00" y2="281.40" stroke="#777" stroke-width="0.6"/>
<line x1="428.00" y1="280.20" x2="428.00" y2="281.40" stroke="#777" stroke-width="0.6"/>
<line x1="434.80" y1="280.20" x2="434.80" y2="281.40" stroke="#777" stroke-width="0.6"/>
<line x1="438.25" y1="280.20" x2="438.25" y2="281.40" stroke="#777" stroke-width="0.6"/>
<line x1="440.70" y1="280.20" x2="440.70" y2="281.40" stroke="#777" stroke-width="0.6"/>
<line x1="442.60" y1="280.20" x2="442.60" y2="281.40" stroke="#777" stroke-width="0.6"/>
<line x1="444.15" y1="280.20" x2="444.15" y2="281.40" stroke="#777" stroke-width="0.6"/>
<line x1="445.46" y1="280.20" x2="445.46" y2="281.40" stroke="#777" stroke-width="0.6"/>
<line x1="446.60" y1="280.20" x2="446.60" y2="281.40" stroke="#777" stroke-width="0.6"/>
<line x1="447.60" y1="280.20" x2="447.60" y2="281.40" stroke="#777" stroke-width="0.6"/>
<line x1="454.37" y1="280.20" x2="454.37" y2="281.40" stroke="#777" stroke-width="0.6"/>
<line x1="457.80" y1="280.20" x2="457.80" y2="281.40" stroke="#777" stroke-width="0.6"/>
<line x1="460.24" y1="280.20" x2="460.24" y2="281.40" stroke="#777" stroke-width="0.6"/>
<line x1="462.13" y1="280.20" x2="462.13" y2="281.40" stroke="#777" stroke-width="0.6"/>
<line x1="463.67" y1="280.20" x2="463.67" y2="281.40" stroke="#777" stroke-width="0.6"/>
<line x1="464.98" y1="280.20" x2="464.98" y2="281.40" stroke="#777" stroke-width="0.6"/>
<line x1="466.11" y1="280.20" x2="466.11" y2="281.40" stroke="#777" stroke-width="0.6"/>
<line x1="467.11" y1="280.20" x2="467.11" y2="281.40" stroke="#777" stroke-width="0.6"/>
<line x1="387.50" y1="203.20" x2="389.70" y2="203.20" stroke="#444" stroke-width="0.9"/>
<text x="372.50" y="205.70" font-size="7.2" fill="#333">10<tspan font-size="5" dy="-3.2">5</tspan></text>
<line x1="387.50" y1="222.30" x2="389.70" y2="222.30" stroke="#444" stroke-width="0.9"/>
<text x="372.50" y="224.80" font-size="7.2" fill="#333">10<tspan font-size="5" dy="-3.2">4</tspan></text>
<line x1="387.50" y1="241.80" x2="389.70" y2="241.80" stroke="#444" stroke-width="0.9"/>
<text x="372.50" y="244.30" font-size="7.2" fill="#333">10<tspan font-size="5" dy="-3.2">3</tspan></text>
<line x1="387.50" y1="261.50" x2="389.70" y2="261.50" stroke="#444" stroke-width="0.9"/>
<text x="372.50" y="264.00" font-size="7.2" fill="#333">10<tspan font-size="5" dy="-3.2">2</tspan></text>
<line x1="387.50" y1="271.20" x2="389.70" y2="271.20" stroke="#444" stroke-width="0.9"/>
<text x="382.20" y="273.70" font-size="7.2" text-anchor="middle" fill="#333" >0</text>
<line x1="398.40" y1="280.20" x2="398.40" y2="282.20" stroke="#444" stroke-width="0.9"/>
<text x="398.40" y="292.40" font-size="7.2" text-anchor="middle" fill="#333" >0</text>
<line x1="409.30" y1="280.20" x2="409.30" y2="282.20" stroke="#444" stroke-width="0.9"/>
<text x="404.00" y="292.40" font-size="7.2" fill="#333">10<tspan font-size="5" dy="-3.2">2</tspan></text>
<line x1="428.90" y1="280.20" x2="428.90" y2="282.20" stroke="#444" stroke-width="0.9"/>
<text x="423.60" y="292.40" font-size="7.2" fill="#333">10<tspan font-size="5" dy="-3.2">3</tspan></text>
<line x1="448.50" y1="280.20" x2="448.50" y2="282.20" stroke="#444" stroke-width="0.9"/>
<text x="443.20" y="292.40" font-size="7.2" fill="#333">10<tspan font-size="5" dy="-3.2">4</tspan></text>
<line x1="468.00" y1="280.20" x2="468.00" y2="282.20" stroke="#444" stroke-width="0.9"/>
<text x="462.70" y="292.40" font-size="7.2" fill="#333">10<tspan font-size="5" dy="-3.2">5</tspan></text>
<clipPath id="cp10"><rect x="50.5" y="302.7" width="84.6" height="85.2"/></clipPath>
<g clip-path="url(#cp10)"><g transform="translate(50.5 302.7)" fill="#000" fill-opacity="0.03" stroke="#000" stroke-width="0.65" stroke-opacity="0.95">
<path d="M14.8 71.0 14.0 71.0 13.5 70.6 13.0 69.8 12.6 68.5 12.6 67.8 13.3 64.0 13.9 62.8 14.5 62.2 15.2 62.0 17.5 62.7 20.0 62.5 21.0 62.8 21.6 63.8 21.9 66.2 21.7 68.0 21.2 69.2 20.6 69.8 20.0 70.0 17.8 69.8 16.6 70.0 14.8 71.0Z"/>
<path d="M15.0 73.3 14.5 73.3 13.8 73.0 12.5 71.5 10.5 67.9 10.3 67.0 10.6 66.2 13.0 62.2 13.8 61.3 14.5 60.8 15.8 60.7 18.0 61.7 20.2 61.7 21.2 61.9 22.1 62.8 22.4 64.2 22.4 67.5 21.8 69.6 21.2 70.3 20.5 70.8 18.0 70.8 17.0 71.1 15.0 73.3Z"/>
<path d="M15.8 74.8 15.0 75.0 14.2 74.8 12.2 73.0 9.3 68.5 8.9 67.0 9.0 66.2 9.5 65.2 12.6 61.2 14.0 60.0 15.5 59.7 16.5 59.8 18.5 60.7 20.8 60.9 21.8 61.3 22.3 61.8 22.8 62.4 23.1 64.2 22.9 68.2 22.5 69.7 22.0 70.8 21.5 71.3 20.8 71.8 18.5 72.1 17.8 72.4 15.8 74.8Z"/>
<path d="M15.8 76.3 15.0 76.3 14.0 75.9 10.7 73.0 8.2 68.8 7.7 67.0 7.9 66.0 8.5 64.6 10.5 62.0 13.4 59.5 14.5 59.0 15.8 58.8 17.0 59.0 19.0 59.8 21.2 60.3 22.5 60.9 23.1 61.5 23.5 62.2 23.8 64.2 23.4 68.8 23.0 70.5 22.2 72.0 21.0 73.2 18.5 74.0 16.8 75.8 15.8 76.3Z"/>
<path d="M16.2 77.6 15.2 77.6 14.0 77.1 9.1 73.2 8.4 72.2 7.0 69.5 6.6 68.5 6.5 67.5 6.6 66.2 7.3 64.5 8.4 62.2 9.2 61.2 13.2 58.7 14.5 58.2 16.0 58.0 17.8 58.3 22.0 59.8 23.0 60.3 23.7 61.0 24.1 61.8 24.5 64.2 24.3 67.2 23.8 70.2 23.2 72.2 21.9 75.0 21.0 75.9 19.0 76.2 16.2 77.6Z"/>
<path d="M17.5 79.0 15.8 79.1 14.2 78.6 11.0 76.1 8.0 74.4 6.8 73.2 5.6 71.8 5.0 70.8 4.7 69.8 4.8 68.2 5.1 66.8 7.2 61.2 7.8 60.3 8.5 59.7 11.0 58.9 13.5 57.8 15.8 57.3 18.0 57.6 23.2 59.6 24.0 60.2 24.5 61.0 25.2 63.5 25.1 66.0 24.6 69.8 22.8 77.0 22.0 78.1 21.0 78.8 17.5 79.0Z"/>
<path d="M20.5 80.8 19.0 81.0 17.0 80.9 14.0 79.9 10.2 77.5 7.8 76.6 6.8 76.1 4.5 73.9 3.2 72.2 2.8 71.2 2.6 70.2 3.3 67.2 5.9 60.2 6.5 59.4 7.2 58.7 8.2 58.4 11.0 57.9 14.5 56.8 17.2 56.6 18.8 57.0 23.0 58.6 24.1 59.2 25.0 60.2 25.7 62.5 25.9 65.2 25.2 70.5 24.1 76.5 23.7 77.8 22.8 79.2 21.8 80.2 20.5 80.8Z"/>
<path d="M19.5 82.5 18.0 82.7 16.5 82.4 12.2 80.7 8.0 79.5 5.8 78.6 4.7 77.8 1.8 73.0 1.3 71.8 1.2 70.2 2.2 63.0 2.9 61.8 4.8 59.2 5.7 58.2 6.5 57.7 7.8 57.3 10.8 57.0 14.8 56.1 17.8 55.9 19.8 56.4 23.5 57.9 24.8 58.8 25.6 60.0 26.4 62.5 26.6 65.0 25.9 71.0 24.9 77.2 24.0 79.0 22.5 81.0 21.2 82.0 19.5 82.5Z"/>
<path d="M19.5 84.0 17.0 84.0 13.0 82.7 9.5 82.1 6.8 81.1 3.8 80.2 3.0 79.8 2.5 79.0 1.7 76.2 0.1 72.8 -0.1 71.2 -0.0 67.5 -0.3 66.2 -1.1 64.0 -1.2 62.8 -0.9 62.0 -0.2 61.2 5.8 56.8 7.2 56.3 10.8 56.1 15.2 55.3 18.2 55.2 20.8 55.8 23.5 56.9 25.1 58.0 26.2 59.5 26.9 62.0 27.2 65.0 25.7 77.5 24.7 79.5 22.8 82.3 21.2 83.4 19.5 84.0Z"/>
<path d="M19.8 85.5 17.5 85.4 13.2 84.6 10.5 84.8 9.5 84.7 6.2 82.9 2.8 81.8 1.2 80.6 0.4 79.2 -0.2 76.8 -1.3 74.0 -1.5 72.5 -1.3 69.5 -1.4 68.2 -1.8 67.2 -3.0 64.7 -3.0 61.5 -2.2 60.5 3.8 56.6 5.5 55.8 7.2 55.4 10.8 55.2 15.8 54.5 18.8 54.4 22.0 55.1 24.0 56.0 25.9 57.8 26.6 58.8 27.2 60.0 27.9 64.2 26.6 77.2 25.9 79.2 23.2 83.5 21.5 84.9 19.8 85.5Z"/>
<path d="M20.5 87.0 19.0 87.0 14.2 86.3 10.5 86.8 9.0 86.6 2.2 83.1 1.0 82.2 -0.2 81.0 -1.3 79.2 -3.0 75.1 -2.9 69.5 -3.1 65.0 -3.0 59.4 2.8 55.9 5.0 54.9 7.0 54.5 11.0 54.4 16.2 53.6 19.5 53.6 22.5 54.1 24.2 55.0 26.4 57.0 27.2 58.2 27.8 59.8 28.6 64.2 27.5 77.0 26.8 79.2 24.0 84.5 22.5 86.1 21.5 86.7 20.5 87.0Z"/>
<path d="M22.2 88.0 16.3 88.0 14.5 87.8 12.9 88.0 8.2 88.0 1.5 84.0 -0.3 82.5 -2.7 80.0 -3.0 79.7 -3.1 76.0 -3.0 58.1 2.0 55.1 4.2 54.2 7.0 53.7 11.0 53.5 17.0 52.8 20.5 52.8 23.0 53.2 24.8 54.1 26.8 56.1 27.7 57.5 28.4 59.0 29.2 63.5 29.2 65.8 28.5 75.8 27.8 79.0 25.0 85.2 23.9 86.8 22.2 88.0Z"/>
<path d="M24.5 88.0 5.1 88.0 1.0 85.1 -3.0 81.7 -3.2 63.0 -3.0 56.9 1.5 54.2 3.8 53.4 7.0 52.9 11.2 52.6 17.2 51.9 20.8 51.9 23.2 52.3 25.2 53.2 26.8 54.7 28.7 57.5 29.5 60.2 29.9 65.2 29.6 70.0 29.5 74.5 28.8 78.2 26.4 85.2 25.5 87.0 24.5 88.0Z"/>
<path d="M53.8 61.6 53.0 61.7 52.0 61.5 51.2 61.0 50.5 60.1 49.9 58.2 49.3 53.8 49.4 51.5 50.7 46.5 51.5 45.1 52.5 44.6 53.2 44.7 53.8 45.0 55.0 46.7 55.8 48.8 56.3 51.5 56.3 53.2 55.6 59.2 54.8 60.8 53.8 61.6Z"/>
<path d="M27.0 88.0 19.8 88.2 1.6 88.0 -3.0 84.2 -3.2 63.0 -3.0 55.1 0.8 53.0 3.2 52.1 7.5 51.5 12.2 51.3 18.2 50.6 21.2 50.6 23.8 51.1 26.0 52.1 27.8 53.5 29.3 55.8 30.3 58.2 30.6 60.5 31.0 66.2 30.7 70.2 30.7 74.2 30.4 76.5 28.0 85.8 27.0 88.0Z"/>
<path d="M54.2 64.5 52.8 64.6 51.2 64.1 50.0 63.2 49.0 62.1 48.3 60.0 47.9 56.2 47.3 52.8 47.4 51.2 48.3 48.0 49.0 44.2 49.5 43.0 50.2 41.9 51.5 40.8 52.8 40.1 53.8 39.9 54.5 40.0 55.2 40.4 56.2 42.0 57.7 47.5 58.1 51.5 57.9 59.0 57.6 60.8 57.1 62.0 56.2 63.2 55.2 64.1 54.2 64.5Z"/>
<path d="M28.8 88.0 22.2 88.2 2.2 88.1 -2.0 88.0 -3.0 87.3 -3.2 80.5 -3.2 63.0 -3.0 53.0 0.2 51.4 3.5 50.6 7.8 50.1 12.2 50.0 20.2 49.4 22.8 49.6 25.5 50.3 27.8 51.4 29.4 52.8 30.6 54.8 31.5 58.0 32.0 66.8 31.6 76.2 29.6 85.2 28.8 88.0Z"/>
<path d="M53.8 67.0 52.5 66.9 51.0 66.1 49.2 64.8 48.0 63.2 47.1 60.8 46.7 56.2 45.6 53.5 45.5 52.5 47.0 48.2 47.7 43.2 48.4 41.2 49.5 39.8 51.0 38.3 52.2 37.7 53.5 37.4 54.8 37.7 56.0 38.3 56.9 39.2 57.6 40.5 58.1 42.2 59.0 46.8 59.3 51.5 59.2 59.2 58.7 61.8 57.7 63.8 56.2 65.7 55.0 66.7 53.8 67.0Z"/>
<path d="M29.8 88.0 25.2 88.2 9.5 88.2 -3.1 88.0 -3.2 60.2 -3.0 51.1 0.2 50.1 6.0 49.1 21.5 48.4 24.0 48.8 27.2 49.9 29.4 51.0 31.3 52.5 32.2 54.0 32.7 58.8 32.9 67.0 32.7 74.0 32.3 77.5 30.9 84.5 30.1 87.5 30.0 88.0 29.8 88.0Z"/>
<path d="M31.0 88.0 26.8 88.2 9.5 88.2 -3.0 88.2 -3.2 88.0 -3.2 57.8 -3.0 49.5 -0.2 48.9 6.0 48.0 21.2 47.4 23.2 47.6 25.2 48.1 28.2 49.1 31.5 50.5 33.0 50.9 34.8 51.0 43.5 50.5 44.8 49.8 45.7 48.2 46.2 46.5 46.7 41.8 47.4 40.0 48.5 38.2 50.0 36.5 51.8 35.3 53.0 35.0 54.2 35.3 56.2 36.5 57.8 38.0 58.8 39.8 59.4 42.2 60.2 47.8 60.4 52.5 60.3 59.8 60.0 61.5 59.3 63.2 57.2 67.6 56.1 69.2 55.2 70.0 54.0 70.6 53.0 70.8 52.0 70.7 51.0 70.2 50.0 69.2 47.0 64.2 46.1 61.5 45.5 57.0 45.1 56.0 44.5 55.3 43.5 54.8 42.2 54.8 38.2 55.5 35.2 55.7 34.2 56.2 33.9 57.0 33.7 58.2 33.6 62.8 33.9 67.8 33.4 76.5 32.1 84.2 31.0 88.0Z"/>
<line x1="0.8" y1="47" x2="0.8" y2="85" stroke-width="1.3"/>
<line x1="0" y1="83.6" x2="32" y2="83.6" stroke-width="1.2"/>
</g></g>
<line x1="50.00" y1="302.70" x2="135.60" y2="302.70" stroke="#606060" stroke-width="1.1"/>
<line x1="135.10" y1="302.70" x2="135.10" y2="387.90" stroke="#9a9a9a" stroke-width="1.1"/>
<line x1="50.50" y1="302.70" x2="50.50" y2="387.90" stroke="#8a8a8a" stroke-width="0.9"/>
<line x1="50.50" y1="387.90" x2="135.10" y2="387.90" stroke="#8a8a8a" stroke-width="0.9"/>
<line x1="49.30" y1="324.25" x2="50.50" y2="324.25" stroke="#777" stroke-width="0.6"/>
<line x1="49.30" y1="320.89" x2="50.50" y2="320.89" stroke="#777" stroke-width="0.6"/>
<line x1="49.30" y1="318.50" x2="50.50" y2="318.50" stroke="#777" stroke-width="0.6"/>
<line x1="49.30" y1="316.65" x2="50.50" y2="316.65" stroke="#777" stroke-width="0.6"/>
<line x1="49.30" y1="315.14" x2="50.50" y2="315.14" stroke="#777" stroke-width="0.6"/>
<line x1="49.30" y1="313.86" x2="50.50" y2="313.86" stroke="#777" stroke-width="0.6"/>
<line x1="49.30" y1="312.75" x2="50.50" y2="312.75" stroke="#777" stroke-width="0.6"/>
<line x1="49.30" y1="311.77" x2="50.50" y2="311.77" stroke="#777" stroke-width="0.6"/>
<line x1="49.30" y1="343.63" x2="50.50" y2="343.63" stroke="#777" stroke-width="0.6"/>
<line x1="49.30" y1="340.20" x2="50.50" y2="340.20" stroke="#777" stroke-width="0.6"/>
<line x1="49.30" y1="337.76" x2="50.50" y2="337.76" stroke="#777" stroke-width="0.6"/>
<line x1="49.30" y1="335.87" x2="50.50" y2="335.87" stroke="#777" stroke-width="0.6"/>
<line x1="49.30" y1="334.33" x2="50.50" y2="334.33" stroke="#777" stroke-width="0.6"/>
<line x1="49.30" y1="333.02" x2="50.50" y2="333.02" stroke="#777" stroke-width="0.6"/>
<line x1="49.30" y1="331.89" x2="50.50" y2="331.89" stroke="#777" stroke-width="0.6"/>
<line x1="49.30" y1="330.89" x2="50.50" y2="330.89" stroke="#777" stroke-width="0.6"/>
<line x1="49.30" y1="363.27" x2="50.50" y2="363.27" stroke="#777" stroke-width="0.6"/>
<line x1="49.30" y1="359.80" x2="50.50" y2="359.80" stroke="#777" stroke-width="0.6"/>
<line x1="49.30" y1="357.34" x2="50.50" y2="357.34" stroke="#777" stroke-width="0.6"/>
<line x1="49.30" y1="355.43" x2="50.50" y2="355.43" stroke="#777" stroke-width="0.6"/>
<line x1="49.30" y1="353.87" x2="50.50" y2="353.87" stroke="#777" stroke-width="0.6"/>
<line x1="49.30" y1="352.55" x2="50.50" y2="352.55" stroke="#777" stroke-width="0.6"/>
<line x1="49.30" y1="351.41" x2="50.50" y2="351.41" stroke="#777" stroke-width="0.6"/>
<line x1="49.30" y1="350.40" x2="50.50" y2="350.40" stroke="#777" stroke-width="0.6"/>
<line x1="76.00" y1="387.90" x2="76.00" y2="389.10" stroke="#777" stroke-width="0.6"/>
<line x1="79.45" y1="387.90" x2="79.45" y2="389.10" stroke="#777" stroke-width="0.6"/>
<line x1="81.90" y1="387.90" x2="81.90" y2="389.10" stroke="#777" stroke-width="0.6"/>
<line x1="83.80" y1="387.90" x2="83.80" y2="389.10" stroke="#777" stroke-width="0.6"/>
<line x1="85.35" y1="387.90" x2="85.35" y2="389.10" stroke="#777" stroke-width="0.6"/>
<line x1="86.66" y1="387.90" x2="86.66" y2="389.10" stroke="#777" stroke-width="0.6"/>
<line x1="87.80" y1="387.90" x2="87.80" y2="389.10" stroke="#777" stroke-width="0.6"/>
<line x1="88.80" y1="387.90" x2="88.80" y2="389.10" stroke="#777" stroke-width="0.6"/>
<line x1="95.60" y1="387.90" x2="95.60" y2="389.10" stroke="#777" stroke-width="0.6"/>
<line x1="99.05" y1="387.90" x2="99.05" y2="389.10" stroke="#777" stroke-width="0.6"/>
<line x1="101.50" y1="387.90" x2="101.50" y2="389.10" stroke="#777" stroke-width="0.6"/>
<line x1="103.40" y1="387.90" x2="103.40" y2="389.10" stroke="#777" stroke-width="0.6"/>
<line x1="104.95" y1="387.90" x2="104.95" y2="389.10" stroke="#777" stroke-width="0.6"/>
<line x1="106.26" y1="387.90" x2="106.26" y2="389.10" stroke="#777" stroke-width="0.6"/>
<line x1="107.40" y1="387.90" x2="107.40" y2="389.10" stroke="#777" stroke-width="0.6"/>
<line x1="108.40" y1="387.90" x2="108.40" y2="389.10" stroke="#777" stroke-width="0.6"/>
<line x1="115.17" y1="387.90" x2="115.17" y2="389.10" stroke="#777" stroke-width="0.6"/>
<line x1="118.60" y1="387.90" x2="118.60" y2="389.10" stroke="#777" stroke-width="0.6"/>
<line x1="121.04" y1="387.90" x2="121.04" y2="389.10" stroke="#777" stroke-width="0.6"/>
<line x1="122.93" y1="387.90" x2="122.93" y2="389.10" stroke="#777" stroke-width="0.6"/>
<line x1="124.47" y1="387.90" x2="124.47" y2="389.10" stroke="#777" stroke-width="0.6"/>
<line x1="125.78" y1="387.90" x2="125.78" y2="389.10" stroke="#777" stroke-width="0.6"/>
<line x1="126.91" y1="387.90" x2="126.91" y2="389.10" stroke="#777" stroke-width="0.6"/>
<line x1="127.91" y1="387.90" x2="127.91" y2="389.10" stroke="#777" stroke-width="0.6"/>
<line x1="48.30" y1="310.90" x2="50.50" y2="310.90" stroke="#444" stroke-width="0.9"/>
<text x="33.30" y="313.40" font-size="7.2" fill="#333">10<tspan font-size="5" dy="-3.2">5</tspan></text>
<line x1="48.30" y1="330.00" x2="50.50" y2="330.00" stroke="#444" stroke-width="0.9"/>
<text x="33.30" y="332.50" font-size="7.2" fill="#333">10<tspan font-size="5" dy="-3.2">4</tspan></text>
<line x1="48.30" y1="349.50" x2="50.50" y2="349.50" stroke="#444" stroke-width="0.9"/>
<text x="33.30" y="352.00" font-size="7.2" fill="#333">10<tspan font-size="5" dy="-3.2">3</tspan></text>
<line x1="48.30" y1="369.20" x2="50.50" y2="369.20" stroke="#444" stroke-width="0.9"/>
<text x="33.30" y="371.70" font-size="7.2" fill="#333">10<tspan font-size="5" dy="-3.2">2</tspan></text>
<line x1="48.30" y1="378.90" x2="50.50" y2="378.90" stroke="#444" stroke-width="0.9"/>
<text x="43.00" y="381.40" font-size="7.2" text-anchor="middle" fill="#333" >0</text>
<line x1="59.20" y1="387.90" x2="59.20" y2="389.90" stroke="#444" stroke-width="0.9"/>
<text x="59.20" y="400.10" font-size="7.2" text-anchor="middle" fill="#333" >0</text>
<line x1="70.10" y1="387.90" x2="70.10" y2="389.90" stroke="#444" stroke-width="0.9"/>
<text x="64.80" y="400.10" font-size="7.2" fill="#333">10<tspan font-size="5" dy="-3.2">2</tspan></text>
<line x1="89.70" y1="387.90" x2="89.70" y2="389.90" stroke="#444" stroke-width="0.9"/>
<text x="84.40" y="400.10" font-size="7.2" fill="#333">10<tspan font-size="5" dy="-3.2">3</tspan></text>
<line x1="109.30" y1="387.90" x2="109.30" y2="389.90" stroke="#444" stroke-width="0.9"/>
<text x="104.00" y="400.10" font-size="7.2" fill="#333">10<tspan font-size="5" dy="-3.2">4</tspan></text>
<line x1="128.80" y1="387.90" x2="128.80" y2="389.90" stroke="#444" stroke-width="0.9"/>
<text x="123.50" y="400.10" font-size="7.2" fill="#333">10<tspan font-size="5" dy="-3.2">5</tspan></text>
<clipPath id="cp11"><rect x="164.2" y="302.7" width="84.6" height="85.2"/></clipPath>
<g clip-path="url(#cp11)"><g transform="translate(164.2 302.7)" fill="#000" fill-opacity="0.03" stroke="#000" stroke-width="0.65" stroke-opacity="0.95">
<path d="M12.8 74.5 11.8 74.6 11.0 74.4 10.4 74.0 10.0 73.2 10.0 72.0 10.2 71.0 10.8 70.3 11.5 69.9 12.8 69.8 14.0 70.1 14.8 70.6 15.3 71.2 15.3 72.2 14.9 73.5 14.0 74.1 12.8 74.5Z"/>
<path d="M12.8 74.8 11.8 74.8 10.8 74.6 10.2 74.2 9.8 73.5 9.6 72.0 9.8 71.0 10.2 70.2 11.2 69.7 12.8 69.6 14.2 69.9 15.3 70.5 15.8 71.2 15.7 72.8 15.2 73.7 14.2 74.3 12.8 74.8Z"/>
<path d="M13.0 75.0 11.8 75.1 10.8 75.0 9.9 74.5 9.5 73.8 9.3 72.2 9.3 71.0 9.9 70.0 10.7 69.5 12.2 69.2 14.0 69.4 15.5 70.0 16.3 70.8 16.4 72.0 16.2 73.2 15.9 73.8 14.8 74.5 13.0 75.0Z"/>
<path d="M13.5 75.3 12.0 75.5 10.8 75.3 9.9 75.0 9.2 74.3 8.9 73.2 8.8 71.2 9.1 70.2 9.8 69.5 11.5 68.9 13.7 69.0 16.0 69.6 16.7 70.0 17.1 70.5 17.3 71.8 16.9 73.8 16.0 74.5 13.5 75.3Z"/>
<path d="M12.8 75.8 11.5 75.8 10.2 75.6 9.5 75.2 8.8 74.5 8.5 73.5 8.3 71.5 8.4 70.5 8.8 69.8 10.0 68.9 12.0 68.5 15.8 68.9 17.1 69.2 17.8 69.6 18.2 70.2 18.4 71.0 18.4 73.5 18.1 74.2 16.8 74.9 12.8 75.8Z"/>
<path d="M13.8 76.0 12.0 76.2 10.5 76.1 9.2 75.6 8.5 74.9 8.0 73.5 7.7 71.0 8.0 69.8 8.8 68.9 10.5 68.2 13.0 68.1 17.2 68.6 18.2 68.9 18.9 69.5 19.2 70.5 19.5 73.5 19.4 74.2 19.1 74.8 17.8 75.5 13.8 76.0Z"/>
<path d="M13.5 76.5 11.8 76.6 10.2 76.5 9.0 76.0 8.1 75.2 7.5 74.0 7.1 71.5 7.1 70.2 7.6 69.2 8.2 68.6 9.0 68.2 11.2 67.7 17.0 67.9 18.2 68.1 19.0 68.5 19.6 69.2 19.9 70.2 20.3 73.8 19.9 75.0 19.2 75.6 18.2 76.0 13.5 76.5Z"/>
<path d="M13.5 77.0 11.8 77.1 10.0 76.9 8.8 76.4 7.8 75.7 7.0 74.2 6.3 71.5 6.4 70.2 6.7 69.2 7.4 68.5 8.2 67.9 10.5 67.4 17.2 67.4 18.5 67.6 19.4 68.0 20.1 68.8 20.5 70.0 21.0 73.8 20.9 74.5 20.6 75.2 19.8 76.1 18.5 76.6 13.5 77.0Z"/>
<path d="M14.0 77.5 11.8 77.5 9.5 77.2 8.0 76.6 7.0 75.8 6.2 74.0 5.5 71.0 5.9 69.2 7.0 68.0 8.2 67.3 10.0 67.0 16.8 66.9 19.0 67.1 19.8 67.5 20.5 68.2 21.0 69.5 21.7 73.5 21.6 74.5 21.2 75.5 20.2 76.5 18.8 77.1 17.2 77.4 14.0 77.5Z"/>
<path d="M16.0 78.0 12.5 78.1 10.0 77.8 8.0 77.2 6.5 76.2 5.8 75.2 5.4 74.2 4.8 71.2 5.0 69.5 6.0 68.1 7.0 67.3 8.0 66.9 10.8 66.5 18.0 66.4 19.5 66.8 20.7 67.5 21.3 68.5 21.7 69.8 22.3 73.8 22.0 75.2 21.1 76.5 19.8 77.4 18.2 77.8 16.0 78.0Z"/>
<path d="M17.5 78.5 13.5 78.6 10.8 78.4 8.0 77.9 6.2 77.0 5.5 76.2 4.9 75.2 4.1 72.5 4.1 70.0 5.0 68.2 6.0 67.3 7.0 66.7 8.2 66.3 9.8 66.1 18.0 66.0 19.8 66.3 20.9 67.0 21.7 68.0 22.1 69.2 22.9 73.5 22.8 75.0 22.1 76.2 21.0 77.3 19.5 78.1 17.5 78.5Z"/>
<path d="M18.0 79.0 14.0 79.2 10.8 79.0 7.5 78.3 5.4 77.2 4.6 76.5 4.0 75.5 3.4 73.2 3.3 71.2 3.4 70.0 3.7 69.0 4.3 68.0 5.2 67.1 6.5 66.4 7.8 65.9 9.2 65.7 18.2 65.5 20.0 65.9 21.2 66.6 22.1 67.5 22.6 69.0 23.5 73.2 23.4 75.0 22.7 76.5 21.5 77.7 19.8 78.6 18.0 79.0Z"/>
<path d="M15.8 79.8 12.2 79.7 7.2 78.9 5.5 78.2 4.0 77.0 3.3 76.0 2.8 74.8 2.6 71.2 3.0 69.0 3.5 68.0 4.2 67.2 5.5 66.3 6.8 65.7 8.2 65.3 10.0 65.2 18.8 65.1 20.8 65.7 22.0 66.5 22.7 67.5 23.1 68.5 24.0 72.8 24.1 74.5 23.7 76.0 22.5 77.6 20.8 78.8 18.8 79.5 15.8 79.8Z"/>
<path d="M17.0 80.3 12.8 80.3 7.2 79.6 5.2 78.9 3.7 77.8 2.4 76.0 2.1 74.8 2.0 73.2 2.1 69.5 2.6 68.2 3.3 67.2 4.5 66.2 5.8 65.5 7.2 65.0 9.0 64.8 18.5 64.7 20.8 65.1 22.2 66.0 23.4 67.8 24.2 70.2 24.8 73.5 24.4 75.8 23.5 77.5 21.8 79.0 19.5 79.9 17.0 80.3Z"/>
<path d="M17.5 80.8 13.0 80.9 7.0 80.2 5.0 79.5 3.2 78.2 1.9 76.5 1.5 75.2 1.4 73.8 1.4 69.5 1.8 68.2 2.6 67.0 4.0 65.9 5.5 65.1 7.0 64.6 9.0 64.3 18.8 64.2 21.0 64.7 22.7 65.8 24.0 67.5 25.0 70.8 25.4 73.5 25.1 75.8 24.1 77.8 22.5 79.2 20.2 80.3 17.5 80.8Z"/>
<path d="M18.0 81.3 13.2 81.4 6.8 80.8 4.8 80.1 2.7 78.8 1.4 77.0 1.0 75.8 0.8 74.2 0.8 69.2 1.2 68.0 2.0 66.8 3.2 65.7 5.0 64.7 6.8 64.2 8.8 63.9 17.0 63.7 19.2 63.8 21.5 64.4 23.2 65.5 24.6 67.5 25.8 71.2 26.0 73.8 25.6 76.0 24.5 78.2 23.0 79.7 21.0 80.7 18.0 81.3Z"/>
<path d="M18.2 82.8 14.0 83.0 6.2 82.5 3.8 81.7 0.8 79.8 -0.1 78.5 -0.6 77.0 -1.0 70.2 -0.7 67.5 -0.2 66.5 0.5 65.5 2.0 64.4 4.2 63.4 6.5 62.8 9.0 62.5 17.8 62.3 20.0 62.5 22.8 63.2 24.9 64.5 25.7 65.5 26.5 66.8 27.7 70.5 28.0 73.5 27.4 76.5 25.9 79.5 24.2 81.2 22.0 82.2 18.2 82.8Z"/>
<path d="M14.5 84.8 7.0 84.6 5.0 84.3 3.0 83.6 0.0 82.1 -1.2 81.2 -2.1 80.2 -2.6 79.2 -3.0 77.8 -3.0 66.7 -2.0 64.8 -0.2 63.1 1.0 62.4 2.5 61.8 7.2 60.8 9.8 60.7 20.0 60.5 22.5 60.9 25.0 61.9 27.0 63.2 28.4 64.8 29.2 66.2 29.9 68.8 30.2 71.0 30.3 73.8 30.2 75.5 29.8 77.0 27.9 80.8 26.2 82.6 24.0 83.7 20.8 84.3 14.5 84.8Z"/>
<line x1="0.9" y1="60" x2="0.9" y2="85" stroke-width="1.2"/>
</g></g>
<line x1="163.70" y1="302.70" x2="249.30" y2="302.70" stroke="#606060" stroke-width="1.1"/>
<line x1="248.80" y1="302.70" x2="248.80" y2="387.90" stroke="#9a9a9a" stroke-width="1.1"/>
<line x1="164.20" y1="302.70" x2="164.20" y2="387.90" stroke="#8a8a8a" stroke-width="0.9"/>
<line x1="164.20" y1="387.90" x2="248.80" y2="387.90" stroke="#8a8a8a" stroke-width="0.9"/>
<line x1="163.00" y1="324.25" x2="164.20" y2="324.25" stroke="#777" stroke-width="0.6"/>
<line x1="163.00" y1="320.89" x2="164.20" y2="320.89" stroke="#777" stroke-width="0.6"/>
<line x1="163.00" y1="318.50" x2="164.20" y2="318.50" stroke="#777" stroke-width="0.6"/>
<line x1="163.00" y1="316.65" x2="164.20" y2="316.65" stroke="#777" stroke-width="0.6"/>
<line x1="163.00" y1="315.14" x2="164.20" y2="315.14" stroke="#777" stroke-width="0.6"/>
<line x1="163.00" y1="313.86" x2="164.20" y2="313.86" stroke="#777" stroke-width="0.6"/>
<line x1="163.00" y1="312.75" x2="164.20" y2="312.75" stroke="#777" stroke-width="0.6"/>
<line x1="163.00" y1="311.77" x2="164.20" y2="311.77" stroke="#777" stroke-width="0.6"/>
<line x1="163.00" y1="343.63" x2="164.20" y2="343.63" stroke="#777" stroke-width="0.6"/>
<line x1="163.00" y1="340.20" x2="164.20" y2="340.20" stroke="#777" stroke-width="0.6"/>
<line x1="163.00" y1="337.76" x2="164.20" y2="337.76" stroke="#777" stroke-width="0.6"/>
<line x1="163.00" y1="335.87" x2="164.20" y2="335.87" stroke="#777" stroke-width="0.6"/>
<line x1="163.00" y1="334.33" x2="164.20" y2="334.33" stroke="#777" stroke-width="0.6"/>
<line x1="163.00" y1="333.02" x2="164.20" y2="333.02" stroke="#777" stroke-width="0.6"/>
<line x1="163.00" y1="331.89" x2="164.20" y2="331.89" stroke="#777" stroke-width="0.6"/>
<line x1="163.00" y1="330.89" x2="164.20" y2="330.89" stroke="#777" stroke-width="0.6"/>
<line x1="163.00" y1="363.27" x2="164.20" y2="363.27" stroke="#777" stroke-width="0.6"/>
<line x1="163.00" y1="359.80" x2="164.20" y2="359.80" stroke="#777" stroke-width="0.6"/>
<line x1="163.00" y1="357.34" x2="164.20" y2="357.34" stroke="#777" stroke-width="0.6"/>
<line x1="163.00" y1="355.43" x2="164.20" y2="355.43" stroke="#777" stroke-width="0.6"/>
<line x1="163.00" y1="353.87" x2="164.20" y2="353.87" stroke="#777" stroke-width="0.6"/>
<line x1="163.00" y1="352.55" x2="164.20" y2="352.55" stroke="#777" stroke-width="0.6"/>
<line x1="163.00" y1="351.41" x2="164.20" y2="351.41" stroke="#777" stroke-width="0.6"/>
<line x1="163.00" y1="350.40" x2="164.20" y2="350.40" stroke="#777" stroke-width="0.6"/>
<line x1="189.70" y1="387.90" x2="189.70" y2="389.10" stroke="#777" stroke-width="0.6"/>
<line x1="193.15" y1="387.90" x2="193.15" y2="389.10" stroke="#777" stroke-width="0.6"/>
<line x1="195.60" y1="387.90" x2="195.60" y2="389.10" stroke="#777" stroke-width="0.6"/>
<line x1="197.50" y1="387.90" x2="197.50" y2="389.10" stroke="#777" stroke-width="0.6"/>
<line x1="199.05" y1="387.90" x2="199.05" y2="389.10" stroke="#777" stroke-width="0.6"/>
<line x1="200.36" y1="387.90" x2="200.36" y2="389.10" stroke="#777" stroke-width="0.6"/>
<line x1="201.50" y1="387.90" x2="201.50" y2="389.10" stroke="#777" stroke-width="0.6"/>
<line x1="202.50" y1="387.90" x2="202.50" y2="389.10" stroke="#777" stroke-width="0.6"/>
<line x1="209.30" y1="387.90" x2="209.30" y2="389.10" stroke="#777" stroke-width="0.6"/>
<line x1="212.75" y1="387.90" x2="212.75" y2="389.10" stroke="#777" stroke-width="0.6"/>
<line x1="215.20" y1="387.90" x2="215.20" y2="389.10" stroke="#777" stroke-width="0.6"/>
<line x1="217.10" y1="387.90" x2="217.10" y2="389.10" stroke="#777" stroke-width="0.6"/>
<line x1="218.65" y1="387.90" x2="218.65" y2="389.10" stroke="#777" stroke-width="0.6"/>
<line x1="219.96" y1="387.90" x2="219.96" y2="389.10" stroke="#777" stroke-width="0.6"/>
<line x1="221.10" y1="387.90" x2="221.10" y2="389.10" stroke="#777" stroke-width="0.6"/>
<line x1="222.10" y1="387.90" x2="222.10" y2="389.10" stroke="#777" stroke-width="0.6"/>
<line x1="228.87" y1="387.90" x2="228.87" y2="389.10" stroke="#777" stroke-width="0.6"/>
<line x1="232.30" y1="387.90" x2="232.30" y2="389.10" stroke="#777" stroke-width="0.6"/>
<line x1="234.74" y1="387.90" x2="234.74" y2="389.10" stroke="#777" stroke-width="0.6"/>
<line x1="236.63" y1="387.90" x2="236.63" y2="389.10" stroke="#777" stroke-width="0.6"/>
<line x1="238.17" y1="387.90" x2="238.17" y2="389.10" stroke="#777" stroke-width="0.6"/>
<line x1="239.48" y1="387.90" x2="239.48" y2="389.10" stroke="#777" stroke-width="0.6"/>
<line x1="240.61" y1="387.90" x2="240.61" y2="389.10" stroke="#777" stroke-width="0.6"/>
<line x1="241.61" y1="387.90" x2="241.61" y2="389.10" stroke="#777" stroke-width="0.6"/>
<line x1="162.00" y1="310.90" x2="164.20" y2="310.90" stroke="#444" stroke-width="0.9"/>
<text x="147.00" y="313.40" font-size="7.2" fill="#333">10<tspan font-size="5" dy="-3.2">5</tspan></text>
<line x1="162.00" y1="330.00" x2="164.20" y2="330.00" stroke="#444" stroke-width="0.9"/>
<text x="147.00" y="332.50" font-size="7.2" fill="#333">10<tspan font-size="5" dy="-3.2">4</tspan></text>
<line x1="162.00" y1="349.50" x2="164.20" y2="349.50" stroke="#444" stroke-width="0.9"/>
<text x="147.00" y="352.00" font-size="7.2" fill="#333">10<tspan font-size="5" dy="-3.2">3</tspan></text>
<line x1="162.00" y1="369.20" x2="164.20" y2="369.20" stroke="#444" stroke-width="0.9"/>
<text x="147.00" y="371.70" font-size="7.2" fill="#333">10<tspan font-size="5" dy="-3.2">2</tspan></text>
<line x1="162.00" y1="378.90" x2="164.20" y2="378.90" stroke="#444" stroke-width="0.9"/>
<text x="156.70" y="381.40" font-size="7.2" text-anchor="middle" fill="#333" >0</text>
<line x1="172.90" y1="387.90" x2="172.90" y2="389.90" stroke="#444" stroke-width="0.9"/>
<text x="172.90" y="400.10" font-size="7.2" text-anchor="middle" fill="#333" >0</text>
<line x1="183.80" y1="387.90" x2="183.80" y2="389.90" stroke="#444" stroke-width="0.9"/>
<text x="178.50" y="400.10" font-size="7.2" fill="#333">10<tspan font-size="5" dy="-3.2">2</tspan></text>
<line x1="203.40" y1="387.90" x2="203.40" y2="389.90" stroke="#444" stroke-width="0.9"/>
<text x="198.10" y="400.10" font-size="7.2" fill="#333">10<tspan font-size="5" dy="-3.2">3</tspan></text>
<line x1="223.00" y1="387.90" x2="223.00" y2="389.90" stroke="#444" stroke-width="0.9"/>
<text x="217.70" y="400.10" font-size="7.2" fill="#333">10<tspan font-size="5" dy="-3.2">4</tspan></text>
<line x1="242.50" y1="387.90" x2="242.50" y2="389.90" stroke="#444" stroke-width="0.9"/>
<text x="237.20" y="400.10" font-size="7.2" fill="#333">10<tspan font-size="5" dy="-3.2">5</tspan></text>
<clipPath id="cp12"><rect x="277.0" y="302.7" width="84.6" height="85.2"/></clipPath>
<g clip-path="url(#cp12)"><g transform="translate(277.0 302.7)" fill="#000" fill-opacity="0.03" stroke="#000" stroke-width="0.65" stroke-opacity="0.95">
<path d="M28.5 77.3 26.8 77.0 26.2 76.5 26.1 76.0 26.4 75.2 27.0 74.7 28.0 74.1 28.8 74.0 29.6 74.5 29.9 75.8 29.5 76.8 28.5 77.3Z"/>
<path d="M28.8 77.6 27.8 77.6 26.5 77.4 25.7 77.0 25.3 76.2 25.5 75.5 26.4 74.5 27.2 74.0 28.5 73.6 29.2 73.7 29.8 74.1 30.3 75.5 29.9 76.8 28.8 77.6Z"/>
<path d="M28.2 78.0 26.8 78.0 25.3 77.5 24.5 76.8 24.4 76.0 25.0 75.0 26.1 74.0 27.8 73.3 29.0 73.2 29.8 73.5 30.2 74.1 30.6 75.0 30.6 76.0 30.3 76.8 29.8 77.4 28.2 78.0Z"/>
<path d="M29.0 78.3 26.8 78.5 25.5 78.2 24.3 77.8 23.7 77.2 23.4 76.8 23.6 75.5 24.6 74.2 26.2 73.3 28.5 72.7 29.8 72.9 30.4 73.5 30.8 74.2 31.0 76.0 30.8 76.8 30.2 77.5 29.0 78.3Z"/>
<path d="M28.8 78.8 27.5 78.9 26.0 78.9 24.2 78.5 23.0 78.0 22.4 77.2 22.2 76.5 22.5 75.5 23.1 74.5 24.5 73.4 27.2 72.4 29.0 72.1 30.2 72.7 30.8 73.3 31.2 74.2 31.3 76.2 31.1 77.0 30.5 77.8 29.8 78.3 28.8 78.8Z"/>
<path d="M28.5 79.3 26.8 79.4 24.8 79.2 22.8 78.8 21.7 78.2 21.2 77.5 21.1 76.5 21.5 75.2 22.4 73.8 24.0 72.7 27.8 71.7 29.2 71.6 30.5 72.2 31.1 73.0 31.6 74.0 31.8 75.2 31.7 76.5 31.2 77.5 30.6 78.2 29.5 79.0 28.5 79.3Z"/>
<path d="M28.5 79.8 26.5 79.9 23.2 79.6 21.8 79.2 21.0 78.8 20.3 77.8 20.1 76.5 20.6 74.5 21.3 73.2 22.2 72.5 23.2 72.1 28.0 71.1 29.5 71.1 30.8 71.8 31.6 72.8 32.0 74.0 32.2 75.5 32.0 76.8 31.6 77.8 30.8 78.7 29.8 79.3 28.5 79.8Z"/>
<path d="M28.5 80.3 26.5 80.4 22.5 80.1 21.2 79.8 20.1 79.0 19.4 77.8 19.2 76.2 19.7 73.8 20.5 72.4 21.5 71.7 22.8 71.2 28.5 70.4 30.0 70.6 31.2 71.4 32.0 72.5 32.5 74.0 32.6 75.8 32.4 77.0 31.9 78.0 31.0 79.0 29.8 79.8 28.5 80.3Z"/>
<path d="M28.8 80.8 27.0 80.9 22.2 80.6 20.8 80.3 19.6 79.5 18.7 78.0 18.4 76.0 18.7 73.2 19.8 71.6 20.8 70.9 22.2 70.4 28.5 69.8 30.0 69.9 31.5 70.9 32.3 72.0 32.8 73.5 33.0 75.5 32.8 77.0 32.3 78.2 31.4 79.2 30.2 80.1 28.8 80.8Z"/>
<path d="M29.0 81.3 27.2 81.5 21.8 81.1 20.2 80.7 18.9 79.8 17.9 78.0 17.6 75.8 17.9 73.0 18.3 72.0 19.0 71.0 20.2 70.1 22.0 69.5 28.5 69.1 30.2 69.4 32.0 70.5 32.8 71.8 33.3 73.2 33.5 75.2 33.3 77.0 32.6 78.5 31.8 79.6 30.5 80.6 29.0 81.3Z"/>
<path d="M29.2 81.8 27.5 82.0 21.5 81.7 19.8 81.1 18.3 80.0 17.6 79.0 17.1 77.8 16.8 74.8 17.2 72.2 17.7 71.2 18.5 70.3 20.0 69.3 21.8 68.7 28.5 68.4 30.5 68.8 32.3 70.0 33.2 71.2 33.7 73.0 33.9 75.2 33.7 77.2 33.0 78.8 32.0 80.0 30.8 81.1 29.2 81.8Z"/>
<path d="M28.5 82.5 20.8 82.1 18.8 81.2 17.4 80.0 16.7 78.8 16.2 77.2 16.0 75.8 16.1 73.5 16.3 72.2 16.8 71.2 17.5 70.2 18.5 69.3 20.0 68.5 22.0 67.9 29.0 67.7 30.0 67.9 31.0 68.3 32.1 69.0 33.0 70.0 33.9 71.5 34.3 73.5 34.3 76.0 33.9 78.0 33.1 79.5 31.8 81.0 30.0 82.1 28.5 82.5Z"/>
<path d="M29.2 83.0 27.8 83.1 20.8 82.7 18.5 81.8 16.9 80.5 16.1 79.2 15.6 77.8 15.3 76.2 15.2 74.0 15.4 72.5 15.8 71.2 16.5 70.2 17.5 69.2 19.2 68.1 21.2 67.4 23.8 67.1 28.8 66.9 30.0 67.1 31.0 67.5 32.2 68.4 33.2 69.4 34.1 70.8 34.7 72.8 34.8 75.5 34.4 77.8 33.7 79.5 32.5 81.0 30.8 82.4 29.2 83.0Z"/>
<path d="M29.5 83.6 28.2 83.7 21.0 83.3 18.2 82.3 16.5 81.0 15.6 79.8 14.9 78.0 14.5 76.5 14.4 74.5 14.5 72.8 14.9 71.5 15.5 70.2 16.5 69.2 18.2 67.9 20.0 67.1 22.2 66.6 25.2 66.3 28.8 66.2 30.0 66.4 31.8 67.2 33.5 68.8 34.6 70.5 35.1 72.2 35.3 75.2 34.9 77.8 34.1 79.8 33.0 81.2 31.2 82.8 29.5 83.6Z"/>
<path d="M28.8 84.3 25.1 84.0 22.0 84.0 20.2 83.7 17.2 82.5 16.2 81.7 15.4 80.8 14.4 79.0 13.9 77.2 13.6 75.2 13.7 73.0 14.0 71.5 14.6 70.2 15.4 69.2 16.8 68.1 18.8 66.9 21.0 66.2 24.5 65.7 28.8 65.6 30.2 65.8 31.5 66.3 33.0 67.5 34.2 68.8 35.2 70.5 35.7 72.8 35.7 76.2 35.1 78.8 34.1 80.8 32.5 82.5 30.5 83.8 28.8 84.3Z"/>
<path d="M29.5 84.8 22.2 84.6 20.8 84.4 17.2 83.2 16.0 82.4 15.0 81.5 14.2 80.2 13.4 78.5 12.9 76.5 12.8 74.8 12.9 72.8 13.3 71.2 13.9 70.0 15.0 68.8 17.2 67.1 19.2 66.0 21.8 65.5 25.5 65.1 28.8 64.9 30.5 65.2 32.2 66.1 34.0 67.6 35.4 69.8 36.1 72.0 36.2 75.5 35.8 78.2 34.9 80.5 33.3 82.5 31.5 84.0 29.5 84.8Z"/>
<path d="M29.5 86.5 22.8 86.5 20.5 86.1 15.8 84.4 13.9 83.2 12.5 82.0 11.7 80.8 10.9 78.8 10.2 76.0 10.1 74.2 10.3 72.5 11.0 70.5 12.0 69.0 13.1 67.8 16.2 65.6 18.8 64.4 21.0 63.9 25.5 63.4 29.2 63.3 31.2 63.6 33.2 64.6 35.0 66.2 36.6 68.8 37.3 71.5 37.6 75.8 37.1 79.2 35.8 82.0 34.0 84.2 32.0 85.6 29.5 86.5Z"/>
<path d="M31.5 88.0 19.5 88.0 14.5 86.2 12.0 84.9 10.4 83.8 8.9 82.2 7.8 80.5 6.7 77.5 5.9 74.8 5.9 73.5 6.2 72.0 6.9 70.5 8.0 69.0 10.0 67.0 13.2 64.6 16.8 62.9 19.5 62.1 24.2 61.4 29.8 61.3 32.5 61.9 35.0 63.4 36.1 64.5 37.1 65.8 37.8 67.2 38.4 69.0 39.2 73.8 39.1 78.5 38.8 80.0 38.2 81.8 36.2 84.9 34.2 86.8 32.8 87.6 31.5 88.0Z"/>
</g></g>
<line x1="276.50" y1="302.70" x2="362.10" y2="302.70" stroke="#606060" stroke-width="1.1"/>
<line x1="361.60" y1="302.70" x2="361.60" y2="387.90" stroke="#9a9a9a" stroke-width="1.1"/>
<line x1="277.00" y1="302.70" x2="277.00" y2="387.90" stroke="#8a8a8a" stroke-width="0.9"/>
<line x1="277.00" y1="387.90" x2="361.60" y2="387.90" stroke="#8a8a8a" stroke-width="0.9"/>
<line x1="275.80" y1="324.25" x2="277.00" y2="324.25" stroke="#777" stroke-width="0.6"/>
<line x1="275.80" y1="320.89" x2="277.00" y2="320.89" stroke="#777" stroke-width="0.6"/>
<line x1="275.80" y1="318.50" x2="277.00" y2="318.50" stroke="#777" stroke-width="0.6"/>
<line x1="275.80" y1="316.65" x2="277.00" y2="316.65" stroke="#777" stroke-width="0.6"/>
<line x1="275.80" y1="315.14" x2="277.00" y2="315.14" stroke="#777" stroke-width="0.6"/>
<line x1="275.80" y1="313.86" x2="277.00" y2="313.86" stroke="#777" stroke-width="0.6"/>
<line x1="275.80" y1="312.75" x2="277.00" y2="312.75" stroke="#777" stroke-width="0.6"/>
<line x1="275.80" y1="311.77" x2="277.00" y2="311.77" stroke="#777" stroke-width="0.6"/>
<line x1="275.80" y1="343.63" x2="277.00" y2="343.63" stroke="#777" stroke-width="0.6"/>
<line x1="275.80" y1="340.20" x2="277.00" y2="340.20" stroke="#777" stroke-width="0.6"/>
<line x1="275.80" y1="337.76" x2="277.00" y2="337.76" stroke="#777" stroke-width="0.6"/>
<line x1="275.80" y1="335.87" x2="277.00" y2="335.87" stroke="#777" stroke-width="0.6"/>
<line x1="275.80" y1="334.33" x2="277.00" y2="334.33" stroke="#777" stroke-width="0.6"/>
<line x1="275.80" y1="333.02" x2="277.00" y2="333.02" stroke="#777" stroke-width="0.6"/>
<line x1="275.80" y1="331.89" x2="277.00" y2="331.89" stroke="#777" stroke-width="0.6"/>
<line x1="275.80" y1="330.89" x2="277.00" y2="330.89" stroke="#777" stroke-width="0.6"/>
<line x1="275.80" y1="363.27" x2="277.00" y2="363.27" stroke="#777" stroke-width="0.6"/>
<line x1="275.80" y1="359.80" x2="277.00" y2="359.80" stroke="#777" stroke-width="0.6"/>
<line x1="275.80" y1="357.34" x2="277.00" y2="357.34" stroke="#777" stroke-width="0.6"/>
<line x1="275.80" y1="355.43" x2="277.00" y2="355.43" stroke="#777" stroke-width="0.6"/>
<line x1="275.80" y1="353.87" x2="277.00" y2="353.87" stroke="#777" stroke-width="0.6"/>
<line x1="275.80" y1="352.55" x2="277.00" y2="352.55" stroke="#777" stroke-width="0.6"/>
<line x1="275.80" y1="351.41" x2="277.00" y2="351.41" stroke="#777" stroke-width="0.6"/>
<line x1="275.80" y1="350.40" x2="277.00" y2="350.40" stroke="#777" stroke-width="0.6"/>
<line x1="302.50" y1="387.90" x2="302.50" y2="389.10" stroke="#777" stroke-width="0.6"/>
<line x1="305.95" y1="387.90" x2="305.95" y2="389.10" stroke="#777" stroke-width="0.6"/>
<line x1="308.40" y1="387.90" x2="308.40" y2="389.10" stroke="#777" stroke-width="0.6"/>
<line x1="310.30" y1="387.90" x2="310.30" y2="389.10" stroke="#777" stroke-width="0.6"/>
<line x1="311.85" y1="387.90" x2="311.85" y2="389.10" stroke="#777" stroke-width="0.6"/>
<line x1="313.16" y1="387.90" x2="313.16" y2="389.10" stroke="#777" stroke-width="0.6"/>
<line x1="314.30" y1="387.90" x2="314.30" y2="389.10" stroke="#777" stroke-width="0.6"/>
<line x1="315.30" y1="387.90" x2="315.30" y2="389.10" stroke="#777" stroke-width="0.6"/>
<line x1="322.10" y1="387.90" x2="322.10" y2="389.10" stroke="#777" stroke-width="0.6"/>
<line x1="325.55" y1="387.90" x2="325.55" y2="389.10" stroke="#777" stroke-width="0.6"/>
<line x1="328.00" y1="387.90" x2="328.00" y2="389.10" stroke="#777" stroke-width="0.6"/>
<line x1="329.90" y1="387.90" x2="329.90" y2="389.10" stroke="#777" stroke-width="0.6"/>
<line x1="331.45" y1="387.90" x2="331.45" y2="389.10" stroke="#777" stroke-width="0.6"/>
<line x1="332.76" y1="387.90" x2="332.76" y2="389.10" stroke="#777" stroke-width="0.6"/>
<line x1="333.90" y1="387.90" x2="333.90" y2="389.10" stroke="#777" stroke-width="0.6"/>
<line x1="334.90" y1="387.90" x2="334.90" y2="389.10" stroke="#777" stroke-width="0.6"/>
<line x1="341.67" y1="387.90" x2="341.67" y2="389.10" stroke="#777" stroke-width="0.6"/>
<line x1="345.10" y1="387.90" x2="345.10" y2="389.10" stroke="#777" stroke-width="0.6"/>
<line x1="347.54" y1="387.90" x2="347.54" y2="389.10" stroke="#777" stroke-width="0.6"/>
<line x1="349.43" y1="387.90" x2="349.43" y2="389.10" stroke="#777" stroke-width="0.6"/>
<line x1="350.97" y1="387.90" x2="350.97" y2="389.10" stroke="#777" stroke-width="0.6"/>
<line x1="352.28" y1="387.90" x2="352.28" y2="389.10" stroke="#777" stroke-width="0.6"/>
<line x1="353.41" y1="387.90" x2="353.41" y2="389.10" stroke="#777" stroke-width="0.6"/>
<line x1="354.41" y1="387.90" x2="354.41" y2="389.10" stroke="#777" stroke-width="0.6"/>
<line x1="274.80" y1="310.90" x2="277.00" y2="310.90" stroke="#444" stroke-width="0.9"/>
<text x="259.80" y="313.40" font-size="7.2" fill="#333">10<tspan font-size="5" dy="-3.2">5</tspan></text>
<line x1="274.80" y1="330.00" x2="277.00" y2="330.00" stroke="#444" stroke-width="0.9"/>
<text x="259.80" y="332.50" font-size="7.2" fill="#333">10<tspan font-size="5" dy="-3.2">4</tspan></text>
<line x1="274.80" y1="349.50" x2="277.00" y2="349.50" stroke="#444" stroke-width="0.9"/>
<text x="259.80" y="352.00" font-size="7.2" fill="#333">10<tspan font-size="5" dy="-3.2">3</tspan></text>
<line x1="274.80" y1="369.20" x2="277.00" y2="369.20" stroke="#444" stroke-width="0.9"/>
<text x="259.80" y="371.70" font-size="7.2" fill="#333">10<tspan font-size="5" dy="-3.2">2</tspan></text>
<line x1="274.80" y1="378.90" x2="277.00" y2="378.90" stroke="#444" stroke-width="0.9"/>
<text x="269.50" y="381.40" font-size="7.2" text-anchor="middle" fill="#333" >0</text>
<line x1="285.70" y1="387.90" x2="285.70" y2="389.90" stroke="#444" stroke-width="0.9"/>
<text x="285.70" y="400.10" font-size="7.2" text-anchor="middle" fill="#333" >0</text>
<line x1="296.60" y1="387.90" x2="296.60" y2="389.90" stroke="#444" stroke-width="0.9"/>
<text x="291.30" y="400.10" font-size="7.2" fill="#333">10<tspan font-size="5" dy="-3.2">2</tspan></text>
<line x1="316.20" y1="387.90" x2="316.20" y2="389.90" stroke="#444" stroke-width="0.9"/>
<text x="310.90" y="400.10" font-size="7.2" fill="#333">10<tspan font-size="5" dy="-3.2">3</tspan></text>
<line x1="335.80" y1="387.90" x2="335.80" y2="389.90" stroke="#444" stroke-width="0.9"/>
<text x="330.50" y="400.10" font-size="7.2" fill="#333">10<tspan font-size="5" dy="-3.2">4</tspan></text>
<line x1="355.30" y1="387.90" x2="355.30" y2="389.90" stroke="#444" stroke-width="0.9"/>
<text x="350.00" y="400.10" font-size="7.2" fill="#333">10<tspan font-size="5" dy="-3.2">5</tspan></text>
<clipPath id="cp13"><rect x="389.7" y="302.7" width="84.6" height="85.2"/></clipPath>
<g clip-path="url(#cp13)"><g transform="translate(389.7 302.7)" fill="#000" fill-opacity="0.03" stroke="#000" stroke-width="0.65" stroke-opacity="0.95">
<path d="M11.8 66.8 10.8 66.9 9.8 66.8 9.1 66.2 8.8 65.8 8.7 64.8 8.8 64.0 9.3 63.2 10.0 62.7 11.0 62.5 12.0 62.7 13.0 63.2 13.6 64.0 13.6 64.8 13.4 65.8 12.8 66.4 11.8 66.8Z"/>
<path d="M12.2 67.0 11.0 67.2 10.0 67.2 9.2 66.9 8.6 66.2 8.4 65.2 8.5 64.0 9.0 63.0 9.6 62.5 10.8 62.1 12.0 62.3 13.5 63.0 14.1 63.8 14.3 64.5 14.0 65.8 13.3 66.5 12.2 67.0Z"/>
<path d="M11.5 67.5 10.2 67.6 9.2 67.2 8.5 66.8 8.0 65.8 8.0 64.5 8.3 63.2 9.2 62.3 10.2 61.8 11.5 61.8 13.2 62.3 14.4 63.0 15.1 64.0 15.0 65.2 14.4 66.2 13.2 67.0 11.5 67.5Z"/>
<path d="M12.2 67.8 10.8 67.9 9.3 67.8 8.4 67.2 7.8 66.5 7.5 65.2 7.7 63.8 8.3 62.5 9.3 61.8 11.0 61.4 13.1 61.8 15.0 62.6 16.1 63.8 16.3 65.0 15.7 66.0 14.0 67.2 12.2 67.8Z"/>
<path d="M11.5 68.3 9.8 68.3 8.5 67.9 7.5 67.0 7.1 66.0 7.1 64.2 7.6 62.8 8.5 61.7 10.0 61.1 12.2 61.1 15.0 61.9 16.5 62.9 17.3 64.2 17.3 65.5 16.5 66.5 13.8 67.8 11.5 68.3Z"/>
<path d="M12.8 68.5 10.5 68.7 8.8 68.5 7.7 68.0 6.9 67.0 6.5 65.5 6.6 63.8 7.4 62.2 8.5 61.2 9.5 60.8 10.8 60.6 14.0 61.0 16.4 62.0 17.8 63.5 18.1 64.2 18.2 65.2 18.0 66.0 17.5 66.7 15.5 67.8 12.8 68.5Z"/>
<path d="M12.5 69.0 9.8 69.1 8.2 68.8 7.0 68.1 6.2 67.0 5.9 65.2 6.3 63.2 7.1 61.8 8.5 60.7 9.8 60.3 11.0 60.2 15.0 60.8 17.0 61.8 17.8 62.5 18.5 63.5 18.8 64.5 18.9 65.5 18.5 66.5 18.0 67.2 17.1 67.8 15.7 68.2 12.5 69.0Z"/>
<path d="M11.5 69.5 9.2 69.5 8.0 69.3 6.9 68.8 6.0 67.8 5.4 66.2 5.3 64.8 5.7 63.2 6.4 61.8 7.1 61.0 8.0 60.4 9.2 60.0 10.5 59.8 15.0 60.4 16.2 60.8 17.5 61.5 18.7 62.8 19.3 64.0 19.4 65.8 18.9 67.0 18.0 67.9 16.2 68.7 13.8 69.3 11.5 69.5Z"/>
<path d="M14.0 69.8 10.0 70.0 8.2 69.9 6.8 69.3 5.6 68.2 4.8 66.5 4.8 64.2 5.6 62.0 6.9 60.5 8.2 59.8 9.8 59.5 14.0 59.8 15.8 60.1 17.0 60.6 18.0 61.2 19.0 62.2 19.8 63.5 20.0 64.8 19.9 66.0 19.4 67.2 18.8 68.0 17.8 68.7 14.0 69.8Z"/>
<path d="M14.2 70.3 8.0 70.4 6.3 69.8 5.0 68.5 4.4 67.5 4.1 66.5 4.2 64.2 5.0 62.0 6.4 60.2 7.8 59.5 9.5 59.1 11.2 59.1 14.2 59.4 16.0 59.7 17.2 60.2 18.5 61.0 19.5 62.0 20.2 63.2 20.5 64.5 20.4 66.2 19.9 67.5 19.0 68.5 18.0 69.2 16.2 69.8 14.2 70.3Z"/>
<path d="M14.5 70.8 7.8 70.9 6.1 70.2 4.6 69.0 3.9 68.0 3.5 67.0 3.4 66.0 3.5 64.5 3.9 63.0 4.4 61.8 5.8 60.0 7.2 59.2 9.0 58.8 11.0 58.7 14.5 59.0 16.2 59.3 17.8 59.9 19.0 60.8 20.0 61.8 20.7 63.0 21.1 64.5 21.0 66.2 20.4 67.8 19.6 68.8 18.5 69.5 16.5 70.3 14.5 70.8Z"/>
<path d="M14.8 71.3 7.5 71.4 5.5 70.6 3.8 69.0 3.2 68.0 2.8 67.0 2.7 65.8 2.9 64.2 3.7 61.8 4.3 60.8 5.3 59.8 6.8 58.9 8.8 58.4 11.0 58.3 14.8 58.6 16.5 58.9 18.0 59.5 19.2 60.3 20.4 61.5 21.3 63.0 21.6 64.5 21.4 66.5 20.9 68.0 20.0 69.2 18.8 70.1 16.8 70.8 14.8 71.3Z"/>
<path d="M15.0 71.8 8.8 72.0 7.2 71.9 5.2 71.0 3.2 69.2 2.5 68.2 2.1 67.0 2.2 64.2 2.5 62.8 3.0 61.5 3.7 60.5 4.7 59.5 6.2 58.6 8.2 58.0 10.5 57.9 14.5 58.2 16.5 58.5 18.0 59.0 19.5 59.9 20.7 61.0 21.7 62.5 22.1 64.2 22.0 66.2 21.4 68.2 20.5 69.5 19.2 70.5 17.5 71.2 15.0 71.8Z"/>
<path d="M9.5 72.5 7.2 72.4 5.5 71.8 3.3 70.2 1.9 68.5 1.3 66.8 1.5 64.2 2.0 62.0 3.1 60.2 4.2 59.1 5.8 58.2 7.5 57.7 9.5 57.5 14.0 57.7 16.5 58.0 18.5 58.7 20.2 59.8 22.0 61.8 22.4 62.8 22.7 64.0 22.7 65.8 22.4 67.2 21.9 68.5 21.1 69.8 20.2 70.6 19.2 71.2 16.5 72.1 14.2 72.4 9.5 72.5Z"/>
<path d="M14.0 73.0 8.5 73.1 6.5 72.8 5.0 72.1 3.8 71.3 2.2 70.1 1.4 69.0 0.8 68.0 0.6 66.8 0.9 63.0 1.3 61.8 2.0 60.5 4.0 58.6 6.0 57.6 8.2 57.2 11.0 57.1 16.0 57.4 17.8 57.8 19.5 58.6 21.1 59.8 22.4 61.2 23.2 63.0 23.3 65.2 22.8 67.8 21.9 69.8 20.8 71.0 19.2 71.9 16.8 72.7 14.0 73.0Z"/>
<path d="M15.2 73.5 8.8 73.7 6.8 73.4 4.0 72.2 1.2 70.0 0.4 68.8 -0.1 67.5 -0.2 66.2 -0.1 64.5 0.2 63.0 0.7 61.5 1.4 60.2 2.6 59.0 4.8 57.6 7.0 56.9 9.8 56.7 14.5 56.8 17.0 57.2 19.0 57.8 20.8 58.8 22.4 60.2 23.5 62.0 24.0 64.0 23.8 66.8 22.8 69.5 21.5 71.2 20.0 72.3 18.2 72.9 15.2 73.5Z"/>
<path d="M11.0 76.0 8.2 75.9 5.5 74.9 1.8 72.7 0.5 71.7 -0.6 70.5 -1.9 68.2 -2.3 66.0 -2.1 63.2 -1.1 60.8 0.2 58.9 2.0 57.4 4.2 56.2 6.8 55.5 10.0 55.3 16.0 55.6 18.8 56.2 21.2 57.2 22.8 58.2 24.3 59.8 25.4 61.2 25.8 62.5 26.0 64.2 25.9 66.5 25.3 68.2 24.3 70.5 23.5 71.8 22.5 72.8 21.2 73.7 19.8 74.5 16.2 75.4 11.0 76.0Z"/>
<path d="M11.5 80.3 8.8 80.1 7.2 79.6 5.8 78.9 -0.8 73.6 -2.6 71.5 -3.0 71.0 -3.1 68.8 -3.0 59.6 -1.2 57.5 0.8 55.9 3.2 54.7 6.2 53.9 9.8 53.6 15.5 53.8 18.8 54.4 22.0 55.4 23.8 56.3 25.5 57.8 26.8 59.2 27.6 60.8 28.2 62.8 28.3 65.5 28.1 67.2 27.4 69.2 26.4 71.5 25.2 73.2 23.8 74.8 21.8 76.4 18.5 78.4 16.5 79.4 14.8 79.9 11.5 80.3Z"/>
<line x1="0.9" y1="54" x2="0.9" y2="85" stroke-width="1.0"/>
</g></g>
<line x1="389.20" y1="302.70" x2="474.80" y2="302.70" stroke="#606060" stroke-width="1.1"/>
<line x1="474.30" y1="302.70" x2="474.30" y2="387.90" stroke="#9a9a9a" stroke-width="1.1"/>
<line x1="389.70" y1="302.70" x2="389.70" y2="387.90" stroke="#8a8a8a" stroke-width="0.9"/>
<line x1="389.70" y1="387.90" x2="474.30" y2="387.90" stroke="#8a8a8a" stroke-width="0.9"/>
<line x1="388.50" y1="324.25" x2="389.70" y2="324.25" stroke="#777" stroke-width="0.6"/>
<line x1="388.50" y1="320.89" x2="389.70" y2="320.89" stroke="#777" stroke-width="0.6"/>
<line x1="388.50" y1="318.50" x2="389.70" y2="318.50" stroke="#777" stroke-width="0.6"/>
<line x1="388.50" y1="316.65" x2="389.70" y2="316.65" stroke="#777" stroke-width="0.6"/>
<line x1="388.50" y1="315.14" x2="389.70" y2="315.14" stroke="#777" stroke-width="0.6"/>
<line x1="388.50" y1="313.86" x2="389.70" y2="313.86" stroke="#777" stroke-width="0.6"/>
<line x1="388.50" y1="312.75" x2="389.70" y2="312.75" stroke="#777" stroke-width="0.6"/>
<line x1="388.50" y1="311.77" x2="389.70" y2="311.77" stroke="#777" stroke-width="0.6"/>
<line x1="388.50" y1="343.63" x2="389.70" y2="343.63" stroke="#777" stroke-width="0.6"/>
<line x1="388.50" y1="340.20" x2="389.70" y2="340.20" stroke="#777" stroke-width="0.6"/>
<line x1="388.50" y1="337.76" x2="389.70" y2="337.76" stroke="#777" stroke-width="0.6"/>
<line x1="388.50" y1="335.87" x2="389.70" y2="335.87" stroke="#777" stroke-width="0.6"/>
<line x1="388.50" y1="334.33" x2="389.70" y2="334.33" stroke="#777" stroke-width="0.6"/>
<line x1="388.50" y1="333.02" x2="389.70" y2="333.02" stroke="#777" stroke-width="0.6"/>
<line x1="388.50" y1="331.89" x2="389.70" y2="331.89" stroke="#777" stroke-width="0.6"/>
<line x1="388.50" y1="330.89" x2="389.70" y2="330.89" stroke="#777" stroke-width="0.6"/>
<line x1="388.50" y1="363.27" x2="389.70" y2="363.27" stroke="#777" stroke-width="0.6"/>
<line x1="388.50" y1="359.80" x2="389.70" y2="359.80" stroke="#777" stroke-width="0.6"/>
<line x1="388.50" y1="357.34" x2="389.70" y2="357.34" stroke="#777" stroke-width="0.6"/>
<line x1="388.50" y1="355.43" x2="389.70" y2="355.43" stroke="#777" stroke-width="0.6"/>
<line x1="388.50" y1="353.87" x2="389.70" y2="353.87" stroke="#777" stroke-width="0.6"/>
<line x1="388.50" y1="352.55" x2="389.70" y2="352.55" stroke="#777" stroke-width="0.6"/>
<line x1="388.50" y1="351.41" x2="389.70" y2="351.41" stroke="#777" stroke-width="0.6"/>
<line x1="388.50" y1="350.40" x2="389.70" y2="350.40" stroke="#777" stroke-width="0.6"/>
<line x1="415.20" y1="387.90" x2="415.20" y2="389.10" stroke="#777" stroke-width="0.6"/>
<line x1="418.65" y1="387.90" x2="418.65" y2="389.10" stroke="#777" stroke-width="0.6"/>
<line x1="421.10" y1="387.90" x2="421.10" y2="389.10" stroke="#777" stroke-width="0.6"/>
<line x1="423.00" y1="387.90" x2="423.00" y2="389.10" stroke="#777" stroke-width="0.6"/>
<line x1="424.55" y1="387.90" x2="424.55" y2="389.10" stroke="#777" stroke-width="0.6"/>
<line x1="425.86" y1="387.90" x2="425.86" y2="389.10" stroke="#777" stroke-width="0.6"/>
<line x1="427.00" y1="387.90" x2="427.00" y2="389.10" stroke="#777" stroke-width="0.6"/>
<line x1="428.00" y1="387.90" x2="428.00" y2="389.10" stroke="#777" stroke-width="0.6"/>
<line x1="434.80" y1="387.90" x2="434.80" y2="389.10" stroke="#777" stroke-width="0.6"/>
<line x1="438.25" y1="387.90" x2="438.25" y2="389.10" stroke="#777" stroke-width="0.6"/>
<line x1="440.70" y1="387.90" x2="440.70" y2="389.10" stroke="#777" stroke-width="0.6"/>
<line x1="442.60" y1="387.90" x2="442.60" y2="389.10" stroke="#777" stroke-width="0.6"/>
<line x1="444.15" y1="387.90" x2="444.15" y2="389.10" stroke="#777" stroke-width="0.6"/>
<line x1="445.46" y1="387.90" x2="445.46" y2="389.10" stroke="#777" stroke-width="0.6"/>
<line x1="446.60" y1="387.90" x2="446.60" y2="389.10" stroke="#777" stroke-width="0.6"/>
<line x1="447.60" y1="387.90" x2="447.60" y2="389.10" stroke="#777" stroke-width="0.6"/>
<line x1="454.37" y1="387.90" x2="454.37" y2="389.10" stroke="#777" stroke-width="0.6"/>
<line x1="457.80" y1="387.90" x2="457.80" y2="389.10" stroke="#777" stroke-width="0.6"/>
<line x1="460.24" y1="387.90" x2="460.24" y2="389.10" stroke="#777" stroke-width="0.6"/>
<line x1="462.13" y1="387.90" x2="462.13" y2="389.10" stroke="#777" stroke-width="0.6"/>
<line x1="463.67" y1="387.90" x2="463.67" y2="389.10" stroke="#777" stroke-width="0.6"/>
<line x1="464.98" y1="387.90" x2="464.98" y2="389.10" stroke="#777" stroke-width="0.6"/>
<line x1="466.11" y1="387.90" x2="466.11" y2="389.10" stroke="#777" stroke-width="0.6"/>
<line x1="467.11" y1="387.90" x2="467.11" y2="389.10" stroke="#777" stroke-width="0.6"/>
<line x1="387.50" y1="310.90" x2="389.70" y2="310.90" stroke="#444" stroke-width="0.9"/>
<text x="372.50" y="313.40" font-size="7.2" fill="#333">10<tspan font-size="5" dy="-3.2">5</tspan></text>
<line x1="387.50" y1="330.00" x2="389.70" y2="330.00" stroke="#444" stroke-width="0.9"/>
<text x="372.50" y="332.50" font-size="7.2" fill="#333">10<tspan font-size="5" dy="-3.2">4</tspan></text>
<line x1="387.50" y1="349.50" x2="389.70" y2="349.50" stroke="#444" stroke-width="0.9"/>
<text x="372.50" y="352.00" font-size="7.2" fill="#333">10<tspan font-size="5" dy="-3.2">3</tspan></text>
<line x1="387.50" y1="369.20" x2="389.70" y2="369.20" stroke="#444" stroke-width="0.9"/>
<text x="372.50" y="371.70" font-size="7.2" fill="#333">10<tspan font-size="5" dy="-3.2">2</tspan></text>
<line x1="387.50" y1="378.90" x2="389.70" y2="378.90" stroke="#444" stroke-width="0.9"/>
<text x="382.20" y="381.40" font-size="7.2" text-anchor="middle" fill="#333" >0</text>
<line x1="398.40" y1="387.90" x2="398.40" y2="389.90" stroke="#444" stroke-width="0.9"/>
<text x="398.40" y="400.10" font-size="7.2" text-anchor="middle" fill="#333" >0</text>
<line x1="409.30" y1="387.90" x2="409.30" y2="389.90" stroke="#444" stroke-width="0.9"/>
<text x="404.00" y="400.10" font-size="7.2" fill="#333">10<tspan font-size="5" dy="-3.2">2</tspan></text>
<line x1="428.90" y1="387.90" x2="428.90" y2="389.90" stroke="#444" stroke-width="0.9"/>
<text x="423.60" y="400.10" font-size="7.2" fill="#333">10<tspan font-size="5" dy="-3.2">3</tspan></text>
<line x1="448.50" y1="387.90" x2="448.50" y2="389.90" stroke="#444" stroke-width="0.9"/>
<text x="443.20" y="400.10" font-size="7.2" fill="#333">10<tspan font-size="5" dy="-3.2">4</tspan></text>
<line x1="468.00" y1="387.90" x2="468.00" y2="389.90" stroke="#444" stroke-width="0.9"/>
<text x="462.70" y="400.10" font-size="7.2" fill="#333">10<tspan font-size="5" dy="-3.2">5</tspan></text>
<clipPath id="cp20"><rect x="50.5" y="409.0" width="84.6" height="85.2"/></clipPath>
<g clip-path="url(#cp20)"><g transform="translate(50.5 409.0)" fill="#000" fill-opacity="0.03" stroke="#000" stroke-width="0.65" stroke-opacity="0.95">
<path d="M55.2 47.8 54.5 47.9 53.6 47.5 53.0 46.8 52.7 45.8 53.4 39.2 53.8 38.4 54.2 38.0 55.0 38.2 55.8 39.1 56.5 40.8 56.8 42.2 56.9 44.8 56.7 46.0 56.2 47.1 55.2 47.8Z"/>
<path d="M55.5 48.3 54.5 48.5 53.5 48.1 52.7 47.2 52.3 46.0 52.6 42.0 52.6 38.2 53.0 37.2 53.8 36.7 54.8 36.9 55.8 37.8 56.8 39.7 57.3 41.8 57.4 44.5 57.2 46.2 56.6 47.5 55.5 48.3Z"/>
<path d="M55.2 49.0 54.2 49.1 53.1 48.5 52.2 47.5 51.8 46.2 52.0 41.8 51.4 37.0 51.9 35.8 52.8 35.3 53.5 35.3 54.5 35.6 56.0 36.8 57.0 38.6 57.9 41.5 58.1 44.2 57.8 46.5 57.3 47.5 56.8 48.2 55.2 49.0Z"/>
<path d="M55.2 49.8 54.0 49.8 52.8 49.1 51.8 48.0 51.3 46.8 51.1 45.5 51.2 41.5 50.0 37.2 49.9 36.0 50.0 35.2 50.5 34.3 51.0 33.7 51.8 33.2 52.5 33.2 53.2 33.6 55.2 35.0 56.2 35.9 57.3 37.8 58.5 41.2 58.7 44.5 58.3 47.0 57.8 48.0 57.0 48.8 56.2 49.4 55.2 49.8Z"/>
<path d="M55.8 50.5 54.2 50.7 52.8 50.1 51.4 48.8 50.7 47.0 50.4 41.8 50.0 40.1 48.8 37.0 48.6 35.8 48.8 34.8 49.5 33.5 50.5 32.3 51.5 31.7 52.2 31.7 53.2 32.2 56.8 35.4 57.8 37.2 59.2 41.2 59.4 44.5 59.0 47.2 58.5 48.2 57.8 49.1 56.8 50.0 55.8 50.5Z"/>
<path d="M56.0 51.6 54.5 51.7 53.0 51.2 51.7 50.2 50.5 48.8 49.9 46.8 49.8 43.0 49.6 41.5 47.3 36.0 47.2 35.0 47.6 34.0 50.0 31.2 51.2 30.5 52.2 30.6 53.5 31.2 57.2 34.8 58.4 36.8 59.8 41.2 60.1 45.0 60.0 46.5 59.7 47.8 59.2 48.8 58.0 50.2 57.0 51.1 56.0 51.6Z"/>
<path d="M56.8 52.8 55.0 52.9 53.0 52.3 51.5 51.3 50.2 49.8 49.7 48.8 49.4 47.5 49.0 43.0 48.5 40.8 47.0 37.9 44.5 34.5 44.2 33.8 44.2 33.2 44.6 32.8 47.2 32.0 49.5 30.0 50.8 29.4 52.0 29.4 53.5 30.1 55.0 31.3 57.6 34.0 59.0 36.2 60.3 40.5 60.6 42.2 60.7 44.5 60.7 46.5 60.5 48.0 59.8 49.5 58.2 51.6 57.5 52.3 56.8 52.8Z"/>
<path d="M56.8 54.3 55.0 54.1 52.8 53.3 51.2 52.2 50.0 50.8 49.2 49.5 48.8 48.2 48.3 43.0 47.4 40.2 45.8 37.8 42.7 35.2 41.1 33.5 40.2 32.0 40.5 31.4 43.5 30.2 47.0 29.5 49.8 28.3 51.5 28.2 53.0 28.8 54.5 29.8 57.2 32.5 58.9 34.5 59.9 36.5 61.1 41.2 61.4 44.5 61.4 47.5 60.8 49.5 58.8 52.9 57.8 53.9 56.8 54.3Z"/>
<path d="M57.2 55.6 55.5 55.6 53.0 54.6 51.2 53.5 49.8 51.8 48.7 50.2 48.1 48.8 47.5 43.0 46.5 40.2 45.8 39.1 44.8 38.2 38.5 34.0 37.3 33.0 36.7 32.0 36.5 30.8 36.7 29.8 37.2 29.2 38.2 28.8 42.2 28.5 49.2 27.1 51.5 27.1 53.0 27.7 54.8 28.9 57.2 31.2 59.3 33.8 60.4 35.8 61.6 40.8 62.0 45.0 62.1 47.8 61.5 49.8 59.4 53.8 58.5 54.9 57.2 55.6Z"/>
<path d="M56.8 57.0 55.0 56.9 52.8 55.9 50.8 54.4 49.2 52.6 48.1 50.8 47.4 49.0 46.7 43.0 46.3 41.5 45.6 40.2 44.8 39.3 43.8 38.5 37.2 34.8 36.2 33.8 35.5 32.8 34.9 31.2 34.8 30.0 35.2 28.8 36.0 27.9 36.8 27.5 37.8 27.3 42.2 27.1 49.2 26.0 51.8 26.2 53.5 26.9 55.2 28.1 57.8 30.6 60.1 33.5 61.2 35.8 62.2 40.8 62.8 46.0 62.7 48.2 62.1 50.2 59.7 55.0 58.2 56.5 56.8 57.0Z"/>
<path d="M56.5 58.5 54.8 58.5 52.8 57.6 50.5 55.8 48.7 53.5 47.3 51.2 46.5 49.5 46.2 48.0 45.9 43.0 45.4 41.5 44.6 40.2 42.5 38.8 36.5 35.6 35.5 34.8 34.7 33.8 33.4 31.2 33.1 29.8 33.6 28.2 35.0 26.8 36.0 26.3 37.2 26.1 42.0 26.0 49.5 25.1 52.2 25.4 54.2 26.1 56.0 27.4 58.2 29.9 60.9 33.2 61.9 35.5 62.8 40.8 63.4 46.2 63.3 48.5 62.6 50.8 60.0 56.1 58.5 57.6 57.5 58.2 56.5 58.5Z"/>
<path d="M56.0 60.3 54.2 60.1 52.2 59.1 49.6 56.8 47.9 54.5 45.8 51.0 45.2 49.5 45.0 48.0 45.0 43.3 44.7 42.0 44.0 40.9 42.2 39.5 35.6 36.2 34.2 35.0 32.8 33.2 31.5 31.0 31.0 29.2 31.1 28.5 31.5 27.8 32.9 26.5 34.8 25.4 36.5 25.0 42.5 25.0 50.0 24.3 52.5 24.5 54.5 25.1 56.5 26.5 58.2 28.2 61.1 32.2 62.2 34.2 62.8 36.2 64.1 46.0 64.0 48.8 63.4 50.5 61.5 55.0 60.2 57.2 58.2 59.3 57.2 59.9 56.0 60.3Z"/>
<path d="M56.2 61.8 54.2 61.9 53.2 61.6 52.2 61.0 47.2 56.8 43.8 52.9 43.0 51.4 42.6 49.2 42.8 48.0 43.6 45.8 43.9 44.5 43.9 43.2 43.5 42.0 42.8 41.0 41.7 40.2 36.2 37.7 34.8 36.8 33.2 35.5 31.3 33.5 29.6 31.2 28.8 29.2 28.9 27.2 29.2 26.5 29.8 26.0 33.8 24.4 36.0 23.9 44.0 24.0 51.8 23.5 54.0 23.9 55.8 24.7 57.5 26.0 58.9 27.8 62.1 32.5 63.1 34.8 64.1 41.0 64.7 45.8 64.7 47.8 64.1 50.5 61.1 57.5 60.0 59.1 58.8 60.4 57.5 61.3 56.2 61.8Z"/>
<path d="M54.8 64.3 53.8 64.5 52.8 64.3 49.0 61.2 44.8 59.6 43.8 58.6 41.0 55.2 40.3 53.5 39.3 47.8 39.6 46.2 41.1 43.8 41.3 43.0 41.1 42.5 40.0 41.2 35.2 38.7 32.5 36.8 29.6 34.2 27.4 31.8 26.4 29.8 25.9 27.0 26.0 26.0 26.3 25.2 27.5 24.0 28.5 23.5 29.8 23.1 35.5 22.4 39.8 22.4 45.0 22.7 50.8 22.2 53.0 22.2 55.0 22.7 56.8 23.6 58.5 25.1 60.1 27.2 63.1 32.0 64.1 34.8 65.6 45.5 65.6 48.5 65.2 50.2 62.9 56.8 61.2 60.0 60.0 61.5 58.8 62.5 57.2 63.3 54.8 64.3Z"/>
<path d="M52.8 68.6 52.2 68.5 51.8 68.0 50.1 65.0 49.1 63.8 48.0 63.0 45.0 62.2 43.8 61.5 42.4 60.2 40.0 57.2 39.0 55.8 38.4 54.2 37.0 48.5 36.9 46.2 37.5 43.5 37.2 42.2 35.8 40.8 28.3 35.0 26.3 33.0 25.0 31.2 23.8 28.0 23.6 25.8 23.9 24.8 24.7 23.8 26.8 22.2 28.8 21.3 31.0 21.0 40.0 21.0 45.0 21.6 51.2 20.9 54.5 21.1 56.8 22.0 58.8 23.6 61.1 26.5 63.4 30.2 64.9 34.0 65.9 39.0 66.7 46.5 66.6 48.2 66.2 50.2 63.7 58.2 63.0 59.8 62.0 61.2 60.0 63.4 56.1 65.8 53.5 68.1 52.8 68.6Z"/>
<path d="M0.8 33.8 0.2 33.2 -0.1 32.2 0.2 31.0 0.8 30.5 1.2 30.7 1.5 31.0 1.7 32.2 1.5 33.2 1.2 33.6 0.8 33.8Z"/>
<path d="M53.0 77.6 52.5 77.6 52.0 77.1 50.6 74.5 50.2 73.0 49.7 68.5 49.2 66.8 48.5 65.5 47.5 64.7 44.5 63.7 42.8 62.6 39.5 59.0 37.9 56.5 36.6 53.2 35.6 49.5 35.1 46.5 35.3 43.2 34.8 41.8 32.8 39.8 28.0 36.1 25.7 34.0 24.2 32.2 23.2 30.5 21.8 27.0 21.7 26.0 21.8 25.0 22.4 23.8 23.2 22.8 24.5 21.8 26.0 20.9 28.2 20.1 31.0 19.8 40.5 20.0 45.0 20.6 51.5 19.9 54.8 20.1 57.2 21.1 59.3 22.8 62.2 26.5 64.4 30.2 65.9 34.5 66.7 38.5 67.4 46.0 67.4 48.0 67.0 50.0 65.1 57.5 64.1 60.0 63.1 61.8 61.5 63.6 60.0 64.8 57.3 66.5 56.0 67.9 55.3 69.8 54.5 74.5 53.8 76.4 53.0 77.6Z"/>
<path d="M1.2 34.3 0.8 34.4 0.2 34.2 -0.2 33.5 -0.4 32.5 -0.2 30.8 0.2 30.0 0.8 29.8 1.2 29.9 1.6 30.2 2.1 31.8 1.9 33.2 1.2 34.3Z"/>
<path d="M52.5 84.5 52.0 84.4 51.2 83.6 50.1 81.0 49.0 75.0 48.5 69.8 47.8 67.5 46.8 66.5 43.8 65.2 41.8 63.6 38.1 59.2 36.4 56.2 34.9 52.5 34.2 50.0 33.7 46.8 33.6 43.2 33.1 41.8 31.3 39.8 26.5 36.1 24.1 34.0 22.4 31.8 20.3 28.0 19.9 26.8 19.8 25.8 20.0 24.5 20.6 23.2 21.3 22.2 22.2 21.3 24.8 19.8 27.8 18.9 31.0 18.6 40.5 19.1 45.0 19.7 46.8 19.6 51.5 18.8 55.0 19.1 57.5 20.1 60.0 22.1 63.3 26.5 65.3 30.0 67.3 36.5 67.9 40.5 68.2 44.5 68.2 47.0 68.0 49.2 66.6 55.5 65.4 59.8 63.9 62.5 61.8 64.9 58.2 67.5 57.0 69.0 56.5 70.8 55.4 79.2 55.0 81.2 54.0 83.4 53.2 84.2 52.5 84.5Z"/>
<path d="M1.2 34.8 0.5 34.9 0.0 34.5 -0.4 33.8 -0.7 32.8 -0.7 31.5 -0.3 30.2 0.2 29.5 0.8 29.2 1.2 29.3 1.9 30.0 2.4 31.8 2.1 33.8 1.2 34.8Z"/>
<line x1="40" y1="84" x2="57" y2="84" stroke-width="1.5"/>
</g></g>
<line x1="50.00" y1="409.00" x2="135.60" y2="409.00" stroke="#606060" stroke-width="1.1"/>
<line x1="135.10" y1="409.00" x2="135.10" y2="494.20" stroke="#9a9a9a" stroke-width="1.1"/>
<line x1="50.50" y1="409.00" x2="50.50" y2="494.20" stroke="#8a8a8a" stroke-width="0.9"/>
<line x1="50.50" y1="494.20" x2="135.10" y2="494.20" stroke="#8a8a8a" stroke-width="0.9"/>
<line x1="49.30" y1="430.55" x2="50.50" y2="430.55" stroke="#777" stroke-width="0.6"/>
<line x1="49.30" y1="427.19" x2="50.50" y2="427.19" stroke="#777" stroke-width="0.6"/>
<line x1="49.30" y1="424.80" x2="50.50" y2="424.80" stroke="#777" stroke-width="0.6"/>
<line x1="49.30" y1="422.95" x2="50.50" y2="422.95" stroke="#777" stroke-width="0.6"/>
<line x1="49.30" y1="421.44" x2="50.50" y2="421.44" stroke="#777" stroke-width="0.6"/>
<line x1="49.30" y1="420.16" x2="50.50" y2="420.16" stroke="#777" stroke-width="0.6"/>
<line x1="49.30" y1="419.05" x2="50.50" y2="419.05" stroke="#777" stroke-width="0.6"/>
<line x1="49.30" y1="418.07" x2="50.50" y2="418.07" stroke="#777" stroke-width="0.6"/>
<line x1="49.30" y1="449.93" x2="50.50" y2="449.93" stroke="#777" stroke-width="0.6"/>
<line x1="49.30" y1="446.50" x2="50.50" y2="446.50" stroke="#777" stroke-width="0.6"/>
<line x1="49.30" y1="444.06" x2="50.50" y2="444.06" stroke="#777" stroke-width="0.6"/>
<line x1="49.30" y1="442.17" x2="50.50" y2="442.17" stroke="#777" stroke-width="0.6"/>
<line x1="49.30" y1="440.63" x2="50.50" y2="440.63" stroke="#777" stroke-width="0.6"/>
<line x1="49.30" y1="439.32" x2="50.50" y2="439.32" stroke="#777" stroke-width="0.6"/>
<line x1="49.30" y1="438.19" x2="50.50" y2="438.19" stroke="#777" stroke-width="0.6"/>
<line x1="49.30" y1="437.19" x2="50.50" y2="437.19" stroke="#777" stroke-width="0.6"/>
<line x1="49.30" y1="469.57" x2="50.50" y2="469.57" stroke="#777" stroke-width="0.6"/>
<line x1="49.30" y1="466.10" x2="50.50" y2="466.10" stroke="#777" stroke-width="0.6"/>
<line x1="49.30" y1="463.64" x2="50.50" y2="463.64" stroke="#777" stroke-width="0.6"/>
<line x1="49.30" y1="461.73" x2="50.50" y2="461.73" stroke="#777" stroke-width="0.6"/>
<line x1="49.30" y1="460.17" x2="50.50" y2="460.17" stroke="#777" stroke-width="0.6"/>
<line x1="49.30" y1="458.85" x2="50.50" y2="458.85" stroke="#777" stroke-width="0.6"/>
<line x1="49.30" y1="457.71" x2="50.50" y2="457.71" stroke="#777" stroke-width="0.6"/>
<line x1="49.30" y1="456.70" x2="50.50" y2="456.70" stroke="#777" stroke-width="0.6"/>
<line x1="76.00" y1="494.20" x2="76.00" y2="495.40" stroke="#777" stroke-width="0.6"/>
<line x1="79.45" y1="494.20" x2="79.45" y2="495.40" stroke="#777" stroke-width="0.6"/>
<line x1="81.90" y1="494.20" x2="81.90" y2="495.40" stroke="#777" stroke-width="0.6"/>
<line x1="83.80" y1="494.20" x2="83.80" y2="495.40" stroke="#777" stroke-width="0.6"/>
<line x1="85.35" y1="494.20" x2="85.35" y2="495.40" stroke="#777" stroke-width="0.6"/>
<line x1="86.66" y1="494.20" x2="86.66" y2="495.40" stroke="#777" stroke-width="0.6"/>
<line x1="87.80" y1="494.20" x2="87.80" y2="495.40" stroke="#777" stroke-width="0.6"/>
<line x1="88.80" y1="494.20" x2="88.80" y2="495.40" stroke="#777" stroke-width="0.6"/>
<line x1="95.60" y1="494.20" x2="95.60" y2="495.40" stroke="#777" stroke-width="0.6"/>
<line x1="99.05" y1="494.20" x2="99.05" y2="495.40" stroke="#777" stroke-width="0.6"/>
<line x1="101.50" y1="494.20" x2="101.50" y2="495.40" stroke="#777" stroke-width="0.6"/>
<line x1="103.40" y1="494.20" x2="103.40" y2="495.40" stroke="#777" stroke-width="0.6"/>
<line x1="104.95" y1="494.20" x2="104.95" y2="495.40" stroke="#777" stroke-width="0.6"/>
<line x1="106.26" y1="494.20" x2="106.26" y2="495.40" stroke="#777" stroke-width="0.6"/>
<line x1="107.40" y1="494.20" x2="107.40" y2="495.40" stroke="#777" stroke-width="0.6"/>
<line x1="108.40" y1="494.20" x2="108.40" y2="495.40" stroke="#777" stroke-width="0.6"/>
<line x1="115.17" y1="494.20" x2="115.17" y2="495.40" stroke="#777" stroke-width="0.6"/>
<line x1="118.60" y1="494.20" x2="118.60" y2="495.40" stroke="#777" stroke-width="0.6"/>
<line x1="121.04" y1="494.20" x2="121.04" y2="495.40" stroke="#777" stroke-width="0.6"/>
<line x1="122.93" y1="494.20" x2="122.93" y2="495.40" stroke="#777" stroke-width="0.6"/>
<line x1="124.47" y1="494.20" x2="124.47" y2="495.40" stroke="#777" stroke-width="0.6"/>
<line x1="125.78" y1="494.20" x2="125.78" y2="495.40" stroke="#777" stroke-width="0.6"/>
<line x1="126.91" y1="494.20" x2="126.91" y2="495.40" stroke="#777" stroke-width="0.6"/>
<line x1="127.91" y1="494.20" x2="127.91" y2="495.40" stroke="#777" stroke-width="0.6"/>
<line x1="48.30" y1="417.20" x2="50.50" y2="417.20" stroke="#444" stroke-width="0.9"/>
<text x="33.30" y="419.70" font-size="7.2" fill="#333">10<tspan font-size="5" dy="-3.2">5</tspan></text>
<line x1="48.30" y1="436.30" x2="50.50" y2="436.30" stroke="#444" stroke-width="0.9"/>
<text x="33.30" y="438.80" font-size="7.2" fill="#333">10<tspan font-size="5" dy="-3.2">4</tspan></text>
<line x1="48.30" y1="455.80" x2="50.50" y2="455.80" stroke="#444" stroke-width="0.9"/>
<text x="33.30" y="458.30" font-size="7.2" fill="#333">10<tspan font-size="5" dy="-3.2">3</tspan></text>
<line x1="48.30" y1="475.50" x2="50.50" y2="475.50" stroke="#444" stroke-width="0.9"/>
<text x="33.30" y="478.00" font-size="7.2" fill="#333">10<tspan font-size="5" dy="-3.2">2</tspan></text>
<line x1="48.30" y1="485.20" x2="50.50" y2="485.20" stroke="#444" stroke-width="0.9"/>
<text x="43.00" y="487.70" font-size="7.2" text-anchor="middle" fill="#333" >0</text>
<line x1="59.20" y1="494.20" x2="59.20" y2="496.20" stroke="#444" stroke-width="0.9"/>
<text x="59.20" y="506.40" font-size="7.2" text-anchor="middle" fill="#333" >0</text>
<line x1="70.10" y1="494.20" x2="70.10" y2="496.20" stroke="#444" stroke-width="0.9"/>
<text x="64.80" y="506.40" font-size="7.2" fill="#333">10<tspan font-size="5" dy="-3.2">2</tspan></text>
<line x1="89.70" y1="494.20" x2="89.70" y2="496.20" stroke="#444" stroke-width="0.9"/>
<text x="84.40" y="506.40" font-size="7.2" fill="#333">10<tspan font-size="5" dy="-3.2">3</tspan></text>
<line x1="109.30" y1="494.20" x2="109.30" y2="496.20" stroke="#444" stroke-width="0.9"/>
<text x="104.00" y="506.40" font-size="7.2" fill="#333">10<tspan font-size="5" dy="-3.2">4</tspan></text>
<line x1="128.80" y1="494.20" x2="128.80" y2="496.20" stroke="#444" stroke-width="0.9"/>
<text x="123.50" y="506.40" font-size="7.2" fill="#333">10<tspan font-size="5" dy="-3.2">5</tspan></text>
<clipPath id="cp21"><rect x="164.2" y="409.0" width="84.6" height="85.2"/></clipPath>
<g clip-path="url(#cp21)"><g transform="translate(164.2 409.0)" fill="#000" fill-opacity="0.03" stroke="#000" stroke-width="0.65" stroke-opacity="0.95">
<path d="M13.8 73.8 11.8 73.9 10.8 73.5 10.1 72.8 9.7 72.0 9.6 71.2 9.9 70.8 10.8 70.2 12.2 70.1 13.5 70.2 14.5 70.8 14.9 71.5 14.9 72.2 14.5 73.3 13.8 73.8Z"/>
<path d="M14.0 74.3 11.5 74.3 10.2 73.8 9.6 73.0 9.2 72.0 9.1 71.2 9.3 70.8 10.2 70.1 11.8 69.7 13.5 69.9 14.8 70.4 15.4 71.2 15.4 72.5 14.9 73.8 14.0 74.3Z"/>
<path d="M14.5 74.8 11.0 74.8 9.8 74.3 9.2 73.7 8.6 72.0 8.5 71.2 8.8 70.5 9.8 69.8 11.5 69.4 13.5 69.5 15.0 70.0 15.9 71.0 16.0 72.5 15.6 74.0 15.2 74.5 14.5 74.8Z"/>
<path d="M15.0 75.3 10.2 75.4 9.0 75.0 8.5 74.2 7.8 71.8 7.8 71.0 8.2 70.2 9.5 69.4 11.5 69.0 13.8 69.1 15.5 69.8 16.1 70.2 16.5 71.0 16.7 72.0 16.6 73.5 16.1 74.8 15.0 75.3Z"/>
<path d="M12.0 76.0 9.5 76.2 8.7 76.0 8.0 75.5 7.6 74.5 7.1 71.8 7.1 71.0 7.3 70.2 8.0 69.5 8.8 69.1 11.0 68.6 13.8 68.6 15.8 69.3 16.7 70.0 17.3 71.0 17.4 73.5 17.2 74.8 16.5 75.5 15.8 75.8 12.0 76.0Z"/>
<path d="M10.2 77.0 9.2 77.0 8.2 76.7 7.5 76.2 7.0 75.5 6.7 74.5 6.3 71.2 6.5 70.2 7.0 69.6 7.8 69.0 9.0 68.5 10.5 68.2 12.2 68.1 15.2 68.5 16.5 69.1 17.4 69.8 18.0 70.8 18.2 72.0 18.2 74.5 17.6 75.8 16.8 76.2 16.0 76.5 12.5 76.7 10.2 77.0Z"/>
<path d="M10.0 77.8 8.8 77.6 7.5 77.1 6.8 76.5 6.1 75.5 5.6 71.2 5.8 70.2 6.5 69.2 7.5 68.5 8.8 68.1 10.5 67.7 12.2 67.7 15.5 68.1 17.1 68.8 18.1 69.5 18.7 70.2 18.9 71.0 19.1 73.8 18.9 75.2 18.2 76.2 17.5 76.7 16.5 77.0 10.0 77.8Z"/>
<path d="M11.8 78.3 10.0 78.4 8.5 78.2 7.0 77.5 5.9 76.5 5.2 75.0 4.9 72.0 4.9 70.8 5.4 69.5 6.2 68.7 7.5 68.0 9.2 67.4 11.0 67.2 15.0 67.5 16.8 68.0 18.2 68.8 19.3 69.8 19.7 71.0 19.8 74.5 19.6 75.5 19.2 76.2 18.5 77.0 17.2 77.6 11.8 78.3Z"/>
<path d="M11.0 79.0 9.2 78.9 7.5 78.4 6.0 77.6 5.0 76.5 4.4 74.8 4.1 71.8 4.3 70.2 5.0 69.1 6.0 68.2 7.5 67.4 9.2 66.9 11.0 66.8 13.5 66.8 15.8 67.2 17.8 67.8 19.2 68.7 20.1 69.8 20.5 71.5 20.5 74.8 20.3 75.8 19.7 76.8 18.8 77.7 17.5 78.2 11.0 79.0Z"/>
<path d="M12.2 79.5 10.2 79.6 8.2 79.3 6.0 78.3 4.7 77.2 3.8 75.5 3.4 73.0 3.4 71.0 4.1 69.2 5.0 68.2 6.5 67.3 8.2 66.6 10.0 66.3 12.5 66.3 15.5 66.7 17.8 67.2 19.4 68.0 20.6 69.2 21.1 70.8 21.2 74.8 20.5 76.8 19.5 78.0 18.0 78.8 12.2 79.5Z"/>
<path d="M13.2 80.0 10.2 80.2 8.0 79.7 5.2 78.5 4.3 77.8 3.7 77.0 3.2 75.8 2.8 74.2 2.6 72.5 2.7 71.0 3.1 69.8 3.7 68.8 5.5 67.2 7.2 66.4 9.2 65.9 11.0 65.8 13.8 66.0 16.5 66.4 18.5 66.9 20.1 67.8 21.1 68.8 21.7 70.5 21.9 74.5 21.6 76.0 20.9 77.5 19.8 78.6 18.2 79.4 16.8 79.7 13.2 80.0Z"/>
<path d="M15.5 80.5 11.0 80.7 9.0 80.5 5.5 79.3 4.4 78.8 3.6 78.0 2.9 77.0 2.4 75.5 2.0 73.8 1.9 72.0 2.4 69.8 2.9 68.8 3.8 67.8 5.2 66.7 7.0 65.9 8.8 65.5 10.8 65.3 15.0 65.6 17.8 66.1 20.0 66.9 21.4 68.0 22.1 69.2 22.4 70.8 22.6 74.8 22.1 76.8 21.0 78.4 19.5 79.6 17.8 80.3 15.5 80.5Z"/>
<path d="M12.0 81.3 9.5 81.2 7.2 80.6 4.2 79.4 2.9 78.2 1.9 76.2 1.3 73.2 1.3 70.8 2.1 68.8 3.1 67.5 4.8 66.3 7.0 65.3 9.0 64.9 11.5 64.9 16.8 65.4 19.0 65.9 20.8 66.7 22.2 68.0 22.7 69.0 23.0 70.0 23.3 75.0 23.0 76.5 22.4 77.8 20.9 79.5 18.8 80.7 16.8 81.1 12.0 81.3Z"/>
<path d="M13.5 81.8 10.0 81.7 7.2 81.1 3.8 79.8 2.8 79.1 2.1 78.2 1.4 76.8 0.8 74.8 0.5 72.8 0.6 71.0 0.9 69.8 1.4 68.5 2.1 67.5 3.3 66.5 5.5 65.3 7.5 64.6 9.0 64.3 11.0 64.3 16.5 64.8 19.0 65.3 21.2 66.2 22.9 67.8 23.4 68.8 23.6 69.8 24.0 74.8 23.7 76.8 22.8 78.5 21.2 80.1 19.0 81.2 17.0 81.7 13.5 81.8Z"/>
<path d="M17.0 82.3 11.0 82.3 9.0 82.1 4.2 80.7 3.0 80.1 2.2 79.5 1.4 78.5 0.8 77.2 0.1 74.8 -0.1 72.8 -0.1 71.0 0.2 69.5 0.7 68.2 1.6 67.0 3.0 65.9 5.8 64.6 7.8 64.0 9.5 63.8 16.2 64.2 18.5 64.5 21.0 65.4 22.8 66.6 23.8 68.0 24.3 69.8 24.7 75.0 24.2 77.5 23.2 79.2 21.8 80.6 19.5 81.7 17.0 82.3Z"/>
<path d="M17.5 82.8 11.0 82.8 8.8 82.6 3.8 81.2 2.5 80.6 1.5 79.8 0.7 78.8 0.1 77.2 -0.6 74.5 -0.8 72.5 -0.8 70.8 -0.5 69.0 0.1 67.8 1.0 66.5 2.5 65.4 4.8 64.4 7.2 63.5 9.2 63.3 16.5 63.7 19.0 64.0 21.5 64.8 23.2 66.1 24.5 67.8 25.0 69.5 25.4 75.0 24.9 77.8 23.9 79.5 22.5 80.9 20.0 82.2 17.5 82.8Z"/>
<path d="M18.2 84.3 10.8 84.4 8.2 84.1 2.2 82.6 0.8 81.9 -0.3 81.0 -1.2 79.8 -1.8 78.2 -2.7 74.5 -2.9 72.0 -2.7 69.5 -2.3 67.8 -1.6 66.2 -0.5 65.0 0.8 64.0 2.2 63.3 6.5 62.1 8.8 61.7 17.0 62.0 20.2 62.4 22.8 63.1 24.8 64.6 26.5 67.0 27.2 69.2 27.6 74.5 27.4 76.5 26.9 78.5 25.9 80.5 24.3 82.0 21.0 83.6 18.2 84.3Z"/>
<path d="M19.8 86.0 16.8 86.2 10.0 86.2 7.5 86.0 0.8 84.9 -0.8 84.2 -2.2 83.0 -3.0 82.2 -3.1 80.5 -3.2 68.8 -3.0 64.0 -1.0 62.4 1.2 61.2 3.5 60.6 8.2 59.9 12.5 60.0 16.8 59.9 21.0 60.3 24.2 61.2 25.5 61.8 26.7 62.8 27.9 64.2 28.8 65.8 29.6 67.5 30.1 69.5 30.3 71.8 30.3 74.5 30.1 76.8 29.6 79.2 28.4 81.8 27.6 82.8 26.5 83.7 24.0 84.8 19.8 86.0Z"/>
<line x1="0.9" y1="60" x2="0.9" y2="85" stroke-width="1.2"/>
</g></g>
<line x1="163.70" y1="409.00" x2="249.30" y2="409.00" stroke="#606060" stroke-width="1.1"/>
<line x1="248.80" y1="409.00" x2="248.80" y2="494.20" stroke="#9a9a9a" stroke-width="1.1"/>
<line x1="164.20" y1="409.00" x2="164.20" y2="494.20" stroke="#8a8a8a" stroke-width="0.9"/>
<line x1="164.20" y1="494.20" x2="248.80" y2="494.20" stroke="#8a8a8a" stroke-width="0.9"/>
<line x1="163.00" y1="430.55" x2="164.20" y2="430.55" stroke="#777" stroke-width="0.6"/>
<line x1="163.00" y1="427.19" x2="164.20" y2="427.19" stroke="#777" stroke-width="0.6"/>
<line x1="163.00" y1="424.80" x2="164.20" y2="424.80" stroke="#777" stroke-width="0.6"/>
<line x1="163.00" y1="422.95" x2="164.20" y2="422.95" stroke="#777" stroke-width="0.6"/>
<line x1="163.00" y1="421.44" x2="164.20" y2="421.44" stroke="#777" stroke-width="0.6"/>
<line x1="163.00" y1="420.16" x2="164.20" y2="420.16" stroke="#777" stroke-width="0.6"/>
<line x1="163.00" y1="419.05" x2="164.20" y2="419.05" stroke="#777" stroke-width="0.6"/>
<line x1="163.00" y1="418.07" x2="164.20" y2="418.07" stroke="#777" stroke-width="0.6"/>
<line x1="163.00" y1="449.93" x2="164.20" y2="449.93" stroke="#777" stroke-width="0.6"/>
<line x1="163.00" y1="446.50" x2="164.20" y2="446.50" stroke="#777" stroke-width="0.6"/>
<line x1="163.00" y1="444.06" x2="164.20" y2="444.06" stroke="#777" stroke-width="0.6"/>
<line x1="163.00" y1="442.17" x2="164.20" y2="442.17" stroke="#777" stroke-width="0.6"/>
<line x1="163.00" y1="440.63" x2="164.20" y2="440.63" stroke="#777" stroke-width="0.6"/>
<line x1="163.00" y1="439.32" x2="164.20" y2="439.32" stroke="#777" stroke-width="0.6"/>
<line x1="163.00" y1="438.19" x2="164.20" y2="438.19" stroke="#777" stroke-width="0.6"/>
<line x1="163.00" y1="437.19" x2="164.20" y2="437.19" stroke="#777" stroke-width="0.6"/>
<line x1="163.00" y1="469.57" x2="164.20" y2="469.57" stroke="#777" stroke-width="0.6"/>
<line x1="163.00" y1="466.10" x2="164.20" y2="466.10" stroke="#777" stroke-width="0.6"/>
<line x1="163.00" y1="463.64" x2="164.20" y2="463.64" stroke="#777" stroke-width="0.6"/>
<line x1="163.00" y1="461.73" x2="164.20" y2="461.73" stroke="#777" stroke-width="0.6"/>
<line x1="163.00" y1="460.17" x2="164.20" y2="460.17" stroke="#777" stroke-width="0.6"/>
<line x1="163.00" y1="458.85" x2="164.20" y2="458.85" stroke="#777" stroke-width="0.6"/>
<line x1="163.00" y1="457.71" x2="164.20" y2="457.71" stroke="#777" stroke-width="0.6"/>
<line x1="163.00" y1="456.70" x2="164.20" y2="456.70" stroke="#777" stroke-width="0.6"/>
<line x1="189.70" y1="494.20" x2="189.70" y2="495.40" stroke="#777" stroke-width="0.6"/>
<line x1="193.15" y1="494.20" x2="193.15" y2="495.40" stroke="#777" stroke-width="0.6"/>
<line x1="195.60" y1="494.20" x2="195.60" y2="495.40" stroke="#777" stroke-width="0.6"/>
<line x1="197.50" y1="494.20" x2="197.50" y2="495.40" stroke="#777" stroke-width="0.6"/>
<line x1="199.05" y1="494.20" x2="199.05" y2="495.40" stroke="#777" stroke-width="0.6"/>
<line x1="200.36" y1="494.20" x2="200.36" y2="495.40" stroke="#777" stroke-width="0.6"/>
<line x1="201.50" y1="494.20" x2="201.50" y2="495.40" stroke="#777" stroke-width="0.6"/>
<line x1="202.50" y1="494.20" x2="202.50" y2="495.40" stroke="#777" stroke-width="0.6"/>
<line x1="209.30" y1="494.20" x2="209.30" y2="495.40" stroke="#777" stroke-width="0.6"/>
<line x1="212.75" y1="494.20" x2="212.75" y2="495.40" stroke="#777" stroke-width="0.6"/>
<line x1="215.20" y1="494.20" x2="215.20" y2="495.40" stroke="#777" stroke-width="0.6"/>
<line x1="217.10" y1="494.20" x2="217.10" y2="495.40" stroke="#777" stroke-width="0.6"/>
<line x1="218.65" y1="494.20" x2="218.65" y2="495.40" stroke="#777" stroke-width="0.6"/>
<line x1="219.96" y1="494.20" x2="219.96" y2="495.40" stroke="#777" stroke-width="0.6"/>
<line x1="221.10" y1="494.20" x2="221.10" y2="495.40" stroke="#777" stroke-width="0.6"/>
<line x1="222.10" y1="494.20" x2="222.10" y2="495.40" stroke="#777" stroke-width="0.6"/>
<line x1="228.87" y1="494.20" x2="228.87" y2="495.40" stroke="#777" stroke-width="0.6"/>
<line x1="232.30" y1="494.20" x2="232.30" y2="495.40" stroke="#777" stroke-width="0.6"/>
<line x1="234.74" y1="494.20" x2="234.74" y2="495.40" stroke="#777" stroke-width="0.6"/>
<line x1="236.63" y1="494.20" x2="236.63" y2="495.40" stroke="#777" stroke-width="0.6"/>
<line x1="238.17" y1="494.20" x2="238.17" y2="495.40" stroke="#777" stroke-width="0.6"/>
<line x1="239.48" y1="494.20" x2="239.48" y2="495.40" stroke="#777" stroke-width="0.6"/>
<line x1="240.61" y1="494.20" x2="240.61" y2="495.40" stroke="#777" stroke-width="0.6"/>
<line x1="241.61" y1="494.20" x2="241.61" y2="495.40" stroke="#777" stroke-width="0.6"/>
<line x1="162.00" y1="417.20" x2="164.20" y2="417.20" stroke="#444" stroke-width="0.9"/>
<text x="147.00" y="419.70" font-size="7.2" fill="#333">10<tspan font-size="5" dy="-3.2">5</tspan></text>
<line x1="162.00" y1="436.30" x2="164.20" y2="436.30" stroke="#444" stroke-width="0.9"/>
<text x="147.00" y="438.80" font-size="7.2" fill="#333">10<tspan font-size="5" dy="-3.2">4</tspan></text>
<line x1="162.00" y1="455.80" x2="164.20" y2="455.80" stroke="#444" stroke-width="0.9"/>
<text x="147.00" y="458.30" font-size="7.2" fill="#333">10<tspan font-size="5" dy="-3.2">3</tspan></text>
<line x1="162.00" y1="475.50" x2="164.20" y2="475.50" stroke="#444" stroke-width="0.9"/>
<text x="147.00" y="478.00" font-size="7.2" fill="#333">10<tspan font-size="5" dy="-3.2">2</tspan></text>
<line x1="162.00" y1="485.20" x2="164.20" y2="485.20" stroke="#444" stroke-width="0.9"/>
<text x="156.70" y="487.70" font-size="7.2" text-anchor="middle" fill="#333" >0</text>
<line x1="172.90" y1="494.20" x2="172.90" y2="496.20" stroke="#444" stroke-width="0.9"/>
<text x="172.90" y="506.40" font-size="7.2" text-anchor="middle" fill="#333" >0</text>
<line x1="183.80" y1="494.20" x2="183.80" y2="496.20" stroke="#444" stroke-width="0.9"/>
<text x="178.50" y="506.40" font-size="7.2" fill="#333">10<tspan font-size="5" dy="-3.2">2</tspan></text>
<line x1="203.40" y1="494.20" x2="203.40" y2="496.20" stroke="#444" stroke-width="0.9"/>
<text x="198.10" y="506.40" font-size="7.2" fill="#333">10<tspan font-size="5" dy="-3.2">3</tspan></text>
<line x1="223.00" y1="494.20" x2="223.00" y2="496.20" stroke="#444" stroke-width="0.9"/>
<text x="217.70" y="506.40" font-size="7.2" fill="#333">10<tspan font-size="5" dy="-3.2">4</tspan></text>
<line x1="242.50" y1="494.20" x2="242.50" y2="496.20" stroke="#444" stroke-width="0.9"/>
<text x="237.20" y="506.40" font-size="7.2" fill="#333">10<tspan font-size="5" dy="-3.2">5</tspan></text>
<clipPath id="cp22"><rect x="277.0" y="409.0" width="84.6" height="85.2"/></clipPath>
<g clip-path="url(#cp22)"><g transform="translate(277.0 409.0)" fill="#000" fill-opacity="0.03" stroke="#000" stroke-width="0.65" stroke-opacity="0.95">
<path d="M29.8 79.8 28.5 79.8 27.4 79.5 26.6 78.8 26.1 77.8 25.9 76.2 26.2 74.6 27.0 73.5 28.0 73.0 29.2 72.9 31.0 73.4 31.8 74.2 32.4 75.8 32.6 77.2 32.2 78.5 31.2 79.4 29.8 79.8Z"/>
<path d="M29.5 80.0 28.0 80.0 27.0 79.6 26.2 78.7 25.7 77.2 25.7 75.5 26.1 74.0 27.0 73.0 28.2 72.5 30.2 72.7 31.4 73.2 32.2 74.4 32.7 76.2 32.8 77.8 32.2 78.9 31.2 79.6 29.5 80.0Z"/>
<path d="M29.8 80.3 28.2 80.3 27.0 79.9 26.1 79.0 25.5 77.5 25.3 75.5 25.6 74.0 26.6 72.8 28.0 72.0 30.2 72.2 31.5 72.7 32.3 73.8 32.8 75.2 33.1 77.2 32.7 78.8 31.7 79.8 29.8 80.3Z"/>
<path d="M30.2 80.5 28.2 80.7 26.9 80.2 25.8 79.2 25.1 77.8 24.9 75.5 25.2 73.8 26.2 72.3 27.8 71.5 29.2 71.4 31.2 71.9 32.3 72.8 33.0 74.2 33.4 77.0 33.1 78.8 32.0 79.9 30.2 80.5Z"/>
<path d="M29.0 81.0 27.2 80.8 26.5 80.5 25.8 79.9 24.9 78.2 24.4 75.8 24.5 74.0 25.1 72.8 26.7 71.2 28.2 70.7 31.0 71.1 32.4 72.0 33.2 73.5 33.7 76.5 33.5 78.5 32.8 79.8 31.2 80.6 29.0 81.0Z"/>
<path d="M30.0 81.3 27.8 81.4 26.1 80.8 24.9 79.5 24.1 77.2 23.8 74.5 24.2 73.0 24.8 72.2 25.8 71.2 26.8 70.5 27.8 70.1 30.2 70.3 32.0 70.9 33.1 72.0 33.7 73.5 34.0 77.2 33.6 79.2 33.1 80.0 32.2 80.7 30.0 81.3Z"/>
<path d="M29.2 81.8 28.0 81.8 26.8 81.6 25.8 81.1 25.1 80.5 24.4 79.5 23.9 78.5 23.3 75.2 23.3 73.5 24.0 72.0 26.0 70.2 27.8 69.5 30.8 69.8 32.5 70.5 33.6 71.8 34.2 73.5 34.4 77.8 34.2 78.8 33.8 79.8 33.2 80.5 32.2 81.1 31.0 81.5 29.2 81.8Z"/>
<path d="M28.8 82.3 27.5 82.2 26.2 81.9 25.2 81.4 24.3 80.5 23.7 79.5 23.2 78.2 22.6 74.5 22.8 72.8 23.8 71.3 26.0 69.5 27.8 68.9 31.0 69.2 32.8 69.9 33.5 70.6 34.1 71.5 34.6 73.5 34.7 78.0 34.5 79.2 34.0 80.2 33.2 81.0 32.0 81.7 28.8 82.3Z"/>
<path d="M30.5 82.5 27.5 82.7 26.2 82.5 25.2 82.1 24.2 81.3 23.5 80.5 22.5 78.2 21.8 74.2 22.2 72.2 22.8 71.2 23.8 70.2 25.5 69.0 26.8 68.4 28.8 68.3 32.2 69.0 33.2 69.6 34.0 70.2 34.9 72.0 35.1 73.5 35.1 77.5 34.7 79.8 34.2 80.8 33.2 81.6 32.0 82.2 30.5 82.5Z"/>
<path d="M28.2 83.3 26.8 83.2 25.2 82.7 24.0 82.0 22.9 81.0 22.1 79.8 21.6 78.5 21.1 74.5 21.4 72.2 22.5 70.4 23.8 69.3 25.2 68.3 26.2 67.9 27.5 67.7 31.2 68.1 33.2 68.9 34.2 69.8 34.9 70.8 35.4 72.0 35.5 73.2 35.5 78.5 35.1 80.0 34.5 81.0 33.5 82.0 32.2 82.6 30.8 83.0 28.2 83.3Z"/>
<path d="M28.8 83.8 26.0 83.6 24.5 83.1 23.2 82.4 22.2 81.5 21.3 80.5 20.7 79.2 20.5 78.0 20.3 73.5 20.6 72.2 21.1 71.0 22.1 69.8 23.5 68.5 25.2 67.6 26.8 67.2 28.2 67.1 31.2 67.5 33.2 68.2 34.2 69.0 35.1 70.0 35.7 71.2 36.0 72.5 35.9 78.5 35.5 80.0 35.0 81.2 34.0 82.3 32.8 83.0 31.2 83.4 28.8 83.8Z"/>
<path d="M29.2 84.3 26.2 84.3 24.8 83.9 23.0 83.1 21.7 82.2 20.6 81.2 20.0 80.2 19.6 79.0 19.5 74.0 19.7 72.5 20.3 71.0 21.2 69.5 22.5 68.3 24.2 67.2 26.0 66.7 27.8 66.6 30.8 66.9 32.2 67.2 33.2 67.6 34.2 68.3 35.3 69.5 36.0 70.8 36.4 72.0 36.5 73.5 36.3 78.2 36.0 80.0 35.3 81.5 34.5 82.5 33.2 83.4 31.8 83.9 29.2 84.3Z"/>
<path d="M30.0 84.8 28.0 85.0 26.5 84.9 25.0 84.6 23.0 83.9 21.5 83.1 20.2 82.2 19.3 81.0 18.8 79.8 18.5 77.8 18.6 74.2 18.9 72.5 19.4 71.0 20.5 69.2 21.6 68.0 23.2 66.9 25.0 66.3 26.2 66.0 27.8 66.0 31.5 66.4 33.0 66.9 34.2 67.6 35.2 68.6 36.2 70.0 36.7 71.2 36.9 73.2 36.8 77.8 36.4 80.0 35.9 81.5 35.0 82.8 33.8 83.7 32.2 84.4 30.0 84.8Z"/>
<path d="M29.0 85.5 27.2 85.6 25.5 85.4 23.0 84.6 21.0 83.7 19.8 82.8 19.0 81.9 18.3 80.8 17.9 79.2 17.7 77.0 17.9 73.8 18.3 71.8 19.0 70.2 20.1 68.5 21.5 67.2 23.2 66.2 25.2 65.6 27.2 65.4 31.0 65.8 32.5 66.1 33.5 66.5 34.8 67.3 35.8 68.5 36.7 70.0 37.2 71.8 37.4 73.8 37.1 78.5 36.7 80.8 36.0 82.2 35.0 83.5 33.5 84.5 31.8 85.1 29.0 85.5Z"/>
<path d="M27.8 86.3 25.8 86.1 23.5 85.4 21.2 84.5 19.5 83.5 18.5 82.5 17.6 81.0 17.1 79.5 16.9 78.0 17.0 74.8 17.3 72.5 17.9 70.8 19.0 68.8 20.3 67.2 22.0 66.1 24.0 65.3 26.2 64.9 32.0 65.3 33.2 65.7 34.2 66.2 35.5 67.3 36.7 69.0 37.5 70.8 37.8 72.5 37.7 77.0 37.4 79.5 36.9 81.5 35.9 83.2 34.8 84.5 33.0 85.4 30.8 85.9 27.8 86.3Z"/>
<path d="M29.2 86.8 27.2 86.9 25.2 86.6 22.2 85.6 20.0 84.6 18.8 83.7 17.7 82.5 16.8 81.0 16.3 79.2 16.1 77.0 16.3 73.2 16.8 71.2 17.6 69.5 19.1 67.5 20.5 66.2 22.5 65.2 25.0 64.5 27.2 64.3 31.2 64.6 32.8 64.9 34.0 65.4 35.5 66.5 36.7 68.0 37.6 69.8 38.1 71.5 38.3 73.8 38.0 78.2 37.6 80.8 36.7 83.0 35.5 84.6 34.0 85.6 32.0 86.3 29.2 86.8Z"/>
<path d="M32.5 88.0 25.5 88.1 23.6 88.0 23.0 87.8 20.0 86.6 18.0 85.5 16.3 84.0 14.9 82.0 14.1 80.2 13.7 78.2 13.6 74.0 13.9 71.8 14.5 69.8 15.6 67.8 17.0 66.2 18.5 65.1 21.5 63.7 25.2 62.7 27.5 62.5 31.5 62.8 33.5 63.2 35.0 63.9 36.5 65.1 37.9 67.0 39.1 69.8 39.5 72.5 39.4 77.5 38.7 81.8 37.7 84.2 36.2 86.2 34.5 87.4 32.5 88.0Z"/>
<path d="M37.2 88.0 27.0 88.2 17.3 88.0 15.5 86.8 14.0 85.5 12.5 83.8 11.3 81.8 10.2 78.0 9.9 75.2 10.1 73.2 10.9 70.8 12.4 67.2 13.8 65.2 16.0 63.6 19.2 62.1 22.5 61.1 26.8 60.3 31.0 60.3 33.2 60.6 35.5 61.5 37.5 63.0 39.2 65.2 40.5 68.2 41.0 71.2 41.2 75.2 40.9 78.8 39.9 83.5 38.7 86.2 37.8 87.5 37.2 88.0Z"/>
</g></g>
<line x1="276.50" y1="409.00" x2="362.10" y2="409.00" stroke="#606060" stroke-width="1.1"/>
<line x1="361.60" y1="409.00" x2="361.60" y2="494.20" stroke="#9a9a9a" stroke-width="1.1"/>
<line x1="277.00" y1="409.00" x2="277.00" y2="494.20" stroke="#8a8a8a" stroke-width="0.9"/>
<line x1="277.00" y1="494.20" x2="361.60" y2="494.20" stroke="#8a8a8a" stroke-width="0.9"/>
<line x1="275.80" y1="430.55" x2="277.00" y2="430.55" stroke="#777" stroke-width="0.6"/>
<line x1="275.80" y1="427.19" x2="277.00" y2="427.19" stroke="#777" stroke-width="0.6"/>
<line x1="275.80" y1="424.80" x2="277.00" y2="424.80" stroke="#777" stroke-width="0.6"/>
<line x1="275.80" y1="422.95" x2="277.00" y2="422.95" stroke="#777" stroke-width="0.6"/>
<line x1="275.80" y1="421.44" x2="277.00" y2="421.44" stroke="#777" stroke-width="0.6"/>
<line x1="275.80" y1="420.16" x2="277.00" y2="420.16" stroke="#777" stroke-width="0.6"/>
<line x1="275.80" y1="419.05" x2="277.00" y2="419.05" stroke="#777" stroke-width="0.6"/>
<line x1="275.80" y1="418.07" x2="277.00" y2="418.07" stroke="#777" stroke-width="0.6"/>
<line x1="275.80" y1="449.93" x2="277.00" y2="449.93" stroke="#777" stroke-width="0.6"/>
<line x1="275.80" y1="446.50" x2="277.00" y2="446.50" stroke="#777" stroke-width="0.6"/>
<line x1="275.80" y1="444.06" x2="277.00" y2="444.06" stroke="#777" stroke-width="0.6"/>
<line x1="275.80" y1="442.17" x2="277.00" y2="442.17" stroke="#777" stroke-width="0.6"/>
<line x1="275.80" y1="440.63" x2="277.00" y2="440.63" stroke="#777" stroke-width="0.6"/>
<line x1="275.80" y1="439.32" x2="277.00" y2="439.32" stroke="#777" stroke-width="0.6"/>
<line x1="275.80" y1="438.19" x2="277.00" y2="438.19" stroke="#777" stroke-width="0.6"/>
<line x1="275.80" y1="437.19" x2="277.00" y2="437.19" stroke="#777" stroke-width="0.6"/>
<line x1="275.80" y1="469.57" x2="277.00" y2="469.57" stroke="#777" stroke-width="0.6"/>
<line x1="275.80" y1="466.10" x2="277.00" y2="466.10" stroke="#777" stroke-width="0.6"/>
<line x1="275.80" y1="463.64" x2="277.00" y2="463.64" stroke="#777" stroke-width="0.6"/>
<line x1="275.80" y1="461.73" x2="277.00" y2="461.73" stroke="#777" stroke-width="0.6"/>
<line x1="275.80" y1="460.17" x2="277.00" y2="460.17" stroke="#777" stroke-width="0.6"/>
<line x1="275.80" y1="458.85" x2="277.00" y2="458.85" stroke="#777" stroke-width="0.6"/>
<line x1="275.80" y1="457.71" x2="277.00" y2="457.71" stroke="#777" stroke-width="0.6"/>
<line x1="275.80" y1="456.70" x2="277.00" y2="456.70" stroke="#777" stroke-width="0.6"/>
<line x1="302.50" y1="494.20" x2="302.50" y2="495.40" stroke="#777" stroke-width="0.6"/>
<line x1="305.95" y1="494.20" x2="305.95" y2="495.40" stroke="#777" stroke-width="0.6"/>
<line x1="308.40" y1="494.20" x2="308.40" y2="495.40" stroke="#777" stroke-width="0.6"/>
<line x1="310.30" y1="494.20" x2="310.30" y2="495.40" stroke="#777" stroke-width="0.6"/>
<line x1="311.85" y1="494.20" x2="311.85" y2="495.40" stroke="#777" stroke-width="0.6"/>
<line x1="313.16" y1="494.20" x2="313.16" y2="495.40" stroke="#777" stroke-width="0.6"/>
<line x1="314.30" y1="494.20" x2="314.30" y2="495.40" stroke="#777" stroke-width="0.6"/>
<line x1="315.30" y1="494.20" x2="315.30" y2="495.40" stroke="#777" stroke-width="0.6"/>
<line x1="322.10" y1="494.20" x2="322.10" y2="495.40" stroke="#777" stroke-width="0.6"/>
<line x1="325.55" y1="494.20" x2="325.55" y2="495.40" stroke="#777" stroke-width="0.6"/>
<line x1="328.00" y1="494.20" x2="328.00" y2="495.40" stroke="#777" stroke-width="0.6"/>
<line x1="329.90" y1="494.20" x2="329.90" y2="495.40" stroke="#777" stroke-width="0.6"/>
<line x1="331.45" y1="494.20" x2="331.45" y2="495.40" stroke="#777" stroke-width="0.6"/>
<line x1="332.76" y1="494.20" x2="332.76" y2="495.40" stroke="#777" stroke-width="0.6"/>
<line x1="333.90" y1="494.20" x2="333.90" y2="495.40" stroke="#777" stroke-width="0.6"/>
<line x1="334.90" y1="494.20" x2="334.90" y2="495.40" stroke="#777" stroke-width="0.6"/>
<line x1="341.67" y1="494.20" x2="341.67" y2="495.40" stroke="#777" stroke-width="0.6"/>
<line x1="345.10" y1="494.20" x2="345.10" y2="495.40" stroke="#777" stroke-width="0.6"/>
<line x1="347.54" y1="494.20" x2="347.54" y2="495.40" stroke="#777" stroke-width="0.6"/>
<line x1="349.43" y1="494.20" x2="349.43" y2="495.40" stroke="#777" stroke-width="0.6"/>
<line x1="350.97" y1="494.20" x2="350.97" y2="495.40" stroke="#777" stroke-width="0.6"/>
<line x1="352.28" y1="494.20" x2="352.28" y2="495.40" stroke="#777" stroke-width="0.6"/>
<line x1="353.41" y1="494.20" x2="353.41" y2="495.40" stroke="#777" stroke-width="0.6"/>
<line x1="354.41" y1="494.20" x2="354.41" y2="495.40" stroke="#777" stroke-width="0.6"/>
<line x1="274.80" y1="417.20" x2="277.00" y2="417.20" stroke="#444" stroke-width="0.9"/>
<text x="259.80" y="419.70" font-size="7.2" fill="#333">10<tspan font-size="5" dy="-3.2">5</tspan></text>
<line x1="274.80" y1="436.30" x2="277.00" y2="436.30" stroke="#444" stroke-width="0.9"/>
<text x="259.80" y="438.80" font-size="7.2" fill="#333">10<tspan font-size="5" dy="-3.2">4</tspan></text>
<line x1="274.80" y1="455.80" x2="277.00" y2="455.80" stroke="#444" stroke-width="0.9"/>
<text x="259.80" y="458.30" font-size="7.2" fill="#333">10<tspan font-size="5" dy="-3.2">3</tspan></text>
<line x1="274.80" y1="475.50" x2="277.00" y2="475.50" stroke="#444" stroke-width="0.9"/>
<text x="259.80" y="478.00" font-size="7.2" fill="#333">10<tspan font-size="5" dy="-3.2">2</tspan></text>
<line x1="274.80" y1="485.20" x2="277.00" y2="485.20" stroke="#444" stroke-width="0.9"/>
<text x="269.50" y="487.70" font-size="7.2" text-anchor="middle" fill="#333" >0</text>
<line x1="285.70" y1="494.20" x2="285.70" y2="496.20" stroke="#444" stroke-width="0.9"/>
<text x="285.70" y="506.40" font-size="7.2" text-anchor="middle" fill="#333" >0</text>
<line x1="296.60" y1="494.20" x2="296.60" y2="496.20" stroke="#444" stroke-width="0.9"/>
<text x="291.30" y="506.40" font-size="7.2" fill="#333">10<tspan font-size="5" dy="-3.2">2</tspan></text>
<line x1="316.20" y1="494.20" x2="316.20" y2="496.20" stroke="#444" stroke-width="0.9"/>
<text x="310.90" y="506.40" font-size="7.2" fill="#333">10<tspan font-size="5" dy="-3.2">3</tspan></text>
<line x1="335.80" y1="494.20" x2="335.80" y2="496.20" stroke="#444" stroke-width="0.9"/>
<text x="330.50" y="506.40" font-size="7.2" fill="#333">10<tspan font-size="5" dy="-3.2">4</tspan></text>
<line x1="355.30" y1="494.20" x2="355.30" y2="496.20" stroke="#444" stroke-width="0.9"/>
<text x="350.00" y="506.40" font-size="7.2" fill="#333">10<tspan font-size="5" dy="-3.2">5</tspan></text>
<clipPath id="cp23"><rect x="389.7" y="409.0" width="84.6" height="85.2"/></clipPath>
<g clip-path="url(#cp23)"><g transform="translate(389.7 409.0)" fill="#000" fill-opacity="0.03" stroke="#000" stroke-width="0.65" stroke-opacity="0.95">
<path d="M12.8 67.8 10.5 67.7 8.9 67.2 8.4 66.8 8.2 66.2 8.1 65.5 8.4 64.8 9.2 64.0 10.5 63.8 12.0 64.1 13.5 64.8 14.1 65.5 14.4 66.8 13.8 67.5 12.8 67.8Z"/>
<path d="M13.0 68.0 10.2 68.0 8.5 67.4 7.9 66.8 7.7 66.0 7.7 65.2 8.1 64.5 9.1 63.8 10.5 63.5 12.2 63.8 13.8 64.5 14.6 65.5 14.9 66.8 14.7 67.2 14.2 67.6 13.0 68.0Z"/>
<path d="M13.8 68.3 10.2 68.3 8.2 67.8 7.7 67.2 7.3 66.5 7.2 65.5 7.6 64.5 8.8 63.5 10.2 63.2 12.2 63.5 14.0 64.2 15.0 65.2 15.4 66.8 15.3 67.2 14.9 67.8 13.8 68.3Z"/>
<path d="M13.0 68.8 9.5 68.6 8.2 68.3 7.5 67.8 7.0 67.0 6.8 65.8 7.0 64.8 7.4 64.0 8.8 63.1 10.8 62.9 13.2 63.5 15.0 64.4 15.7 65.2 15.9 66.0 16.0 66.8 15.8 67.5 14.8 68.4 13.0 68.8Z"/>
<path d="M14.2 69.0 12.8 69.2 10.0 69.1 8.5 68.8 7.5 68.4 6.7 67.5 6.3 66.5 6.3 65.2 6.7 64.2 7.3 63.5 8.1 63.0 10.0 62.5 12.5 62.8 15.0 63.8 16.2 65.0 16.6 66.0 16.7 67.0 16.4 67.8 16.0 68.2 14.2 69.0Z"/>
<path d="M13.8 69.5 9.2 69.4 8.0 69.1 6.9 68.5 6.1 67.5 5.7 66.2 5.8 65.0 6.5 63.8 7.3 63.0 8.2 62.5 10.5 62.1 13.6 62.8 15.2 63.4 16.2 64.0 16.8 64.8 17.2 65.8 17.4 67.0 17.2 67.8 16.8 68.3 16.0 68.9 13.8 69.5Z"/>
<path d="M12.8 70.0 10.2 70.0 8.5 69.7 7.0 69.2 6.0 68.3 5.3 67.0 5.2 65.5 5.6 64.2 6.6 63.0 7.5 62.4 8.5 62.0 11.0 61.8 14.8 62.7 16.1 63.2 17.1 64.0 17.7 65.0 18.1 66.5 18.1 67.5 17.7 68.2 16.8 69.0 15.8 69.5 14.2 69.9 12.8 70.0Z"/>
<path d="M14.5 70.3 12.5 70.5 9.5 70.4 7.8 70.0 6.3 69.2 5.2 68.1 4.7 66.8 4.8 65.0 5.5 63.5 6.5 62.5 7.5 61.9 8.8 61.5 10.0 61.4 11.5 61.5 13.8 61.9 16.0 62.6 17.2 63.3 18.0 64.0 18.5 65.0 18.8 66.8 18.7 67.8 18.3 68.5 17.4 69.2 16.0 69.9 14.5 70.3Z"/>
<path d="M14.2 70.8 11.5 71.0 9.0 70.8 7.2 70.3 5.8 69.4 4.6 68.0 4.2 66.5 4.3 64.8 5.1 63.2 6.1 62.2 7.2 61.6 8.5 61.1 10.0 61.0 11.8 61.1 14.2 61.6 16.8 62.4 18.0 63.1 18.8 64.0 19.3 65.2 19.5 67.0 19.2 68.2 18.7 69.0 17.5 69.8 16.0 70.4 14.2 70.8Z"/>
<path d="M14.0 71.3 11.2 71.5 8.8 71.2 6.8 70.6 5.1 69.5 4.0 68.0 3.6 66.2 3.9 64.2 4.8 62.8 6.0 61.8 7.2 61.1 8.8 60.7 10.2 60.6 12.8 60.9 16.2 61.7 17.8 62.3 18.8 63.0 19.6 64.0 20.0 65.2 20.2 67.2 19.8 68.5 19.0 69.4 17.8 70.2 16.0 70.8 14.0 71.3Z"/>
<path d="M14.0 71.8 11.2 72.0 8.5 71.6 6.2 70.8 4.7 69.8 3.5 68.2 3.0 66.2 3.2 64.2 3.7 63.2 4.3 62.5 5.6 61.5 7.0 60.7 8.5 60.3 10.2 60.2 12.5 60.4 16.8 61.4 18.2 61.9 19.5 62.8 20.2 63.8 20.7 65.2 20.8 67.2 20.4 68.8 19.5 69.7 18.2 70.5 16.2 71.2 14.0 71.8Z"/>
<path d="M13.8 72.3 11.0 72.5 8.0 72.0 5.8 71.1 4.0 69.8 2.8 68.0 2.4 65.8 2.8 63.8 3.8 62.2 5.2 61.1 6.8 60.4 8.5 59.9 10.2 59.8 12.8 60.0 17.2 61.0 19.0 61.7 20.1 62.5 20.9 63.8 21.3 65.2 21.4 67.5 20.9 69.0 20.0 70.0 18.5 70.9 16.2 71.7 13.8 72.3Z"/>
<path d="M13.8 72.8 11.0 73.0 7.8 72.4 5.2 71.4 3.4 70.0 2.3 68.2 1.8 65.8 2.1 63.8 2.6 62.8 3.3 62.0 4.8 60.9 6.8 59.9 8.2 59.5 10.2 59.4 12.8 59.6 17.8 60.7 19.5 61.3 20.7 62.2 21.5 63.5 22.0 65.2 22.0 67.5 21.5 69.2 20.5 70.3 19.0 71.2 16.5 72.1 13.8 72.8Z"/>
<path d="M12.2 73.5 9.8 73.3 6.2 72.4 4.0 71.2 2.3 69.5 1.7 68.5 1.4 67.2 1.3 64.2 2.1 62.5 3.7 61.0 5.5 60.0 7.2 59.3 9.2 59.0 11.5 59.0 18.8 60.4 20.5 61.3 21.7 62.5 22.5 64.2 22.7 67.0 22.4 68.8 21.6 70.0 20.2 71.1 18.5 71.9 14.8 73.1 12.2 73.5Z"/>
<path d="M12.8 74.0 10.2 73.9 6.2 72.9 3.8 71.7 1.9 70.0 1.3 69.0 0.8 67.8 0.6 64.8 1.2 62.8 2.5 61.2 4.5 59.9 6.5 59.1 8.8 58.6 11.0 58.6 13.2 58.8 18.8 59.9 20.8 60.8 22.2 62.0 23.1 64.0 23.3 66.5 23.1 68.5 22.2 70.1 21.0 71.3 19.2 72.2 15.5 73.4 12.8 74.0Z"/>
<path d="M13.2 74.5 10.5 74.5 6.2 73.4 3.5 72.2 1.5 70.5 0.8 69.5 0.3 68.2 -0.0 65.0 0.4 62.8 1.1 61.8 1.8 61.0 3.5 59.9 6.0 58.8 8.2 58.3 10.8 58.2 13.2 58.4 19.2 59.5 21.2 60.4 22.5 61.5 23.6 63.5 23.9 65.8 23.7 68.2 22.8 70.2 21.8 71.4 20.0 72.4 16.5 73.7 13.2 74.5Z"/>
<path d="M13.2 76.8 11.8 76.9 10.2 76.6 4.8 74.6 1.8 73.0 -0.4 71.0 -1.2 69.8 -1.7 68.2 -1.9 66.8 -1.9 64.5 -1.6 63.0 -1.1 61.8 -0.4 60.8 0.5 59.9 2.8 58.6 5.5 57.6 8.2 57.1 11.5 57.0 18.5 57.8 20.5 58.3 22.8 59.4 24.3 61.0 25.4 63.0 25.8 65.5 25.6 68.2 25.2 69.5 24.5 70.8 23.0 72.4 21.2 73.6 15.5 76.1 13.2 76.8Z"/>
<path d="M12.5 81.3 8.8 81.0 7.5 80.6 6.5 80.0 3.0 76.8 -0.8 73.8 -3.0 71.1 -3.1 66.0 -3.0 60.6 -1.5 58.9 1.0 57.4 4.5 56.2 8.8 55.5 12.8 55.5 19.2 56.1 21.8 56.8 24.2 58.2 26.2 60.0 27.5 62.0 28.1 64.2 28.0 68.0 27.4 70.0 26.1 72.0 23.5 74.8 17.8 79.6 15.0 80.9 12.5 81.3Z"/>
<line x1="0.9" y1="55" x2="0.9" y2="85" stroke-width="1.0"/>
</g></g>
<line x1="389.20" y1="409.00" x2="474.80" y2="409.00" stroke="#606060" stroke-width="1.1"/>
<line x1="474.30" y1="409.00" x2="474.30" y2="494.20" stroke="#9a9a9a" stroke-width="1.1"/>
<line x1="389.70" y1="409.00" x2="389.70" y2="494.20" stroke="#8a8a8a" stroke-width="0.9"/>
<line x1="389.70" y1="494.20" x2="474.30" y2="494.20" stroke="#8a8a8a" stroke-width="0.9"/>
<line x1="388.50" y1="430.55" x2="389.70" y2="430.55" stroke="#777" stroke-width="0.6"/>
<line x1="388.50" y1="427.19" x2="389.70" y2="427.19" stroke="#777" stroke-width="0.6"/>
<line x1="388.50" y1="424.80" x2="389.70" y2="424.80" stroke="#777" stroke-width="0.6"/>
<line x1="388.50" y1="422.95" x2="389.70" y2="422.95" stroke="#777" stroke-width="0.6"/>
<line x1="388.50" y1="421.44" x2="389.70" y2="421.44" stroke="#777" stroke-width="0.6"/>
<line x1="388.50" y1="420.16" x2="389.70" y2="420.16" stroke="#777" stroke-width="0.6"/>
<line x1="388.50" y1="419.05" x2="389.70" y2="419.05" stroke="#777" stroke-width="0.6"/>
<line x1="388.50" y1="418.07" x2="389.70" y2="418.07" stroke="#777" stroke-width="0.6"/>
<line x1="388.50" y1="449.93" x2="389.70" y2="449.93" stroke="#777" stroke-width="0.6"/>
<line x1="388.50" y1="446.50" x2="389.70" y2="446.50" stroke="#777" stroke-width="0.6"/>
<line x1="388.50" y1="444.06" x2="389.70" y2="444.06" stroke="#777" stroke-width="0.6"/>
<line x1="388.50" y1="442.17" x2="389.70" y2="442.17" stroke="#777" stroke-width="0.6"/>
<line x1="388.50" y1="440.63" x2="389.70" y2="440.63" stroke="#777" stroke-width="0.6"/>
<line x1="388.50" y1="439.32" x2="389.70" y2="439.32" stroke="#777" stroke-width="0.6"/>
<line x1="388.50" y1="438.19" x2="389.70" y2="438.19" stroke="#777" stroke-width="0.6"/>
<line x1="388.50" y1="437.19" x2="389.70" y2="437.19" stroke="#777" stroke-width="0.6"/>
<line x1="388.50" y1="469.57" x2="389.70" y2="469.57" stroke="#777" stroke-width="0.6"/>
<line x1="388.50" y1="466.10" x2="389.70" y2="466.10" stroke="#777" stroke-width="0.6"/>
<line x1="388.50" y1="463.64" x2="389.70" y2="463.64" stroke="#777" stroke-width="0.6"/>
<line x1="388.50" y1="461.73" x2="389.70" y2="461.73" stroke="#777" stroke-width="0.6"/>
<line x1="388.50" y1="460.17" x2="389.70" y2="460.17" stroke="#777" stroke-width="0.6"/>
<line x1="388.50" y1="458.85" x2="389.70" y2="458.85" stroke="#777" stroke-width="0.6"/>
<line x1="388.50" y1="457.71" x2="389.70" y2="457.71" stroke="#777" stroke-width="0.6"/>
<line x1="388.50" y1="456.70" x2="389.70" y2="456.70" stroke="#777" stroke-width="0.6"/>
<line x1="415.20" y1="494.20" x2="415.20" y2="495.40" stroke="#777" stroke-width="0.6"/>
<line x1="418.65" y1="494.20" x2="418.65" y2="495.40" stroke="#777" stroke-width="0.6"/>
<line x1="421.10" y1="494.20" x2="421.10" y2="495.40" stroke="#777" stroke-width="0.6"/>
<line x1="423.00" y1="494.20" x2="423.00" y2="495.40" stroke="#777" stroke-width="0.6"/>
<line x1="424.55" y1="494.20" x2="424.55" y2="495.40" stroke="#777" stroke-width="0.6"/>
<line x1="425.86" y1="494.20" x2="425.86" y2="495.40" stroke="#777" stroke-width="0.6"/>
<line x1="427.00" y1="494.20" x2="427.00" y2="495.40" stroke="#777" stroke-width="0.6"/>
<line x1="428.00" y1="494.20" x2="428.00" y2="495.40" stroke="#777" stroke-width="0.6"/>
<line x1="434.80" y1="494.20" x2="434.80" y2="495.40" stroke="#777" stroke-width="0.6"/>
<line x1="438.25" y1="494.20" x2="438.25" y2="495.40" stroke="#777" stroke-width="0.6"/>
<line x1="440.70" y1="494.20" x2="440.70" y2="495.40" stroke="#777" stroke-width="0.6"/>
<line x1="442.60" y1="494.20" x2="442.60" y2="495.40" stroke="#777" stroke-width="0.6"/>
<line x1="444.15" y1="494.20" x2="444.15" y2="495.40" stroke="#777" stroke-width="0.6"/>
<line x1="445.46" y1="494.20" x2="445.46" y2="495.40" stroke="#777" stroke-width="0.6"/>
<line x1="446.60" y1="494.20" x2="446.60" y2="495.40" stroke="#777" stroke-width="0.6"/>
<line x1="447.60" y1="494.20" x2="447.60" y2="495.40" stroke="#777" stroke-width="0.6"/>
<line x1="454.37" y1="494.20" x2="454.37" y2="495.40" stroke="#777" stroke-width="0.6"/>
<line x1="457.80" y1="494.20" x2="457.80" y2="495.40" stroke="#777" stroke-width="0.6"/>
<line x1="460.24" y1="494.20" x2="460.24" y2="495.40" stroke="#777" stroke-width="0.6"/>
<line x1="462.13" y1="494.20" x2="462.13" y2="495.40" stroke="#777" stroke-width="0.6"/>
<line x1="463.67" y1="494.20" x2="463.67" y2="495.40" stroke="#777" stroke-width="0.6"/>
<line x1="464.98" y1="494.20" x2="464.98" y2="495.40" stroke="#777" stroke-width="0.6"/>
<line x1="466.11" y1="494.20" x2="466.11" y2="495.40" stroke="#777" stroke-width="0.6"/>
<line x1="467.11" y1="494.20" x2="467.11" y2="495.40" stroke="#777" stroke-width="0.6"/>
<line x1="387.50" y1="417.20" x2="389.70" y2="417.20" stroke="#444" stroke-width="0.9"/>
<text x="372.50" y="419.70" font-size="7.2" fill="#333">10<tspan font-size="5" dy="-3.2">5</tspan></text>
<line x1="387.50" y1="436.30" x2="389.70" y2="436.30" stroke="#444" stroke-width="0.9"/>
<text x="372.50" y="438.80" font-size="7.2" fill="#333">10<tspan font-size="5" dy="-3.2">4</tspan></text>
<line x1="387.50" y1="455.80" x2="389.70" y2="455.80" stroke="#444" stroke-width="0.9"/>
<text x="372.50" y="458.30" font-size="7.2" fill="#333">10<tspan font-size="5" dy="-3.2">3</tspan></text>
<line x1="387.50" y1="475.50" x2="389.70" y2="475.50" stroke="#444" stroke-width="0.9"/>
<text x="372.50" y="478.00" font-size="7.2" fill="#333">10<tspan font-size="5" dy="-3.2">2</tspan></text>
<line x1="387.50" y1="485.20" x2="389.70" y2="485.20" stroke="#444" stroke-width="0.9"/>
<text x="382.20" y="487.70" font-size="7.2" text-anchor="middle" fill="#333" >0</text>
<line x1="398.40" y1="494.20" x2="398.40" y2="496.20" stroke="#444" stroke-width="0.9"/>
<text x="398.40" y="506.40" font-size="7.2" text-anchor="middle" fill="#333" >0</text>
<line x1="409.30" y1="494.20" x2="409.30" y2="496.20" stroke="#444" stroke-width="0.9"/>
<text x="404.00" y="506.40" font-size="7.2" fill="#333">10<tspan font-size="5" dy="-3.2">2</tspan></text>
<line x1="428.90" y1="494.20" x2="428.90" y2="496.20" stroke="#444" stroke-width="0.9"/>
<text x="423.60" y="506.40" font-size="7.2" fill="#333">10<tspan font-size="5" dy="-3.2">3</tspan></text>
<line x1="448.50" y1="494.20" x2="448.50" y2="496.20" stroke="#444" stroke-width="0.9"/>
<text x="443.20" y="506.40" font-size="7.2" fill="#333">10<tspan font-size="5" dy="-3.2">4</tspan></text>
<line x1="468.00" y1="494.20" x2="468.00" y2="496.20" stroke="#444" stroke-width="0.9"/>
<text x="462.70" y="506.40" font-size="7.2" fill="#333">10<tspan font-size="5" dy="-3.2">5</tspan></text>
<text x="481.00" y="237.10" font-size="9.6" text-anchor="middle" fill="#222" transform="rotate(90 481.00 237.10)" >Blood</text>
<text x="481.00" y="344.80" font-size="9.6" text-anchor="middle" fill="#222" transform="rotate(90 481.00 344.80)" >Bone marrow</text>
<text x="481.00" y="451.10" font-size="9.6" text-anchor="middle" fill="#222" transform="rotate(90 481.00 451.10)" >Spleen</text>
<line x1="24.20" y1="520.00" x2="24.20" y2="478.00" stroke="#000" stroke-width="1.3"/>
<polygon points="24.2,473.5 21.2,480 27.2,480" fill="#000"/>
<line x1="23.60" y1="519.80" x2="65.00" y2="519.80" stroke="#000" stroke-width="1.3"/>
<polygon points="69.8,519.8 63.3,516.8 63.3,522.8" fill="#000"/>
<text x="26.50" y="465.00" font-size="8" text-anchor="middle" fill="#222" transform="rotate(-90 26.50 465.00)" >IgM</text>
<text x="71.30" y="522.60" font-size="8" text-anchor="start" fill="#222" >IgD</text>
<text x="6.80" y="550.50" font-size="12.2" text-anchor="start" fill="#000" font-weight="bold" >D</text>
<line x1="52.00" y1="556.00" x2="52.00" y2="653.60" stroke="#000" stroke-width="1.2"/>
<line x1="51.40" y1="653.00" x2="202.50" y2="653.00" stroke="#000" stroke-width="1.2"/>
<line x1="49.00" y1="653.00" x2="52.00" y2="653.00" stroke="#000" stroke-width="1"/>
<text x="45.60" y="655.70" font-size="7.6" text-anchor="end" fill="#333" >0</text>
<line x1="49.00" y1="630.77" x2="52.00" y2="630.77" stroke="#000" stroke-width="1"/>
<text x="45.60" y="633.48" font-size="7.6" text-anchor="end" fill="#333" >25</text>
<line x1="49.00" y1="608.55" x2="52.00" y2="608.55" stroke="#000" stroke-width="1"/>
<text x="45.60" y="611.25" font-size="7.6" text-anchor="end" fill="#333" >50</text>
<line x1="49.00" y1="586.33" x2="52.00" y2="586.33" stroke="#000" stroke-width="1"/>
<text x="45.60" y="589.03" font-size="7.6" text-anchor="end" fill="#333" >75</text>
<line x1="49.00" y1="564.10" x2="52.00" y2="564.10" stroke="#000" stroke-width="1"/>
<text x="45.60" y="566.80" font-size="7.6" text-anchor="end" fill="#333" >100</text>
<line x1="52.00" y1="653.00" x2="52.00" y2="655.80" stroke="#000" stroke-width="1"/>
<text x="52.00" y="666.40" font-size="7.5" text-anchor="middle" fill="#333" >0</text>
<line x1="72.85" y1="653.00" x2="72.85" y2="655.80" stroke="#000" stroke-width="1"/>
<text x="72.85" y="666.40" font-size="7.5" text-anchor="middle" fill="#333" >10</text>
<line x1="93.70" y1="653.00" x2="93.70" y2="655.80" stroke="#000" stroke-width="1"/>
<text x="93.70" y="666.40" font-size="7.5" text-anchor="middle" fill="#333" >20</text>
<line x1="114.55" y1="653.00" x2="114.55" y2="655.80" stroke="#000" stroke-width="1"/>
<text x="114.55" y="666.40" font-size="7.5" text-anchor="middle" fill="#333" >30</text>
<line x1="135.40" y1="653.00" x2="135.40" y2="655.80" stroke="#000" stroke-width="1"/>
<text x="135.40" y="666.40" font-size="7.5" text-anchor="middle" fill="#333" >40</text>
<line x1="156.25" y1="653.00" x2="156.25" y2="655.80" stroke="#000" stroke-width="1"/>
<text x="156.25" y="666.40" font-size="7.5" text-anchor="middle" fill="#333" >50</text>
<line x1="177.10" y1="653.00" x2="177.10" y2="655.80" stroke="#000" stroke-width="1"/>
<text x="177.10" y="666.40" font-size="7.5" text-anchor="middle" fill="#333" >60</text>
<line x1="197.95" y1="653.00" x2="197.95" y2="655.80" stroke="#000" stroke-width="1"/>
<text x="28.00" y="605.00" font-size="8.2" text-anchor="middle" fill="#333" textLength="34" lengthAdjust="spacingAndGlyphs" transform="rotate(-90 28.00 605.00)" >% survival</text>
<polyline points="114.55,564.10 114.55,564.10 114.55,578.95 131.23,578.95 131.23,593.70 145.82,593.70 145.82,608.55 154.16,608.55 154.16,623.40 177.10,623.40 177.10,623.40 177.10,623.40 177.10,653.00" stroke="#d9ae55" stroke-width="1.2" fill="none" />
<polyline points="114.55,564.10 114.55,564.10 114.55,578.95 131.23,578.95 131.23,593.70 154.16,593.70 154.16,623.40 164.59,623.40 164.59,638.15 170.84,638.15 170.84,638.15 170.84,638.15 170.84,653.00" stroke="#a3203f" stroke-width="1.2" fill="none" />
<polyline points="110.38,564.10 110.38,564.10 110.38,576.81 118.72,576.81 118.72,589.53 135.40,589.53 135.40,614.86 154.16,614.86 154.16,640.29 177.10,640.29 177.10,640.29 177.10,640.29 177.10,653.00" stroke="#4c5f8a" stroke-width="1.2" fill="none" />
<polyline points="52.00,564.10 178.14,564.10 178.14,564.10" stroke="#4e3c64" stroke-width="1.2" fill="none" />
<line x1="178.14" y1="564.10" x2="178.14" y2="562.32" stroke="#4e3c64" stroke-width="1.2"/>
<line x1="157.40" y1="571.60" x2="165.90" y2="571.60" stroke="#5d4a78" stroke-width="1.2"/>
<circle cx="161.6" cy="571.6" r="1.2" fill="#5d4a78"/>
<text x="168.60" y="574.20" font-size="7.6" text-anchor="start" fill="#333" textLength="47" lengthAdjust="spacingAndGlyphs" >Control BMCs</text>
<line x1="157.40" y1="581.80" x2="165.90" y2="581.80" stroke="#a3203f" stroke-width="1.2"/>
<circle cx="161.6" cy="581.8" r="1.2" fill="#a3203f"/>
<text x="168.60" y="584.40" font-size="7.6" text-anchor="start" fill="#333" textLength="76.5" lengthAdjust="spacingAndGlyphs" >E&#956;-miR-125b Tg BMCs</text>
<line x1="157.40" y1="593.20" x2="165.90" y2="593.20" stroke="#4c5f8a" stroke-width="1.2"/>
<circle cx="161.6" cy="593.2" r="1.2" fill="#4c5f8a"/>
<text x="168.60" y="595.80" font-size="7.6" text-anchor="start" fill="#333" textLength="99.5" lengthAdjust="spacingAndGlyphs" >CD19cre IRF4<tspan font-size="5.0" dy="-2.9">flox/flox</tspan><tspan dy="2.9"> Tg BMCs</tspan></text>
<line x1="157.40" y1="603.40" x2="165.90" y2="603.40" stroke="#d9ae55" stroke-width="1.2"/>
<circle cx="161.6" cy="603.4" r="1.2" fill="#d9ae55"/>
<text x="168.60" y="606.00" font-size="7.6" text-anchor="start" fill="#333" textLength="58.5" lengthAdjust="spacingAndGlyphs" >Double Tg BMCs</text>
<text x="276.00" y="574.00" font-size="11" text-anchor="start" fill="#000" font-weight="bold" >E</text>
<rect x="294.30" y="574.30" width="9.50" height="5.40" fill="#4a2a6a" stroke="none" stroke-width="0" />
<text x="305.80" y="579.80" font-size="7.3" text-anchor="start" fill="#333" textLength="26" lengthAdjust="spacingAndGlyphs" >Control</text>
<rect x="294.30" y="586.20" width="9.50" height="5.40" fill="#2f4c86" stroke="none" stroke-width="0" />
<text x="305.80" y="591.70" font-size="7.3" text-anchor="start" fill="#333" textLength="22.8" lengthAdjust="spacingAndGlyphs" >IRF4-/-</text>
<rect x="335.20" y="574.30" width="9.50" height="5.40" fill="#c00f30" stroke="none" stroke-width="0" />
<text x="346.70" y="579.80" font-size="7.3" text-anchor="start" fill="#333" textLength="42.4" lengthAdjust="spacingAndGlyphs" >E&#956;-miR-125b</text>
<rect x="335.20" y="586.20" width="9.50" height="5.40" fill="#e8951f" stroke="none" stroke-width="0" />
<text x="346.70" y="591.70" font-size="7.3" text-anchor="start" fill="#333" textLength="67" lengthAdjust="spacingAndGlyphs" >E&#956;-miR-125b/IRF4<tspan font-size="4.5" dy="-2.5">-/-</tspan></text>
<line x1="317.00" y1="603.00" x2="317.00" y2="655.60" stroke="#000" stroke-width="1.1"/>
<line x1="316.50" y1="655.00" x2="393.00" y2="655.00" stroke="#000" stroke-width="1.1"/>
<line x1="314.50" y1="655.00" x2="317.00" y2="655.00" stroke="#000" stroke-width="1"/>
<text x="310.60" y="657.70" font-size="7.2" text-anchor="end" fill="#333" textLength="4.1" lengthAdjust="spacingAndGlyphs" >0</text>
<line x1="314.50" y1="642.55" x2="317.00" y2="642.55" stroke="#000" stroke-width="1"/>
<text x="310.60" y="645.25" font-size="7.2" text-anchor="end" fill="#333" textLength="12.299999999999999" lengthAdjust="spacingAndGlyphs" >200</text>
<line x1="314.50" y1="630.10" x2="317.00" y2="630.10" stroke="#000" stroke-width="1"/>
<text x="310.60" y="632.80" font-size="7.2" text-anchor="end" fill="#333" textLength="12.299999999999999" lengthAdjust="spacingAndGlyphs" >400</text>
<line x1="314.50" y1="617.65" x2="317.00" y2="617.65" stroke="#000" stroke-width="1"/>
<text x="310.60" y="620.35" font-size="7.2" text-anchor="end" fill="#333" textLength="12.299999999999999" lengthAdjust="spacingAndGlyphs" >600</text>
<line x1="314.50" y1="605.20" x2="317.00" y2="605.20" stroke="#000" stroke-width="1"/>
<text x="310.60" y="607.90" font-size="7.2" text-anchor="end" fill="#333" textLength="12.299999999999999" lengthAdjust="spacingAndGlyphs" >800</text>
<rect x="320.40" y="648.15" width="13.40" height="6.85" fill="#4a2a6a" stroke="none" stroke-width="0" />
<line x1="327.10" y1="648.15" x2="327.10" y2="647.65" stroke="#4a2a6a" stroke-width="1.2"/>
<line x1="323.80" y1="647.65" x2="330.40" y2="647.65" stroke="#4a2a6a" stroke-width="1.2"/>
<line x1="327.10" y1="655.00" x2="327.10" y2="657.50" stroke="#000" stroke-width="1"/>
<rect x="338.80" y="625.74" width="13.40" height="29.26" fill="#c00f30" stroke="none" stroke-width="0" />
<line x1="345.50" y1="625.74" x2="345.50" y2="622.32" stroke="#c00f30" stroke-width="1.2"/>
<line x1="342.20" y1="622.32" x2="348.80" y2="622.32" stroke="#c00f30" stroke-width="1.2"/>
<line x1="345.50" y1="655.00" x2="345.50" y2="657.50" stroke="#000" stroke-width="1"/>
<rect x="357.30" y="626.37" width="13.40" height="28.64" fill="#2f4c86" stroke="none" stroke-width="0" />
<line x1="364.00" y1="626.37" x2="364.00" y2="622.32" stroke="#2f4c86" stroke-width="1.2"/>
<line x1="360.70" y1="622.32" x2="367.30" y2="622.32" stroke="#2f4c86" stroke-width="1.2"/>
<line x1="364.00" y1="655.00" x2="364.00" y2="657.50" stroke="#000" stroke-width="1"/>
<rect x="375.80" y="623.56" width="13.40" height="31.44" fill="#e8951f" stroke="none" stroke-width="0" />
<line x1="382.50" y1="623.56" x2="382.50" y2="617.34" stroke="#e8951f" stroke-width="1.2"/>
<line x1="379.20" y1="617.34" x2="385.80" y2="617.34" stroke="#e8951f" stroke-width="1.2"/>
<line x1="382.50" y1="655.00" x2="382.50" y2="657.50" stroke="#000" stroke-width="1"/>
<text x="293.20" y="628.90" font-size="6.6" text-anchor="middle" fill="#333" textLength="56" lengthAdjust="spacingAndGlyphs" transform="rotate(-90 293.20 628.90)" >Spleen weight (mg)</text>
<text x="417.20" y="573.80" font-size="11" text-anchor="start" fill="#000" font-weight="bold" >F</text>
<rect x="438.60" y="579.00" width="10.00" height="5.40" fill="#4a2a6a" stroke="none" stroke-width="0" />
<text x="451.30" y="584.50" font-size="7.3" text-anchor="start" fill="#333" textLength="12.7" lengthAdjust="spacingAndGlyphs" >MG</text>
<rect x="470.90" y="579.00" width="10.00" height="5.40" fill="#c00f30" stroke="none" stroke-width="0" />
<text x="483.00" y="584.50" font-size="7.3" text-anchor="start" fill="#333" textLength="30.7" lengthAdjust="spacingAndGlyphs" >MG-IRF4</text>
<line x1="459.10" y1="603.40" x2="459.10" y2="655.80" stroke="#000" stroke-width="1.1"/>
<line x1="458.60" y1="655.20" x2="494.60" y2="655.20" stroke="#000" stroke-width="1.1"/>
<line x1="456.60" y1="655.20" x2="459.10" y2="655.20" stroke="#000" stroke-width="1"/>
<text x="455.60" y="657.90" font-size="7.6" text-anchor="end" fill="#333" textLength="5.3" lengthAdjust="spacingAndGlyphs" >0</text>
<line x1="456.60" y1="638.65" x2="459.10" y2="638.65" stroke="#000" stroke-width="1"/>
<text x="455.60" y="641.35" font-size="7.6" text-anchor="end" fill="#333" textLength="5.3" lengthAdjust="spacingAndGlyphs" >5</text>
<line x1="456.60" y1="622.10" x2="459.10" y2="622.10" stroke="#000" stroke-width="1"/>
<text x="455.60" y="624.80" font-size="7.6" text-anchor="end" fill="#333" textLength="10.6" lengthAdjust="spacingAndGlyphs" >10</text>
<line x1="456.60" y1="605.55" x2="459.10" y2="605.55" stroke="#000" stroke-width="1"/>
<text x="455.60" y="608.25" font-size="7.6" text-anchor="end" fill="#333" textLength="10.6" lengthAdjust="spacingAndGlyphs" >15</text>
<rect x="461.40" y="614.49" width="13.20" height="40.71" fill="#4a2a6a" stroke="none" stroke-width="0" />
<line x1="468.00" y1="614.49" x2="468.00" y2="612.17" stroke="#4a2a6a" stroke-width="1.2"/>
<line x1="464.70" y1="612.17" x2="471.30" y2="612.17" stroke="#4a2a6a" stroke-width="1.2"/>
<line x1="468.00" y1="655.20" x2="468.00" y2="657.70" stroke="#000" stroke-width="1"/>
<rect x="479.80" y="611.84" width="13.20" height="43.36" fill="#c00f30" stroke="none" stroke-width="0" />
<line x1="486.40" y1="611.84" x2="486.40" y2="609.52" stroke="#c00f30" stroke-width="1.2"/>
<line x1="483.10" y1="609.52" x2="489.70" y2="609.52" stroke="#c00f30" stroke-width="1.2"/>
<line x1="486.40" y1="655.20" x2="486.40" y2="657.70" stroke="#000" stroke-width="1"/>
<polyline points="462.90,608.00 462.90,606.10 488.70,606.10 488.70,608.00" stroke="#000" stroke-width="1" fill="none" />
<text x="476.20" y="602.40" font-size="7.2" text-anchor="middle" fill="#333" >NS</text>
<text x="438.80" y="628.50" font-size="8.4" text-anchor="middle" fill="#333" textLength="52.5" lengthAdjust="spacingAndGlyphs" transform="rotate(-90 438.80 628.50)" >% of B220<tspan font-size="5.8" dy="-3.2">+</tspan><tspan dy="3.2"> cells</tspan></text>
<rect x="0.6" y="0.6" width="518.8" height="672.8" fill="none" stroke="#000" stroke-width="1.4"/>
</svg>
</body></html>
